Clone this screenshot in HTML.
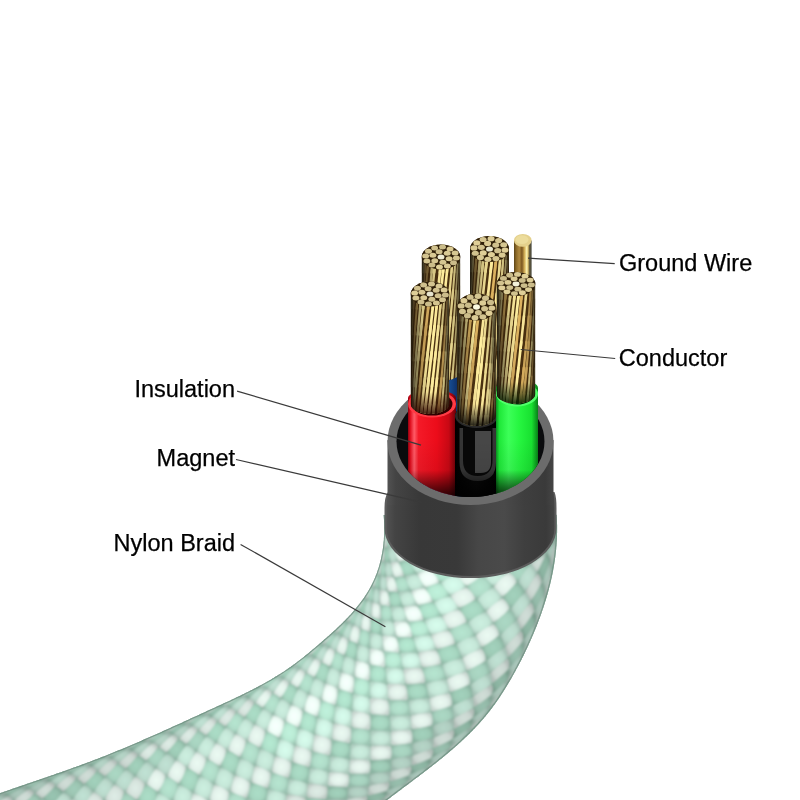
<!DOCTYPE html>
<html><head><meta charset="utf-8"><style>
html,body{margin:0;padding:0;background:#fff;width:800px;height:800px;overflow:hidden}
svg{display:block}
#lbls{position:absolute;left:0;top:0;will-change:transform}
.lbl{font-family:"Liberation Sans",sans-serif;font-size:23.5px;fill:#000;stroke:#000;stroke-width:0.25px}
</style></head><body>
<svg width="800" height="800" viewBox="0 0 800 800">
<defs>
<filter id="soft" x="-5%" y="-5%" width="110%" height="110%"><feGaussianBlur stdDeviation="1.2"/></filter>
<filter id="soft2" x="-5%" y="-5%" width="110%" height="110%"><feGaussianBlur stdDeviation="0.35"/></filter>
<clipPath id="bodyclip"><path d="M383.6,514.9 L383.7,516.2 L383.8,517.5 L383.9,518.8 L384.0,520.1 L384.0,521.4 L384.1,522.6 L384.2,523.9 L384.2,525.2 L384.2,526.5 L384.2,527.8 L384.2,529.1 L384.2,530.4 L384.2,531.7 L384.2,533.0 L384.1,534.3 L384.1,535.6 L384.0,536.9 L383.9,538.2 L383.9,539.4 L383.8,540.7 L383.6,542.0 L383.5,543.3 L383.4,544.6 L383.2,545.9 L383.1,547.1 L382.9,548.4 L382.7,549.7 L382.5,551.0 L382.3,552.2 L382.1,553.5 L381.8,554.8 L381.6,556.0 L381.3,557.3 L381.1,558.5 L380.8,559.8 L380.5,561.0 L380.2,562.3 L379.8,563.5 L379.5,564.7 L379.1,565.9 L378.8,567.2 L378.4,568.4 L378.0,569.6 L377.6,570.8 L377.2,572.0 L376.8,573.2 L376.3,574.4 L375.8,575.6 L375.4,576.8 L374.9,577.9 L374.4,579.1 L373.9,580.3 L373.3,581.4 L372.8,582.6 L372.2,583.7 L371.7,584.8 L371.1,586.0 L370.5,587.1 L369.9,588.2 L369.2,589.3 L368.6,590.4 L368.0,591.5 L367.3,592.6 L366.6,593.7 L365.9,594.7 L365.2,595.8 L364.5,596.9 L363.8,597.9 L363.1,599.0 L362.3,600.0 L361.6,601.0 L360.8,602.1 L360.1,603.1 L359.3,604.1 L358.5,605.1 L357.7,606.1 L356.9,607.1 L356.1,608.1 L355.3,609.1 L354.5,610.1 L353.6,611.0 L352.8,612.0 L351.9,613.0 L351.1,613.9 L350.2,614.9 L349.3,615.8 L348.5,616.7 L347.6,617.7 L346.7,618.6 L345.8,619.5 L344.9,620.4 L344.0,621.3 L343.1,622.3 L342.2,623.2 L341.3,624.1 L340.4,624.9 L339.4,625.8 L338.5,626.7 L337.6,627.6 L336.6,628.5 L335.7,629.4 L334.8,630.2 L333.8,631.1 L332.9,632.0 L331.9,632.8 L331.0,633.7 L330.0,634.5 L329.1,635.4 L328.1,636.3 L327.1,637.1 L326.2,637.9 L325.2,638.8 L324.2,639.6 L323.3,640.5 L322.3,641.3 L321.3,642.2 L320.4,643.0 L319.4,643.8 L318.4,644.7 L317.5,645.5 L316.5,646.3 L315.5,647.2 L314.6,648.0 L313.6,648.8 L312.6,649.6 L311.6,650.4 L310.6,651.3 L309.7,652.1 L308.7,652.9 L307.7,653.7 L306.7,654.5 L305.7,655.3 L304.7,656.1 L303.8,656.9 L302.8,657.7 L301.8,658.5 L300.8,659.3 L299.8,660.0 L298.8,660.8 L297.7,661.6 L296.7,662.4 L295.7,663.1 L294.7,663.9 L293.7,664.6 L292.7,665.4 L291.6,666.1 L290.6,666.9 L289.6,667.6 L288.5,668.3 L287.5,669.0 L286.4,669.8 L285.4,670.5 L284.3,671.2 L283.3,671.9 L282.2,672.6 L281.1,673.2 L280.1,673.9 L279.0,674.6 L277.9,675.3 L276.8,676.0 L275.7,676.6 L274.6,677.3 L273.6,677.9 L272.5,678.6 L271.4,679.2 L270.3,679.9 L269.2,680.5 L268.0,681.2 L266.9,681.8 L265.8,682.4 L264.7,683.0 L263.6,683.7 L262.5,684.3 L261.3,684.9 L260.2,685.5 L259.1,686.1 L258.0,686.7 L256.8,687.3 L255.7,687.9 L254.6,688.5 L253.4,689.1 L252.3,689.7 L251.1,690.3 L250.0,690.8 L248.8,691.4 L247.7,692.0 L246.5,692.6 L245.4,693.1 L244.2,693.7 L243.1,694.3 L241.9,694.8 L240.8,695.4 L239.6,696.0 L238.5,696.5 L237.3,697.1 L236.1,697.6 L235.0,698.2 L233.8,698.7 L232.6,699.3 L231.5,699.8 L230.3,700.4 L229.1,700.9 L228.0,701.5 L226.8,702.0 L225.6,702.5 L224.5,703.1 L223.3,703.6 L222.1,704.2 L220.9,704.7 L219.8,705.2 L218.6,705.8 L217.4,706.3 L216.3,706.8 L215.1,707.4 L213.9,707.9 L212.7,708.5 L211.6,709.0 L210.4,709.5 L209.2,710.1 L208.1,710.6 L206.9,711.1 L205.7,711.7 L204.6,712.2 L203.4,712.7 L202.2,713.3 L201.0,713.8 L199.9,714.3 L198.7,714.9 L197.5,715.4 L196.4,715.9 L195.2,716.5 L194.0,717.0 L192.9,717.6 L191.7,718.1 L190.5,718.6 L189.4,719.2 L188.2,719.7 L187.0,720.2 L185.9,720.8 L184.7,721.3 L183.5,721.8 L182.4,722.4 L181.2,722.9 L180.1,723.4 L178.9,724.0 L177.7,724.5 L176.6,725.0 L175.4,725.5 L174.2,726.1 L173.1,726.6 L171.9,727.1 L170.7,727.7 L169.6,728.2 L168.4,728.7 L167.2,729.2 L166.1,729.8 L164.9,730.3 L163.7,730.8 L162.6,731.3 L161.4,731.9 L160.2,732.4 L159.1,732.9 L157.9,733.4 L156.7,734.0 L155.6,734.5 L154.4,735.0 L153.2,735.5 L152.1,736.0 L150.9,736.5 L149.7,737.1 L148.6,737.6 L147.4,738.1 L146.2,738.6 L145.0,739.1 L143.9,739.6 L142.7,740.1 L141.5,740.7 L140.4,741.2 L139.2,741.7 L138.0,742.2 L136.8,742.7 L135.7,743.2 L134.5,743.7 L133.3,744.2 L132.1,744.7 L131.0,745.2 L129.8,745.7 L128.6,746.2 L127.4,746.7 L126.3,747.2 L125.1,747.7 L123.9,748.2 L122.7,748.7 L121.6,749.2 L120.4,749.7 L119.2,750.1 L118.0,750.6 L116.8,751.1 L115.6,751.6 L114.5,752.1 L113.3,752.6 L112.1,753.0 L110.9,753.5 L109.7,754.0 L108.5,754.5 L107.3,755.0 L106.2,755.4 L105.0,755.9 L103.8,756.4 L102.6,756.8 L101.4,757.3 L100.2,757.8 L99.0,758.2 L97.8,758.7 L96.6,759.2 L95.4,759.6 L94.2,760.1 L93.0,760.5 L91.8,761.0 L90.6,761.4 L89.4,761.9 L88.2,762.3 L87.0,762.8 L85.8,763.2 L84.6,763.7 L83.4,764.1 L82.2,764.6 L81.0,765.0 L79.8,765.5 L78.6,765.9 L77.4,766.3 L76.2,766.8 L75.0,767.2 L73.8,767.6 L72.6,768.1 L71.3,768.5 L70.1,768.9 L68.9,769.4 L67.7,769.8 L66.5,770.2 L65.3,770.7 L64.1,771.1 L62.9,771.5 L61.7,771.9 L60.4,772.4 L59.2,772.8 L58.0,773.2 L56.8,773.6 L55.6,774.1 L54.4,774.5 L53.2,774.9 L52.0,775.3 L50.7,775.7 L49.5,776.2 L48.3,776.6 L47.1,777.0 L45.9,777.4 L44.7,777.8 L43.4,778.2 L42.2,778.7 L41.0,779.1 L39.8,779.5 L38.6,779.9 L37.4,780.3 L36.2,780.7 L34.9,781.2 L33.7,781.6 L32.5,782.0 L31.3,782.4 L30.1,782.8 L28.9,783.2 L27.7,783.6 L26.4,784.1 L25.2,784.5 L24.0,784.9 L22.8,785.3 L21.6,785.7 L20.4,786.1 L19.2,786.6 L17.9,787.0 L16.7,787.4 L15.5,787.8 L14.3,788.2 L13.1,788.6 L11.9,789.1 L10.7,789.5 L9.5,789.9 L8.3,790.3 L7.1,790.7 L5.8,791.2 L4.6,791.6 L3.4,792.0 L2.2,792.4 L1.0,792.8 L-0.2,793.3 L-1.4,793.7 L-2.6,794.1 L-3.8,794.5 L-5.0,795.0 L-5.0,810.0 L384.0,810.0 L383.2,803.1 L383.9,802.5 L384.6,802.0 L385.3,801.4 L386.0,800.9 L386.7,800.4 L387.4,799.8 L388.1,799.3 L388.8,798.8 L389.5,798.2 L390.2,797.7 L390.9,797.2 L391.6,796.6 L392.3,796.1 L393.0,795.6 L393.7,795.0 L394.4,794.5 L395.1,794.0 L395.8,793.4 L396.5,792.9 L397.2,792.4 L397.9,791.8 L398.6,791.3 L399.4,790.8 L400.1,790.2 L400.8,789.7 L401.5,789.2 L402.2,788.6 L402.9,788.1 L403.6,787.6 L404.3,787.1 L405.0,786.5 L405.7,786.0 L406.4,785.5 L407.1,784.9 L407.8,784.4 L408.6,783.9 L409.3,783.3 L410.0,782.8 L410.7,782.3 L411.4,781.7 L412.1,781.2 L412.8,780.7 L413.5,780.1 L414.2,779.6 L414.9,779.1 L415.6,778.5 L416.3,778.0 L417.0,777.5 L417.8,776.9 L418.5,776.4 L419.2,775.9 L419.9,775.3 L420.6,774.8 L421.3,774.3 L422.0,773.7 L422.7,773.2 L423.4,772.7 L424.1,772.1 L424.8,771.6 L425.5,771.0 L426.2,770.5 L426.9,770.0 L427.6,769.4 L428.3,768.9 L429.0,768.3 L429.7,767.8 L430.4,767.3 L431.1,766.7 L431.8,766.2 L432.5,765.6 L433.2,765.1 L433.9,764.5 L434.6,764.0 L435.3,763.4 L436.0,762.9 L436.7,762.3 L437.4,761.8 L438.1,761.2 L438.7,760.7 L439.4,760.1 L440.1,759.6 L440.8,759.0 L441.5,758.5 L442.2,757.9 L442.9,757.3 L443.5,756.8 L444.2,756.2 L444.9,755.7 L445.6,755.1 L446.3,754.5 L446.9,754.0 L447.6,753.4 L448.3,752.8 L449.0,752.3 L449.6,751.7 L450.3,751.1 L451.0,750.6 L451.6,750.0 L452.3,749.4 L453.0,748.8 L453.6,748.3 L454.3,747.7 L455.0,747.1 L455.6,746.5 L456.3,745.9 L456.9,745.4 L457.6,744.8 L458.2,744.2 L458.9,743.6 L459.5,743.0 L460.2,742.4 L460.8,741.8 L461.5,741.2 L462.1,740.6 L462.8,740.0 L463.4,739.4 L464.0,738.8 L464.7,738.2 L465.3,737.6 L466.0,737.0 L466.6,736.4 L467.2,735.8 L467.8,735.2 L468.5,734.6 L469.1,734.0 L469.7,733.4 L470.3,732.7 L470.9,732.1 L471.6,731.5 L472.2,730.9 L472.8,730.2 L473.4,729.6 L474.0,729.0 L474.6,728.4 L475.2,727.7 L475.8,727.1 L476.4,726.5 L477.0,725.8 L477.6,725.2 L478.2,724.5 L478.8,723.9 L479.4,723.2 L480.0,722.6 L480.5,721.9 L481.1,721.3 L481.7,720.6 L482.3,720.0 L482.8,719.3 L483.4,718.7 L484.0,718.0 L484.5,717.3 L485.1,716.7 L485.7,716.0 L486.2,715.3 L486.8,714.6 L487.3,714.0 L487.9,713.3 L488.4,712.6 L489.0,711.9 L489.5,711.2 L490.1,710.5 L490.6,709.8 L491.1,709.1 L491.7,708.5 L492.2,707.8 L492.7,707.0 L493.2,706.3 L493.7,705.6 L494.3,704.9 L494.8,704.2 L495.3,703.5 L495.8,702.8 L496.3,702.1 L496.8,701.4 L497.3,700.6 L497.8,699.9 L498.3,699.2 L498.8,698.5 L499.3,697.7 L499.8,697.0 L500.3,696.3 L500.8,695.5 L501.2,694.8 L501.7,694.0 L502.2,693.3 L502.7,692.6 L503.2,691.8 L503.6,691.1 L504.1,690.3 L504.6,689.6 L505.0,688.8 L505.5,688.1 L506.0,687.3 L506.4,686.6 L506.9,685.8 L507.3,685.0 L507.8,684.3 L508.2,683.5 L508.7,682.8 L509.1,682.0 L509.6,681.2 L510.0,680.5 L510.5,679.7 L510.9,678.9 L511.4,678.2 L511.8,677.4 L512.3,676.6 L512.7,675.8 L513.1,675.1 L513.6,674.3 L514.0,673.5 L514.4,672.7 L514.8,672.0 L515.3,671.2 L515.7,670.4 L516.1,669.6 L516.5,668.8 L517.0,668.1 L517.4,667.3 L517.8,666.5 L518.2,665.7 L518.6,664.9 L519.1,664.1 L519.5,663.3 L519.9,662.5 L520.3,661.8 L520.7,661.0 L521.1,660.2 L521.5,659.4 L521.9,658.6 L522.3,657.8 L522.7,657.0 L523.1,656.2 L523.5,655.4 L523.9,654.6 L524.3,653.8 L524.7,653.0 L525.0,652.2 L525.4,651.4 L525.8,650.6 L526.2,649.8 L526.6,649.0 L527.0,648.2 L527.3,647.4 L527.7,646.6 L528.1,645.8 L528.5,645.0 L528.8,644.1 L529.2,643.3 L529.6,642.5 L529.9,641.7 L530.3,640.9 L530.6,640.1 L531.0,639.3 L531.4,638.5 L531.7,637.7 L532.1,636.8 L532.4,636.0 L532.8,635.2 L533.1,634.4 L533.5,633.6 L533.8,632.8 L534.1,631.9 L534.5,631.1 L534.8,630.3 L535.2,629.5 L535.5,628.6 L535.8,627.8 L536.2,627.0 L536.5,626.2 L536.8,625.4 L537.1,624.5 L537.5,623.7 L537.8,622.9 L538.1,622.1 L538.4,621.2 L538.7,620.4 L539.0,619.6 L539.3,618.7 L539.7,617.9 L540.0,617.1 L540.3,616.2 L540.6,615.4 L540.9,614.6 L541.2,613.8 L541.5,612.9 L541.7,612.1 L542.0,611.3 L542.3,610.4 L542.6,609.6 L542.9,608.7 L543.2,607.9 L543.5,607.1 L543.7,606.2 L544.0,605.4 L544.3,604.6 L544.5,603.7 L544.8,602.9 L545.1,602.0 L545.3,601.2 L545.6,600.4 L545.9,599.5 L546.1,598.7 L546.4,597.8 L546.6,597.0 L546.9,596.2 L547.1,595.3 L547.4,594.5 L547.6,593.6 L547.8,592.8 L548.1,591.9 L548.3,591.1 L548.5,590.2 L548.8,589.4 L549.0,588.5 L549.2,587.7 L549.4,586.8 L549.6,586.0 L549.9,585.1 L550.1,584.3 L550.3,583.4 L550.5,582.6 L550.7,581.7 L550.9,580.9 L551.1,580.0 L551.3,579.1 L551.5,578.3 L551.7,577.4 L551.8,576.6 L552.0,575.7 L552.2,574.9 L552.4,574.0 L552.6,573.1 L552.7,572.3 L552.9,571.4 L553.1,570.6 L553.2,569.7 L553.4,568.8 L553.5,568.0 L553.7,567.1 L553.8,566.2 L554.0,565.4 L554.1,564.5 L554.3,563.6 L554.4,562.8 L554.5,561.9 L554.7,561.0 L554.8,560.2 L554.9,559.3 L555.0,558.4 L555.2,557.5 L555.3,556.7 L555.4,555.8 L555.5,554.9 L555.6,554.0 L555.7,553.2 L555.8,552.3 L555.9,551.4 L556.0,550.5 L556.1,549.7 L556.2,548.8 L556.2,547.9 L556.3,547.0 L556.4,546.1 L556.5,545.3 L556.5,544.4 L556.6,543.5 L556.6,542.6 L556.7,541.7 L556.8,540.8 L556.8,540.0 L556.9,539.1 L556.9,538.2 L556.9,537.3 L557.0,536.4 L557.0,535.5 L557.0,534.6 L557.0,533.7 L557.1,532.8 L557.1,531.9 L557.1,531.1 L557.1,530.2 L557.1,529.3 L557.1,528.4 L557.1,527.5 L557.1,526.6 L557.1,525.7 L557.1,524.8 L557.0,523.9 L557.0,523.0 L557.0,522.1 L557.0,521.2 L556.9,520.3 L556.9,519.4 L556.8,518.5 L556.8,517.6 L556.7,516.7 L556.7,515.8 L556.6,514.8 Z"/></clipPath>
<linearGradient id="sleeveG" x1="0" x2="1" y1="0" y2="0">
<stop offset="0" stop-color="#525252"/><stop offset="0.05" stop-color="#444"/><stop offset="0.2" stop-color="#383838"/><stop offset="0.42" stop-color="#393939"/><stop offset="0.55" stop-color="#474747"/><stop offset="0.7" stop-color="#4a4a4a"/><stop offset="0.82" stop-color="#3f3f3f"/><stop offset="0.95" stop-color="#3a3a3a"/><stop offset="1" stop-color="#454545"/>
</linearGradient>
<linearGradient id="cshade" x1="0" x2="1" y1="0" y2="0">
<stop offset="0" stop-color="#000" stop-opacity="0.7"/><stop offset="0.1" stop-color="#000" stop-opacity="0.3"/><stop offset="0.3" stop-color="#000" stop-opacity="0.05"/><stop offset="0.6" stop-color="#000" stop-opacity="0"/><stop offset="0.85" stop-color="#000" stop-opacity="0.08"/><stop offset="1" stop-color="#000" stop-opacity="0.55"/>
</linearGradient>
<linearGradient id="holefade" x1="0" x2="0" y1="0" y2="1">
<stop offset="0" stop-color="#000" stop-opacity="0"/><stop offset="0.5" stop-color="#000" stop-opacity="0.06"/><stop offset="0.78" stop-color="#000" stop-opacity="0.55"/><stop offset="1" stop-color="#000" stop-opacity="0.9"/>
</linearGradient>
<clipPath id="holeclip"><ellipse cx="470.5" cy="441.5" rx="74" ry="55.5"/><rect x="300" y="150" width="300" height="291.5"/></clipPath>
</defs>
<rect width="800" height="800" fill="#fff"/>

<path d="M383.6,514.9 L383.7,516.2 L383.8,517.5 L383.9,518.8 L384.0,520.1 L384.0,521.4 L384.1,522.6 L384.2,523.9 L384.2,525.2 L384.2,526.5 L384.2,527.8 L384.2,529.1 L384.2,530.4 L384.2,531.7 L384.2,533.0 L384.1,534.3 L384.1,535.6 L384.0,536.9 L383.9,538.2 L383.9,539.4 L383.8,540.7 L383.6,542.0 L383.5,543.3 L383.4,544.6 L383.2,545.9 L383.1,547.1 L382.9,548.4 L382.7,549.7 L382.5,551.0 L382.3,552.2 L382.1,553.5 L381.8,554.8 L381.6,556.0 L381.3,557.3 L381.1,558.5 L380.8,559.8 L380.5,561.0 L380.2,562.3 L379.8,563.5 L379.5,564.7 L379.1,565.9 L378.8,567.2 L378.4,568.4 L378.0,569.6 L377.6,570.8 L377.2,572.0 L376.8,573.2 L376.3,574.4 L375.8,575.6 L375.4,576.8 L374.9,577.9 L374.4,579.1 L373.9,580.3 L373.3,581.4 L372.8,582.6 L372.2,583.7 L371.7,584.8 L371.1,586.0 L370.5,587.1 L369.9,588.2 L369.2,589.3 L368.6,590.4 L368.0,591.5 L367.3,592.6 L366.6,593.7 L365.9,594.7 L365.2,595.8 L364.5,596.9 L363.8,597.9 L363.1,599.0 L362.3,600.0 L361.6,601.0 L360.8,602.1 L360.1,603.1 L359.3,604.1 L358.5,605.1 L357.7,606.1 L356.9,607.1 L356.1,608.1 L355.3,609.1 L354.5,610.1 L353.6,611.0 L352.8,612.0 L351.9,613.0 L351.1,613.9 L350.2,614.9 L349.3,615.8 L348.5,616.7 L347.6,617.7 L346.7,618.6 L345.8,619.5 L344.9,620.4 L344.0,621.3 L343.1,622.3 L342.2,623.2 L341.3,624.1 L340.4,624.9 L339.4,625.8 L338.5,626.7 L337.6,627.6 L336.6,628.5 L335.7,629.4 L334.8,630.2 L333.8,631.1 L332.9,632.0 L331.9,632.8 L331.0,633.7 L330.0,634.5 L329.1,635.4 L328.1,636.3 L327.1,637.1 L326.2,637.9 L325.2,638.8 L324.2,639.6 L323.3,640.5 L322.3,641.3 L321.3,642.2 L320.4,643.0 L319.4,643.8 L318.4,644.7 L317.5,645.5 L316.5,646.3 L315.5,647.2 L314.6,648.0 L313.6,648.8 L312.6,649.6 L311.6,650.4 L310.6,651.3 L309.7,652.1 L308.7,652.9 L307.7,653.7 L306.7,654.5 L305.7,655.3 L304.7,656.1 L303.8,656.9 L302.8,657.7 L301.8,658.5 L300.8,659.3 L299.8,660.0 L298.8,660.8 L297.7,661.6 L296.7,662.4 L295.7,663.1 L294.7,663.9 L293.7,664.6 L292.7,665.4 L291.6,666.1 L290.6,666.9 L289.6,667.6 L288.5,668.3 L287.5,669.0 L286.4,669.8 L285.4,670.5 L284.3,671.2 L283.3,671.9 L282.2,672.6 L281.1,673.2 L280.1,673.9 L279.0,674.6 L277.9,675.3 L276.8,676.0 L275.7,676.6 L274.6,677.3 L273.6,677.9 L272.5,678.6 L271.4,679.2 L270.3,679.9 L269.2,680.5 L268.0,681.2 L266.9,681.8 L265.8,682.4 L264.7,683.0 L263.6,683.7 L262.5,684.3 L261.3,684.9 L260.2,685.5 L259.1,686.1 L258.0,686.7 L256.8,687.3 L255.7,687.9 L254.6,688.5 L253.4,689.1 L252.3,689.7 L251.1,690.3 L250.0,690.8 L248.8,691.4 L247.7,692.0 L246.5,692.6 L245.4,693.1 L244.2,693.7 L243.1,694.3 L241.9,694.8 L240.8,695.4 L239.6,696.0 L238.5,696.5 L237.3,697.1 L236.1,697.6 L235.0,698.2 L233.8,698.7 L232.6,699.3 L231.5,699.8 L230.3,700.4 L229.1,700.9 L228.0,701.5 L226.8,702.0 L225.6,702.5 L224.5,703.1 L223.3,703.6 L222.1,704.2 L220.9,704.7 L219.8,705.2 L218.6,705.8 L217.4,706.3 L216.3,706.8 L215.1,707.4 L213.9,707.9 L212.7,708.5 L211.6,709.0 L210.4,709.5 L209.2,710.1 L208.1,710.6 L206.9,711.1 L205.7,711.7 L204.6,712.2 L203.4,712.7 L202.2,713.3 L201.0,713.8 L199.9,714.3 L198.7,714.9 L197.5,715.4 L196.4,715.9 L195.2,716.5 L194.0,717.0 L192.9,717.6 L191.7,718.1 L190.5,718.6 L189.4,719.2 L188.2,719.7 L187.0,720.2 L185.9,720.8 L184.7,721.3 L183.5,721.8 L182.4,722.4 L181.2,722.9 L180.1,723.4 L178.9,724.0 L177.7,724.5 L176.6,725.0 L175.4,725.5 L174.2,726.1 L173.1,726.6 L171.9,727.1 L170.7,727.7 L169.6,728.2 L168.4,728.7 L167.2,729.2 L166.1,729.8 L164.9,730.3 L163.7,730.8 L162.6,731.3 L161.4,731.9 L160.2,732.4 L159.1,732.9 L157.9,733.4 L156.7,734.0 L155.6,734.5 L154.4,735.0 L153.2,735.5 L152.1,736.0 L150.9,736.5 L149.7,737.1 L148.6,737.6 L147.4,738.1 L146.2,738.6 L145.0,739.1 L143.9,739.6 L142.7,740.1 L141.5,740.7 L140.4,741.2 L139.2,741.7 L138.0,742.2 L136.8,742.7 L135.7,743.2 L134.5,743.7 L133.3,744.2 L132.1,744.7 L131.0,745.2 L129.8,745.7 L128.6,746.2 L127.4,746.7 L126.3,747.2 L125.1,747.7 L123.9,748.2 L122.7,748.7 L121.6,749.2 L120.4,749.7 L119.2,750.1 L118.0,750.6 L116.8,751.1 L115.6,751.6 L114.5,752.1 L113.3,752.6 L112.1,753.0 L110.9,753.5 L109.7,754.0 L108.5,754.5 L107.3,755.0 L106.2,755.4 L105.0,755.9 L103.8,756.4 L102.6,756.8 L101.4,757.3 L100.2,757.8 L99.0,758.2 L97.8,758.7 L96.6,759.2 L95.4,759.6 L94.2,760.1 L93.0,760.5 L91.8,761.0 L90.6,761.4 L89.4,761.9 L88.2,762.3 L87.0,762.8 L85.8,763.2 L84.6,763.7 L83.4,764.1 L82.2,764.6 L81.0,765.0 L79.8,765.5 L78.6,765.9 L77.4,766.3 L76.2,766.8 L75.0,767.2 L73.8,767.6 L72.6,768.1 L71.3,768.5 L70.1,768.9 L68.9,769.4 L67.7,769.8 L66.5,770.2 L65.3,770.7 L64.1,771.1 L62.9,771.5 L61.7,771.9 L60.4,772.4 L59.2,772.8 L58.0,773.2 L56.8,773.6 L55.6,774.1 L54.4,774.5 L53.2,774.9 L52.0,775.3 L50.7,775.7 L49.5,776.2 L48.3,776.6 L47.1,777.0 L45.9,777.4 L44.7,777.8 L43.4,778.2 L42.2,778.7 L41.0,779.1 L39.8,779.5 L38.6,779.9 L37.4,780.3 L36.2,780.7 L34.9,781.2 L33.7,781.6 L32.5,782.0 L31.3,782.4 L30.1,782.8 L28.9,783.2 L27.7,783.6 L26.4,784.1 L25.2,784.5 L24.0,784.9 L22.8,785.3 L21.6,785.7 L20.4,786.1 L19.2,786.6 L17.9,787.0 L16.7,787.4 L15.5,787.8 L14.3,788.2 L13.1,788.6 L11.9,789.1 L10.7,789.5 L9.5,789.9 L8.3,790.3 L7.1,790.7 L5.8,791.2 L4.6,791.6 L3.4,792.0 L2.2,792.4 L1.0,792.8 L-0.2,793.3 L-1.4,793.7 L-2.6,794.1 L-3.8,794.5 L-5.0,795.0 L-5.0,810.0 L384.0,810.0 L383.2,803.1 L383.9,802.5 L384.6,802.0 L385.3,801.4 L386.0,800.9 L386.7,800.4 L387.4,799.8 L388.1,799.3 L388.8,798.8 L389.5,798.2 L390.2,797.7 L390.9,797.2 L391.6,796.6 L392.3,796.1 L393.0,795.6 L393.7,795.0 L394.4,794.5 L395.1,794.0 L395.8,793.4 L396.5,792.9 L397.2,792.4 L397.9,791.8 L398.6,791.3 L399.4,790.8 L400.1,790.2 L400.8,789.7 L401.5,789.2 L402.2,788.6 L402.9,788.1 L403.6,787.6 L404.3,787.1 L405.0,786.5 L405.7,786.0 L406.4,785.5 L407.1,784.9 L407.8,784.4 L408.6,783.9 L409.3,783.3 L410.0,782.8 L410.7,782.3 L411.4,781.7 L412.1,781.2 L412.8,780.7 L413.5,780.1 L414.2,779.6 L414.9,779.1 L415.6,778.5 L416.3,778.0 L417.0,777.5 L417.8,776.9 L418.5,776.4 L419.2,775.9 L419.9,775.3 L420.6,774.8 L421.3,774.3 L422.0,773.7 L422.7,773.2 L423.4,772.7 L424.1,772.1 L424.8,771.6 L425.5,771.0 L426.2,770.5 L426.9,770.0 L427.6,769.4 L428.3,768.9 L429.0,768.3 L429.7,767.8 L430.4,767.3 L431.1,766.7 L431.8,766.2 L432.5,765.6 L433.2,765.1 L433.9,764.5 L434.6,764.0 L435.3,763.4 L436.0,762.9 L436.7,762.3 L437.4,761.8 L438.1,761.2 L438.7,760.7 L439.4,760.1 L440.1,759.6 L440.8,759.0 L441.5,758.5 L442.2,757.9 L442.9,757.3 L443.5,756.8 L444.2,756.2 L444.9,755.7 L445.6,755.1 L446.3,754.5 L446.9,754.0 L447.6,753.4 L448.3,752.8 L449.0,752.3 L449.6,751.7 L450.3,751.1 L451.0,750.6 L451.6,750.0 L452.3,749.4 L453.0,748.8 L453.6,748.3 L454.3,747.7 L455.0,747.1 L455.6,746.5 L456.3,745.9 L456.9,745.4 L457.6,744.8 L458.2,744.2 L458.9,743.6 L459.5,743.0 L460.2,742.4 L460.8,741.8 L461.5,741.2 L462.1,740.6 L462.8,740.0 L463.4,739.4 L464.0,738.8 L464.7,738.2 L465.3,737.6 L466.0,737.0 L466.6,736.4 L467.2,735.8 L467.8,735.2 L468.5,734.6 L469.1,734.0 L469.7,733.4 L470.3,732.7 L470.9,732.1 L471.6,731.5 L472.2,730.9 L472.8,730.2 L473.4,729.6 L474.0,729.0 L474.6,728.4 L475.2,727.7 L475.8,727.1 L476.4,726.5 L477.0,725.8 L477.6,725.2 L478.2,724.5 L478.8,723.9 L479.4,723.2 L480.0,722.6 L480.5,721.9 L481.1,721.3 L481.7,720.6 L482.3,720.0 L482.8,719.3 L483.4,718.7 L484.0,718.0 L484.5,717.3 L485.1,716.7 L485.7,716.0 L486.2,715.3 L486.8,714.6 L487.3,714.0 L487.9,713.3 L488.4,712.6 L489.0,711.9 L489.5,711.2 L490.1,710.5 L490.6,709.8 L491.1,709.1 L491.7,708.5 L492.2,707.8 L492.7,707.0 L493.2,706.3 L493.7,705.6 L494.3,704.9 L494.8,704.2 L495.3,703.5 L495.8,702.8 L496.3,702.1 L496.8,701.4 L497.3,700.6 L497.8,699.9 L498.3,699.2 L498.8,698.5 L499.3,697.7 L499.8,697.0 L500.3,696.3 L500.8,695.5 L501.2,694.8 L501.7,694.0 L502.2,693.3 L502.7,692.6 L503.2,691.8 L503.6,691.1 L504.1,690.3 L504.6,689.6 L505.0,688.8 L505.5,688.1 L506.0,687.3 L506.4,686.6 L506.9,685.8 L507.3,685.0 L507.8,684.3 L508.2,683.5 L508.7,682.8 L509.1,682.0 L509.6,681.2 L510.0,680.5 L510.5,679.7 L510.9,678.9 L511.4,678.2 L511.8,677.4 L512.3,676.6 L512.7,675.8 L513.1,675.1 L513.6,674.3 L514.0,673.5 L514.4,672.7 L514.8,672.0 L515.3,671.2 L515.7,670.4 L516.1,669.6 L516.5,668.8 L517.0,668.1 L517.4,667.3 L517.8,666.5 L518.2,665.7 L518.6,664.9 L519.1,664.1 L519.5,663.3 L519.9,662.5 L520.3,661.8 L520.7,661.0 L521.1,660.2 L521.5,659.4 L521.9,658.6 L522.3,657.8 L522.7,657.0 L523.1,656.2 L523.5,655.4 L523.9,654.6 L524.3,653.8 L524.7,653.0 L525.0,652.2 L525.4,651.4 L525.8,650.6 L526.2,649.8 L526.6,649.0 L527.0,648.2 L527.3,647.4 L527.7,646.6 L528.1,645.8 L528.5,645.0 L528.8,644.1 L529.2,643.3 L529.6,642.5 L529.9,641.7 L530.3,640.9 L530.6,640.1 L531.0,639.3 L531.4,638.5 L531.7,637.7 L532.1,636.8 L532.4,636.0 L532.8,635.2 L533.1,634.4 L533.5,633.6 L533.8,632.8 L534.1,631.9 L534.5,631.1 L534.8,630.3 L535.2,629.5 L535.5,628.6 L535.8,627.8 L536.2,627.0 L536.5,626.2 L536.8,625.4 L537.1,624.5 L537.5,623.7 L537.8,622.9 L538.1,622.1 L538.4,621.2 L538.7,620.4 L539.0,619.6 L539.3,618.7 L539.7,617.9 L540.0,617.1 L540.3,616.2 L540.6,615.4 L540.9,614.6 L541.2,613.8 L541.5,612.9 L541.7,612.1 L542.0,611.3 L542.3,610.4 L542.6,609.6 L542.9,608.7 L543.2,607.9 L543.5,607.1 L543.7,606.2 L544.0,605.4 L544.3,604.6 L544.5,603.7 L544.8,602.9 L545.1,602.0 L545.3,601.2 L545.6,600.4 L545.9,599.5 L546.1,598.7 L546.4,597.8 L546.6,597.0 L546.9,596.2 L547.1,595.3 L547.4,594.5 L547.6,593.6 L547.8,592.8 L548.1,591.9 L548.3,591.1 L548.5,590.2 L548.8,589.4 L549.0,588.5 L549.2,587.7 L549.4,586.8 L549.6,586.0 L549.9,585.1 L550.1,584.3 L550.3,583.4 L550.5,582.6 L550.7,581.7 L550.9,580.9 L551.1,580.0 L551.3,579.1 L551.5,578.3 L551.7,577.4 L551.8,576.6 L552.0,575.7 L552.2,574.9 L552.4,574.0 L552.6,573.1 L552.7,572.3 L552.9,571.4 L553.1,570.6 L553.2,569.7 L553.4,568.8 L553.5,568.0 L553.7,567.1 L553.8,566.2 L554.0,565.4 L554.1,564.5 L554.3,563.6 L554.4,562.8 L554.5,561.9 L554.7,561.0 L554.8,560.2 L554.9,559.3 L555.0,558.4 L555.2,557.5 L555.3,556.7 L555.4,555.8 L555.5,554.9 L555.6,554.0 L555.7,553.2 L555.8,552.3 L555.9,551.4 L556.0,550.5 L556.1,549.7 L556.2,548.8 L556.2,547.9 L556.3,547.0 L556.4,546.1 L556.5,545.3 L556.5,544.4 L556.6,543.5 L556.6,542.6 L556.7,541.7 L556.8,540.8 L556.8,540.0 L556.9,539.1 L556.9,538.2 L556.9,537.3 L557.0,536.4 L557.0,535.5 L557.0,534.6 L557.0,533.7 L557.1,532.8 L557.1,531.9 L557.1,531.1 L557.1,530.2 L557.1,529.3 L557.1,528.4 L557.1,527.5 L557.1,526.6 L557.1,525.7 L557.1,524.8 L557.0,523.9 L557.0,523.0 L557.0,522.1 L557.0,521.2 L556.9,520.3 L556.9,519.4 L556.8,518.5 L556.8,517.6 L556.7,516.7 L556.7,515.8 L556.6,514.8 Z" fill="#86ae9c"/>
<g clip-path="url(#bodyclip)"><g filter="url(#soft)">
<defs><radialGradient id="d01" cx="0.5" cy="0.5" r="0.5"><stop offset="0" stop-color="#9da7a2"/><stop offset="0.65" stop-color="#96a09c"/><stop offset="1" stop-color="#868e8a"/></radialGradient><radialGradient id="d02" cx="0.5" cy="0.5" r="0.5"><stop offset="0" stop-color="#aab5b0"/><stop offset="0.65" stop-color="#a3aea9"/><stop offset="1" stop-color="#919a96"/></radialGradient><radialGradient id="d03" cx="0.5" cy="0.5" r="0.5"><stop offset="0" stop-color="#b7c3bd"/><stop offset="0.65" stop-color="#b0bbb6"/><stop offset="1" stop-color="#9ca6a2"/></radialGradient><radialGradient id="d04" cx="0.5" cy="0.5" r="0.5"><stop offset="0" stop-color="#c4d1cb"/><stop offset="0.65" stop-color="#bcc9c3"/><stop offset="1" stop-color="#a7b2ad"/></radialGradient><radialGradient id="d05" cx="0.5" cy="0.5" r="0.5"><stop offset="0" stop-color="#d1dfd8"/><stop offset="0.65" stop-color="#c9d6d0"/><stop offset="1" stop-color="#b3beb9"/></radialGradient><radialGradient id="d06" cx="0.5" cy="0.5" r="0.5"><stop offset="0" stop-color="#deede6"/><stop offset="0.65" stop-color="#d6e3dd"/><stop offset="1" stop-color="#becac4"/></radialGradient><radialGradient id="d07" cx="0.5" cy="0.5" r="0.5"><stop offset="0" stop-color="#ebfbf3"/><stop offset="0.65" stop-color="#e2f1ea"/><stop offset="1" stop-color="#c9d6d0"/></radialGradient><radialGradient id="d08" cx="0.5" cy="0.5" r="0.5"><stop offset="0" stop-color="#f9ffff"/><stop offset="0.65" stop-color="#effef7"/><stop offset="1" stop-color="#d4e2dc"/></radialGradient><radialGradient id="d11" cx="0.5" cy="0.5" r="0.5"><stop offset="0" stop-color="#88a096"/><stop offset="0.65" stop-color="#839a90"/><stop offset="1" stop-color="#748980"/></radialGradient><radialGradient id="d12" cx="0.5" cy="0.5" r="0.5"><stop offset="0" stop-color="#94ada2"/><stop offset="0.65" stop-color="#8ea79c"/><stop offset="1" stop-color="#7e948b"/></radialGradient><radialGradient id="d13" cx="0.5" cy="0.5" r="0.5"><stop offset="0" stop-color="#9fbbaf"/><stop offset="0.65" stop-color="#99b3a8"/><stop offset="1" stop-color="#88a095"/></radialGradient><radialGradient id="d14" cx="0.5" cy="0.5" r="0.5"><stop offset="0" stop-color="#abc8bc"/><stop offset="0.65" stop-color="#a4c0b4"/><stop offset="1" stop-color="#92aba0"/></radialGradient><radialGradient id="d15" cx="0.5" cy="0.5" r="0.5"><stop offset="0" stop-color="#b6d6c8"/><stop offset="0.65" stop-color="#afcdc0"/><stop offset="1" stop-color="#9cb6ab"/></radialGradient><radialGradient id="d16" cx="0.5" cy="0.5" r="0.5"><stop offset="0" stop-color="#c1e3d5"/><stop offset="0.65" stop-color="#badacc"/><stop offset="1" stop-color="#a5c2b6"/></radialGradient><radialGradient id="d17" cx="0.5" cy="0.5" r="0.5"><stop offset="0" stop-color="#cdf0e1"/><stop offset="0.65" stop-color="#c5e7d8"/><stop offset="1" stop-color="#afcdc0"/></radialGradient><radialGradient id="d18" cx="0.5" cy="0.5" r="0.5"><stop offset="0" stop-color="#d8feee"/><stop offset="0.65" stop-color="#d0f4e5"/><stop offset="1" stop-color="#b9d9cb"/></radialGradient><radialGradient id="d20" cx="0.5" cy="0.5" r="0.5"><stop offset="0" stop-color="#6f8c7f"/><stop offset="0.65" stop-color="#6b877a"/><stop offset="1" stop-color="#5f786d"/></radialGradient><radialGradient id="d21" cx="0.5" cy="0.5" r="0.5"><stop offset="0" stop-color="#79998b"/><stop offset="0.65" stop-color="#759386"/><stop offset="1" stop-color="#688377"/></radialGradient><radialGradient id="d22" cx="0.5" cy="0.5" r="0.5"><stop offset="0" stop-color="#84a697"/><stop offset="0.65" stop-color="#7fa091"/><stop offset="1" stop-color="#708e81"/></radialGradient><radialGradient id="d23" cx="0.5" cy="0.5" r="0.5"><stop offset="0" stop-color="#8eb3a2"/><stop offset="0.65" stop-color="#88ac9c"/><stop offset="1" stop-color="#79998b"/></radialGradient><radialGradient id="d24" cx="0.5" cy="0.5" r="0.5"><stop offset="0" stop-color="#98c0ae"/><stop offset="0.65" stop-color="#92b8a7"/><stop offset="1" stop-color="#82a495"/></radialGradient><radialGradient id="d25" cx="0.5" cy="0.5" r="0.5"><stop offset="0" stop-color="#a2cdba"/><stop offset="0.65" stop-color="#9cc5b2"/><stop offset="1" stop-color="#8baf9f"/></radialGradient><radialGradient id="d26" cx="0.5" cy="0.5" r="0.5"><stop offset="0" stop-color="#acd9c5"/><stop offset="0.65" stop-color="#a6d1be"/><stop offset="1" stop-color="#93baa9"/></radialGradient><radialGradient id="d27" cx="0.5" cy="0.5" r="0.5"><stop offset="0" stop-color="#b7e6d1"/><stop offset="0.65" stop-color="#b0ddc9"/><stop offset="1" stop-color="#9cc5b3"/></radialGradient><radialGradient id="d28" cx="0.5" cy="0.5" r="0.5"><stop offset="0" stop-color="#c1f3dd"/><stop offset="0.65" stop-color="#b9ead4"/><stop offset="1" stop-color="#a5d0bd"/></radialGradient><radialGradient id="d31" cx="0.5" cy="0.5" r="0.5"><stop offset="0" stop-color="#9da7a2"/><stop offset="0.65" stop-color="#96a09c"/><stop offset="1" stop-color="#868e8a"/></radialGradient><radialGradient id="d32" cx="0.5" cy="0.5" r="0.5"><stop offset="0" stop-color="#aab5b0"/><stop offset="0.65" stop-color="#a3aea9"/><stop offset="1" stop-color="#919a96"/></radialGradient><radialGradient id="d33" cx="0.5" cy="0.5" r="0.5"><stop offset="0" stop-color="#b7c3bd"/><stop offset="0.65" stop-color="#b0bbb6"/><stop offset="1" stop-color="#9ca6a2"/></radialGradient><radialGradient id="d34" cx="0.5" cy="0.5" r="0.5"><stop offset="0" stop-color="#c4d1cb"/><stop offset="0.65" stop-color="#bcc9c3"/><stop offset="1" stop-color="#a7b2ad"/></radialGradient><radialGradient id="d35" cx="0.5" cy="0.5" r="0.5"><stop offset="0" stop-color="#d1dfd8"/><stop offset="0.65" stop-color="#c9d6d0"/><stop offset="1" stop-color="#b3beb9"/></radialGradient><radialGradient id="d36" cx="0.5" cy="0.5" r="0.5"><stop offset="0" stop-color="#deede6"/><stop offset="0.65" stop-color="#d6e3dd"/><stop offset="1" stop-color="#becac4"/></radialGradient><radialGradient id="d37" cx="0.5" cy="0.5" r="0.5"><stop offset="0" stop-color="#ebfbf3"/><stop offset="0.65" stop-color="#e2f1ea"/><stop offset="1" stop-color="#c9d6d0"/></radialGradient><radialGradient id="d38" cx="0.5" cy="0.5" r="0.5"><stop offset="0" stop-color="#f9ffff"/><stop offset="0.65" stop-color="#effef7"/><stop offset="1" stop-color="#d4e2dc"/></radialGradient><radialGradient id="d41" cx="0.5" cy="0.5" r="0.5"><stop offset="0" stop-color="#88a096"/><stop offset="0.65" stop-color="#839a90"/><stop offset="1" stop-color="#748980"/></radialGradient><radialGradient id="d42" cx="0.5" cy="0.5" r="0.5"><stop offset="0" stop-color="#94ada2"/><stop offset="0.65" stop-color="#8ea79c"/><stop offset="1" stop-color="#7e948b"/></radialGradient><radialGradient id="d43" cx="0.5" cy="0.5" r="0.5"><stop offset="0" stop-color="#9fbbaf"/><stop offset="0.65" stop-color="#99b3a8"/><stop offset="1" stop-color="#88a095"/></radialGradient><radialGradient id="d44" cx="0.5" cy="0.5" r="0.5"><stop offset="0" stop-color="#abc8bc"/><stop offset="0.65" stop-color="#a4c0b4"/><stop offset="1" stop-color="#92aba0"/></radialGradient><radialGradient id="d45" cx="0.5" cy="0.5" r="0.5"><stop offset="0" stop-color="#b6d6c8"/><stop offset="0.65" stop-color="#afcdc0"/><stop offset="1" stop-color="#9cb6ab"/></radialGradient><radialGradient id="d46" cx="0.5" cy="0.5" r="0.5"><stop offset="0" stop-color="#c1e3d5"/><stop offset="0.65" stop-color="#badacc"/><stop offset="1" stop-color="#a5c2b6"/></radialGradient><radialGradient id="d47" cx="0.5" cy="0.5" r="0.5"><stop offset="0" stop-color="#cdf0e1"/><stop offset="0.65" stop-color="#c5e7d8"/><stop offset="1" stop-color="#afcdc0"/></radialGradient><radialGradient id="d48" cx="0.5" cy="0.5" r="0.5"><stop offset="0" stop-color="#d8feee"/><stop offset="0.65" stop-color="#d0f4e5"/><stop offset="1" stop-color="#b9d9cb"/></radialGradient><radialGradient id="d50" cx="0.5" cy="0.5" r="0.5"><stop offset="0" stop-color="#69877a"/><stop offset="0.65" stop-color="#658275"/><stop offset="1" stop-color="#5a7468"/></radialGradient><radialGradient id="d51" cx="0.5" cy="0.5" r="0.5"><stop offset="0" stop-color="#739485"/><stop offset="0.65" stop-color="#6e8e80"/><stop offset="1" stop-color="#627e72"/></radialGradient><radialGradient id="d52" cx="0.5" cy="0.5" r="0.5"><stop offset="0" stop-color="#7ca090"/><stop offset="0.65" stop-color="#779a8a"/><stop offset="1" stop-color="#6a897b"/></radialGradient><radialGradient id="d53" cx="0.5" cy="0.5" r="0.5"><stop offset="0" stop-color="#86ad9b"/><stop offset="0.65" stop-color="#81a695"/><stop offset="1" stop-color="#729385"/></radialGradient><radialGradient id="d54" cx="0.5" cy="0.5" r="0.5"><stop offset="0" stop-color="#90b9a6"/><stop offset="0.65" stop-color="#8ab2a0"/><stop offset="1" stop-color="#7b9e8e"/></radialGradient><radialGradient id="d55" cx="0.5" cy="0.5" r="0.5"><stop offset="0" stop-color="#99c5b2"/><stop offset="0.65" stop-color="#93beab"/><stop offset="1" stop-color="#83a998"/></radialGradient><radialGradient id="d56" cx="0.5" cy="0.5" r="0.5"><stop offset="0" stop-color="#a3d2bd"/><stop offset="0.65" stop-color="#9dcab5"/><stop offset="1" stop-color="#8bb3a1"/></radialGradient><radialGradient id="d57" cx="0.5" cy="0.5" r="0.5"><stop offset="0" stop-color="#acdec8"/><stop offset="0.65" stop-color="#a6d6c0"/><stop offset="1" stop-color="#93beab"/></radialGradient><radialGradient id="d58" cx="0.5" cy="0.5" r="0.5"><stop offset="0" stop-color="#b6ebd3"/><stop offset="0.65" stop-color="#afe1cb"/><stop offset="1" stop-color="#9cc8b4"/></radialGradient></defs>
<path d="M384.6 525.3 384.7 528.1 384.9 530.1 385.4 532.3 384.9 530.1 384.7 528.1 384.6 525.3 384.6 525.1 384.6 525.1 384.6 525.1 384.6 525.1 384.6 525.1Z" fill="url(#d45)"/>
<path d="M388.4 540.0 390.0 542.7 391.4 544.6 393.1 546.7 391.4 544.6 390.0 542.7 388.4 540.0 387.0 537.3 386.2 535.2 385.6 533.1 386.2 535.2 387.0 537.3Z" fill="url(#d56)"/>
<path d="M385.5 532.7 386.3 535.5 387.2 537.5 388.2 539.6 387.2 537.5 386.3 535.5 385.5 532.7 384.9 529.9 384.7 527.8 384.6 525.6 384.7 527.8 384.9 529.9Z" fill="url(#d05)"/>
<path d="M384.4 532.5 384.5 533.1 384.8 533.1 385.4 532.3 384.9 530.1 384.7 528.1 384.6 525.3 384.6 525.1 384.6 525.1 384.6 525.1 384.6 528.1 384.5 530.2Z" fill="url(#d15)"/>
<path d="M400.2 553.6 403.3 555.9 405.6 557.5 408.3 559.2 405.6 557.5 403.3 555.9 400.2 553.6 397.4 551.2 395.5 549.3 393.6 547.4 395.5 549.3 397.4 551.2Z" fill="url(#d07)"/>
<path d="M393.3 547.0 395.7 549.6 397.6 551.4 399.8 553.3 397.6 551.4 395.7 549.6 393.3 547.0 391.2 544.4 389.9 542.5 388.6 540.4 389.9 542.5 391.2 544.4Z" fill="url(#d16)"/>
<path d="M387.5 547.4 389.4 547.9 391.0 547.7 393.1 546.7 391.4 544.6 390.0 542.7 388.4 540.0 387.0 537.3 386.2 535.2 385.6 533.1 386.0 538.2 386.6 542.4Z" fill="url(#d26)"/>
<path d="M384.0 547.2 384.9 547.9 385.9 548.0 387.2 547.3 386.6 542.2 386.1 538.0 385.4 532.9 384.8 532.4 384.5 532.5 384.3 533.1 384.1 538.1 383.9 542.3Z" fill="url(#d35)"/>
<path d="M383.0 547.0 383.0 547.5 383.2 547.6 383.8 547.1 384.0 542.1 384.1 538.0 384.4 533.2 384.2 535.4 384.1 537.4 383.8 540.2 383.5 542.9 383.3 544.9Z" fill="url(#d45)"/>
<path d="M418.9 564.6 423.1 566.4 426.2 567.5 429.7 568.7 426.2 567.5 423.1 566.4 418.9 564.6 414.9 562.8 412.1 561.4 409.3 559.8 412.1 561.4 414.9 562.8Z" fill="url(#d17)"/>
<path d="M408.8 559.5 412.4 561.5 415.2 563.0 418.3 564.4 415.2 563.0 412.4 561.5 408.8 559.5 405.3 557.3 403.0 555.7 400.6 553.9 403.0 555.7 405.3 557.3Z" fill="url(#d27)"/>
<path d="M398.7 561.4 402.2 561.4 405.0 560.8 408.3 559.2 405.6 557.5 403.3 555.9 400.2 553.6 397.4 551.2 395.5 549.3 393.6 547.4 395.0 552.4 396.5 556.5Z" fill="url(#d37)"/>
<path d="M390.5 562.2 393.2 562.7 395.4 562.4 398.2 561.4 396.7 556.4 395.2 552.3 393.2 547.3 390.8 547.0 389.2 547.2 387.6 548.0 388.3 553.1 389.1 557.2Z" fill="url(#d46)"/>
<path d="M384.5 561.9 386.3 562.6 387.9 562.7 390.0 562.1 389.2 557.1 388.4 552.9 387.3 547.9 385.8 547.3 384.8 547.3 384.0 547.8 383.9 552.8 384.1 556.9Z" fill="url(#d56)"/>
<path d="M381.1 561.0 381.9 561.9 382.9 562.1 384.2 561.7 384.2 556.8 384.0 552.7 383.8 547.7 383.3 546.9 383.0 546.8 382.9 547.3 382.1 552.1 381.6 556.1Z" fill="url(#d05)"/>
<path d="M380.2 560.6 380.2 560.9 380.4 561.1 381.0 560.8 381.6 556.0 382.2 552.0 382.9 547.7 382.5 549.7 382.2 551.6 381.7 554.2 381.1 556.8 380.7 558.6Z" fill="url(#d15)"/>
<path d="M442.6 572.1 447.5 573.1 451.1 573.7 455.0 574.2 451.1 573.7 447.5 573.1 442.6 572.1 437.8 571.0 434.4 570.1 430.8 569.1 434.4 570.1 437.8 571.0Z" fill="url(#d28)"/>
<path d="M430.3 568.9 434.8 570.2 438.3 571.1 442.0 572.0 438.3 571.1 434.8 570.2 430.3 568.9 425.8 567.4 422.7 566.2 419.4 564.9 422.7 566.2 425.8 567.4Z" fill="url(#d38)"/>
<path d="M416.9 573.2 421.7 572.4 425.4 571.1 429.7 568.7 426.2 567.5 423.1 566.4 418.9 564.6 414.9 562.8 412.1 561.4 409.3 559.8 411.4 564.7 413.6 568.6Z" fill="url(#d47)"/>
<path d="M404.6 576.0 408.9 575.9 412.2 575.1 416.2 573.4 414.0 568.5 411.7 564.5 408.6 559.9 404.7 560.2 401.9 560.8 398.9 562.1 400.5 567.1 402.1 571.1Z" fill="url(#d57)"/>
<path d="M394.2 576.9 397.7 577.4 400.5 577.1 404.0 576.0 402.4 571.0 400.7 566.9 398.4 562.1 395.2 561.8 392.9 562.1 390.6 562.8 391.4 567.8 392.5 571.9Z" fill="url(#d07)"/>
<path d="M385.9 576.5 388.5 577.3 390.8 577.5 393.6 576.8 392.7 571.8 391.6 567.7 390.1 562.7 387.8 562.1 386.2 562.0 384.5 562.5 384.7 567.4 385.1 571.5Z" fill="url(#d16)"/>
<path d="M380.1 575.2 381.8 576.3 383.4 576.6 385.5 576.3 385.2 571.4 384.8 567.3 384.2 562.3 382.8 561.4 381.9 561.2 381.0 561.5 380.5 566.3 380.2 570.3Z" fill="url(#d26)"/>
<path d="M377.0 573.7 377.6 574.8 378.5 575.1 379.9 575.0 380.3 570.2 380.6 566.2 380.9 561.3 380.5 560.4 380.3 560.2 380.1 560.9 379.0 565.2 378.0 569.0Z" fill="url(#d35)"/>
<path d="M376.1 573.5 376.2 573.5 376.3 573.7 376.9 573.5 378.1 568.9 379.0 565.1 380.1 561.2 379.5 563.2 379.0 565.0 378.3 567.4 377.5 569.8 376.8 571.6Z" fill="url(#d45)"/>
<path d="M469.1 575.3 474.2 575.4 477.9 575.4 481.9 575.2 477.9 575.4 474.2 575.4 469.1 575.3 464.0 575.1 460.3 574.8 456.3 574.4 460.3 574.8 464.0 575.1Z" fill="url(#d37)"/>
<path d="M455.7 574.3 460.7 574.8 464.4 575.1 468.4 575.3 464.4 575.1 460.7 574.8 455.7 574.3 450.7 573.6 447.0 573.0 443.3 572.3 447.0 573.0 450.7 573.6Z" fill="url(#d48)"/>
<path d="M440.2 581.7 445.9 579.9 450.2 577.7 455.0 574.2 451.1 573.7 447.5 573.1 442.6 572.1 437.8 571.0 434.4 570.1 430.8 569.1 433.6 573.8 436.3 577.5Z" fill="url(#d58)"/>
<path d="M425.1 587.3 430.5 586.2 434.7 584.7 439.4 582.0 436.7 577.3 434.0 573.6 430.1 569.3 425.0 570.6 421.3 571.9 417.2 573.9 419.4 578.8 421.7 582.7Z" fill="url(#d08)"/>
<path d="M411.0 590.5 415.9 590.2 419.8 589.3 424.3 587.4 422.1 582.5 419.8 578.6 416.5 574.1 411.9 574.6 408.5 575.3 404.9 576.6 406.5 581.6 408.3 585.7Z" fill="url(#d17)"/>
<path d="M398.5 591.7 402.7 592.1 406.2 591.7 410.3 590.5 408.6 585.5 406.8 581.5 404.2 576.7 400.3 576.5 397.4 576.8 394.3 577.6 395.3 582.6 396.5 586.7Z" fill="url(#d27)"/>
<path d="M388.0 591.2 391.4 592.1 394.3 592.2 397.8 591.6 396.8 586.6 395.6 582.5 393.7 577.5 390.6 576.8 388.3 576.7 385.9 577.1 386.3 582.0 386.8 586.2Z" fill="url(#d37)"/>
<path d="M379.9 589.7 382.4 590.8 384.6 591.3 387.5 591.1 387.1 586.1 386.5 582.0 385.5 576.9 383.3 576.0 381.7 575.6 380.1 575.8 379.7 580.6 379.6 584.7Z" fill="url(#d46)"/>
<path d="M374.4 587.6 375.9 588.9 377.4 589.4 379.5 589.4 379.8 584.6 379.8 580.5 379.8 575.6 378.5 574.5 377.7 574.1 376.8 574.3 375.8 578.9 375.0 582.8Z" fill="url(#d56)"/>
<path d="M371.5 585.8 372.0 586.9 372.8 587.4 374.2 587.4 375.1 582.7 375.9 578.8 376.8 574.0 376.5 573.1 376.4 572.8 376.0 573.8 374.5 577.6 373.1 581.3Z" fill="url(#d05)"/>
<path d="M370.6 585.9 370.8 585.6 370.9 585.8 371.5 585.6 373.2 581.1 374.6 577.5 375.9 574.1 375.2 576.0 374.5 577.7 373.4 580.0 372.3 582.4 371.5 584.1Z" fill="url(#d15)"/>
<path d="M495.7 573.9 500.5 573.1 504.0 572.4 507.6 571.6 504.0 572.4 500.5 573.1 495.7 573.9 490.8 574.5 487.1 574.9 483.2 575.2 487.1 574.9 490.8 574.5Z" fill="url(#d47)"/>
<path d="M482.5 575.2 487.6 574.8 491.2 574.5 495.1 574.0 491.2 574.5 487.6 574.8 482.5 575.2 477.5 575.4 473.7 575.4 469.8 575.3 473.7 575.4 477.5 575.4Z" fill="url(#d57)"/>
<path d="M466.5 586.0 472.5 583.0 477.0 579.8 481.9 575.2 477.9 575.4 474.2 575.4 469.1 575.3 464.0 575.1 460.3 574.8 456.3 574.4 459.3 578.9 462.3 582.3Z" fill="url(#d07)"/>
<path d="M449.9 594.9 455.9 592.8 460.5 590.3 465.7 586.5 462.8 582.0 459.8 578.6 455.5 574.8 449.8 577.2 445.5 579.4 440.7 582.4 443.3 587.1 446.0 590.8Z" fill="url(#d18)"/>
<path d="M433.4 601.2 439.3 600.0 443.8 598.2 449.0 595.3 446.5 590.5 443.8 586.9 439.8 582.7 434.3 584.2 430.1 585.7 425.5 587.9 427.7 592.8 430.0 596.7Z" fill="url(#d28)"/>
<path d="M417.7 605.0 423.1 604.6 427.5 603.6 432.6 601.5 430.4 596.5 428.1 592.7 424.7 588.1 419.5 588.8 415.6 589.7 411.3 591.2 412.9 596.2 414.8 600.2Z" fill="url(#d38)"/>
<path d="M403.2 606.5 408.1 606.8 412.1 606.4 416.8 605.1 415.2 600.1 413.3 596.0 410.5 591.2 405.9 591.2 402.4 591.5 398.6 592.3 399.7 597.4 401.0 601.5Z" fill="url(#d47)"/>
<path d="M390.6 606.1 394.8 607.0 398.3 607.1 402.5 606.5 401.4 601.4 400.1 597.3 398.0 592.3 394.1 591.6 391.2 591.5 388.0 591.9 388.5 596.8 389.2 601.0Z" fill="url(#d57)"/>
<path d="M380.3 604.4 383.6 605.7 386.4 606.2 390.0 606.0 389.5 600.9 388.8 596.8 387.5 591.7 384.5 590.6 382.3 590.2 379.8 590.3 379.6 595.2 379.7 599.3Z" fill="url(#d07)"/>
<path d="M372.5 601.9 374.8 603.4 376.9 604.1 379.8 604.2 380.0 599.2 379.8 595.1 379.4 590.0 377.4 588.8 375.9 588.2 374.3 588.2 373.3 592.9 372.8 596.9Z" fill="url(#d16)"/>
<path d="M367.3 599.4 368.6 600.8 370.1 601.5 372.1 601.7 373.0 596.9 373.5 592.9 374.0 588.0 372.9 586.7 372.2 586.3 371.3 586.4 369.7 590.9 368.5 594.7Z" fill="url(#d26)"/>
<path d="M364.6 597.6 365.0 598.6 365.8 599.1 367.1 599.2 368.6 594.6 369.8 590.8 371.3 586.1 371.1 585.2 371.1 585.0 370.4 586.2 368.6 589.6 366.8 593.2Z" fill="url(#d35)"/>
<path d="M363.4 598.2 363.9 597.5 364.0 597.6 364.6 597.4 366.9 593.0 368.7 589.5 370.3 586.5 369.3 588.4 368.4 590.1 367.0 592.4 365.7 594.7 364.6 596.4Z" fill="url(#d45)"/>
<path d="M519.9 568.0 524.0 566.4 526.9 565.2 529.8 563.8 526.9 565.2 524.0 566.4 519.9 568.0 515.6 569.4 512.4 570.4 508.9 571.3 512.4 570.4 515.6 569.4Z" fill="url(#d56)"/>
<path d="M508.3 571.5 512.8 570.3 516.0 569.3 519.3 568.2 516.0 569.3 512.8 570.3 508.3 571.5 503.6 572.5 500.1 573.2 496.3 573.8 500.1 573.2 503.6 572.5Z" fill="url(#d07)"/>
<path d="M493.1 585.7 498.8 581.4 503.1 577.3 507.6 571.6 504.0 572.4 500.5 573.1 495.7 573.9 490.8 574.5 487.1 574.9 483.2 575.2 486.1 579.5 489.0 582.6Z" fill="url(#d17)"/>
<path d="M476.5 598.2 482.6 594.8 487.3 591.3 492.3 586.4 489.6 582.1 486.7 579.0 482.4 575.8 476.6 579.4 472.1 582.6 467.0 586.6 469.8 591.2 472.5 594.6Z" fill="url(#d27)"/>
<path d="M459.1 608.1 465.4 605.6 470.3 602.9 475.7 598.8 473.1 594.2 470.3 590.8 466.2 587.1 460.2 589.9 455.5 592.3 450.3 595.6 452.8 600.3 455.3 604.0Z" fill="url(#d37)"/>
<path d="M441.5 615.2 447.8 613.7 452.7 611.7 458.2 608.5 455.9 603.7 453.4 600.1 449.5 595.9 443.5 597.8 438.9 599.5 433.8 601.9 435.8 606.8 438.1 610.7Z" fill="url(#d48)"/>
<path d="M424.3 619.6 430.3 619.0 435.1 617.8 440.6 615.5 438.6 610.5 436.4 606.6 432.9 602.1 427.2 603.0 422.8 604.1 417.9 605.7 419.5 610.7 421.4 614.8Z" fill="url(#d58)"/>
<path d="M408.2 621.5 413.7 621.7 418.1 621.2 423.4 619.7 421.9 614.7 420.0 610.6 417.1 605.8 411.8 605.9 407.8 606.3 403.4 607.2 404.5 612.3 405.9 616.5Z" fill="url(#d08)"/>
<path d="M393.7 621.3 398.5 622.2 402.5 622.3 407.3 621.5 406.3 616.4 404.9 612.2 402.6 607.2 398.0 606.6 394.6 606.4 390.7 606.8 391.2 611.9 392.1 616.1Z" fill="url(#d17)"/>
<path d="M381.2 619.5 385.2 620.9 388.7 621.4 392.9 621.2 392.4 616.1 391.5 611.8 390.1 606.6 386.3 605.5 383.4 605.1 380.3 605.0 380.2 610.0 380.4 614.2Z" fill="url(#d27)"/>
<path d="M371.2 616.7 374.3 618.3 377.0 619.1 380.6 619.3 380.7 614.2 380.4 610.0 379.8 604.8 376.9 603.4 374.8 602.7 372.4 602.5 371.6 607.4 371.2 611.5Z" fill="url(#d37)"/>
<path d="M363.7 613.7 365.8 615.3 367.9 616.1 370.7 616.5 371.4 611.5 371.8 607.4 372.0 602.3 370.1 600.8 368.7 600.2 367.1 600.0 365.6 604.7 364.6 608.6Z" fill="url(#d46)"/>
<path d="M358.8 610.9 360.0 612.3 361.3 613.0 363.4 613.4 364.8 608.6 365.8 604.6 366.9 599.7 366.0 598.5 365.3 598.0 364.4 598.1 362.2 602.5 360.6 606.2Z" fill="url(#d56)"/>
<path d="M356.2 609.2 356.6 610.2 357.3 610.6 358.6 610.7 360.7 606.2 362.3 602.4 364.4 597.9 364.3 597.0 364.3 596.9 363.2 598.5 361.2 601.5 358.9 604.9Z" fill="url(#d05)"/>
<path d="M354.5 610.4 355.4 609.3 355.5 609.4 356.2 609.0 359.0 604.8 361.3 601.4 363.0 598.8 361.8 600.6 360.6 602.3 359.0 604.6 357.3 606.9 356.0 608.6Z" fill="url(#d15)"/>
<path d="M539.3 558.2 542.2 556.0 544.2 554.3 546.2 552.4 544.2 554.3 542.2 556.0 539.3 558.2 536.1 560.3 533.6 561.8 530.8 563.3 533.6 561.8 536.1 560.3Z" fill="url(#d05)"/>
<path d="M530.3 563.5 533.9 561.6 536.4 560.1 538.8 558.5 536.4 560.1 533.9 561.6 530.3 563.5 526.5 565.3 523.6 566.6 520.4 567.8 523.6 566.6 526.5 565.3Z" fill="url(#d16)"/>
<path d="M517.5 580.9 522.4 575.4 526.0 570.4 529.8 563.8 526.9 565.2 524.0 566.4 519.9 568.0 515.6 569.4 512.4 570.4 508.9 571.3 511.5 575.4 514.0 578.2Z" fill="url(#d26)"/>
<path d="M502.4 596.8 508.1 592.2 512.3 587.7 516.8 581.7 514.5 577.6 512.0 574.8 508.2 572.1 502.8 576.9 498.6 581.0 493.6 586.3 496.2 590.6 498.8 593.7Z" fill="url(#d37)"/>
<path d="M485.6 610.4 491.8 606.6 496.5 602.8 501.7 597.6 499.4 593.2 496.8 590.1 492.9 587.0 487.0 590.9 482.3 594.4 477.0 598.8 479.5 603.4 482.0 606.8Z" fill="url(#d47)"/>
<path d="M467.6 621.2 474.1 618.4 479.2 615.4 484.8 611.0 482.6 606.4 480.1 603.0 476.2 599.4 470.0 602.4 465.1 605.2 459.6 608.7 461.8 613.5 464.1 617.2Z" fill="url(#d57)"/>
<path d="M449.1 629.1 455.7 627.4 460.9 625.2 466.8 621.7 464.8 616.9 462.4 613.2 458.7 609.2 452.3 611.2 447.4 613.2 441.9 615.9 443.7 620.8 445.9 624.7Z" fill="url(#d07)"/>
<path d="M430.7 634.2 437.1 633.4 442.3 632.0 448.2 629.5 446.5 624.5 444.3 620.6 441.0 616.1 434.8 617.3 430.0 618.5 424.6 620.3 426.1 625.4 427.9 629.4Z" fill="url(#d18)"/>
<path d="M413.1 636.7 419.1 636.8 424.0 636.1 429.8 634.4 428.4 629.3 426.6 625.2 423.7 620.4 417.9 620.7 413.4 621.2 408.4 622.2 409.4 627.4 410.8 631.6Z" fill="url(#d28)"/>
<path d="M396.9 636.8 402.3 637.6 406.8 637.6 412.2 636.7 411.3 631.5 409.9 627.3 407.5 622.2 402.3 621.7 398.3 621.6 393.7 622.0 394.3 627.2 395.1 631.5Z" fill="url(#d38)"/>
<path d="M382.5 635.0 387.2 636.4 391.2 636.9 396.1 636.6 395.6 631.4 394.7 627.1 393.0 621.9 388.5 620.7 385.1 620.2 381.2 620.2 381.2 625.3 381.5 629.6Z" fill="url(#d47)"/>
<path d="M370.4 632.0 374.2 633.8 377.6 634.6 381.8 634.8 381.9 629.6 381.5 625.3 380.6 620.0 377.0 618.5 374.2 617.7 371.1 617.4 370.4 622.4 370.2 626.7Z" fill="url(#d57)"/>
<path d="M360.8 628.5 363.6 630.3 366.3 631.3 369.8 631.8 370.5 626.7 370.7 622.4 370.6 617.1 367.9 615.4 365.9 614.6 363.5 614.2 362.2 619.1 361.4 623.2Z" fill="url(#d07)"/>
<path d="M353.6 625.0 355.5 626.7 357.5 627.7 360.3 628.2 361.6 623.2 362.4 619.1 363.2 614.0 361.5 612.4 360.1 611.7 358.5 611.5 356.5 616.1 355.0 620.1Z" fill="url(#d16)"/>
<path d="M348.8 622.3 349.9 623.6 351.2 624.4 353.3 624.8 355.2 620.0 356.7 616.1 358.4 611.2 357.5 610.0 356.9 609.6 355.9 609.7 353.2 614.0 351.1 617.7Z" fill="url(#d26)"/>
<path d="M346.2 620.8 346.5 621.6 347.3 622.0 348.7 622.1 351.3 617.6 353.3 613.9 355.9 609.5 355.9 608.8 355.8 608.8 354.3 610.7 352.1 613.4 349.3 616.7Z" fill="url(#d35)"/>
<path d="M343.9 622.5 345.1 621.2 345.4 621.1 346.2 620.6 349.5 616.6 352.2 613.3 354.0 611.0 352.6 612.8 351.2 614.5 349.2 616.7 347.1 619.0 345.6 620.7Z" fill="url(#d45)"/>
<path d="M551.9 545.4 553.5 542.8 554.4 540.8 555.2 538.7 554.4 540.8 553.5 542.8 551.9 545.4 550.1 548.0 548.6 549.9 546.8 551.8 548.6 549.9 550.1 548.0Z" fill="url(#d14)"/>
<path d="M546.5 552.1 548.8 549.6 550.3 547.8 551.7 545.8 550.3 547.8 548.8 549.6 546.5 552.1 544.0 554.5 542.0 556.2 539.7 557.9 542.0 556.2 544.0 554.5Z" fill="url(#d24)"/>
<path d="M537.2 571.9 540.9 565.5 543.5 559.8 546.2 552.4 544.2 554.3 542.2 556.0 539.3 558.2 536.1 560.3 533.6 561.8 530.8 563.3 532.8 567.1 534.6 569.7Z" fill="url(#d35)"/>
<path d="M525.0 590.9 529.7 585.1 533.1 579.8 536.7 572.8 535.1 568.9 533.3 566.4 530.3 564.2 525.8 570.0 522.2 575.0 518.0 581.3 520.1 585.5 522.1 588.2Z" fill="url(#d46)"/>
<path d="M510.3 607.9 515.8 602.8 520.0 598.1 524.4 591.7 522.7 587.6 520.6 584.8 517.4 582.2 512.1 587.3 507.9 591.8 502.9 597.4 505.0 601.7 507.2 604.8Z" fill="url(#d56)"/>
<path d="M493.5 622.4 499.7 618.3 504.4 614.3 509.6 608.6 507.8 604.3 505.7 601.2 502.2 598.1 496.3 602.4 491.6 606.2 486.1 611.0 488.1 615.6 490.3 618.9Z" fill="url(#d07)"/>
<path d="M475.2 634.2 481.8 631.1 487.0 627.9 492.7 623.1 491.0 618.5 488.8 615.1 485.3 611.6 478.9 615.0 473.9 618.0 468.1 621.8 469.9 626.7 472.0 630.3Z" fill="url(#d17)"/>
<path d="M456.1 643.1 462.9 641.0 468.2 638.6 474.3 634.8 472.7 629.9 470.6 626.3 467.2 622.3 460.6 624.7 455.5 626.9 449.5 629.8 451.1 634.8 453.0 638.7Z" fill="url(#d27)"/>
<path d="M436.7 648.9 443.4 647.9 448.8 646.3 455.1 643.4 453.7 638.5 451.8 634.6 448.6 630.2 442.0 631.6 436.9 632.9 431.0 635.0 432.3 640.1 434.0 644.2Z" fill="url(#d37)"/>
<path d="M417.9 651.9 424.3 651.9 429.5 651.0 435.7 649.1 434.6 644.0 432.9 639.9 430.1 635.1 423.8 635.6 418.9 636.2 413.3 637.4 414.2 642.6 415.5 646.8Z" fill="url(#d48)"/>
<path d="M400.1 652.4 406.1 653.2 411.0 653.0 416.9 652.0 416.1 646.8 414.8 642.5 412.4 637.4 406.6 637.0 402.1 637.0 397.0 637.5 397.4 642.7 398.3 647.1Z" fill="url(#d58)"/>
<path d="M384.1 650.9 389.3 652.3 393.8 652.7 399.2 652.4 398.8 647.1 397.9 642.7 396.2 637.4 391.0 636.3 387.1 635.8 382.5 635.7 382.5 641.0 382.9 645.4Z" fill="url(#d08)"/>
<path d="M370.0 647.8 374.5 649.6 378.4 650.5 383.3 650.7 383.3 645.4 382.9 641.0 381.8 635.5 377.5 633.9 374.2 633.1 370.3 632.7 369.7 637.9 369.6 642.3Z" fill="url(#d17)"/>
<path d="M358.3 644.0 361.9 646.0 365.2 647.0 369.3 647.6 370.0 642.3 370.0 637.9 369.7 632.4 366.3 630.6 363.7 629.7 360.6 629.1 359.3 634.2 358.7 638.5Z" fill="url(#d27)"/>
<path d="M349.0 639.9 351.7 641.9 354.3 643.0 357.8 643.7 358.9 638.5 359.6 634.2 360.1 628.8 357.6 627.0 355.7 626.1 353.3 625.6 351.4 630.5 350.2 634.6Z" fill="url(#d37)"/>
<path d="M342.0 636.2 343.9 638.0 345.8 639.0 348.6 639.6 350.4 634.6 351.7 630.4 353.0 625.3 351.4 623.8 350.1 623.0 348.5 622.8 345.9 627.4 344.0 631.3Z" fill="url(#d46)"/>
<path d="M337.3 633.5 338.4 634.8 339.7 635.6 341.8 635.9 344.2 631.2 346.1 627.3 348.3 622.6 347.6 621.4 346.9 621.1 345.8 621.3 342.6 625.5 340.1 629.0Z" fill="url(#d56)"/>
<path d="M334.6 632.3 334.9 633.0 335.7 633.3 337.2 633.3 340.3 629.0 342.8 625.4 345.8 621.1 345.8 620.6 345.6 620.7 343.6 622.8 341.3 625.2 338.2 628.3Z" fill="url(#d05)"/>
<path d="M331.6 634.4 333.3 632.9 333.6 632.7 334.6 632.2 338.3 628.2 341.4 625.1 343.3 623.1 341.6 624.8 340.0 626.5 337.7 628.7 335.3 631.0 333.5 632.6Z" fill="url(#d15)"/>
<path d="M556.7 531.0 556.7 530.9 556.7 530.9 556.7 530.9 556.7 530.9 556.7 530.9 556.7 531.0 556.4 533.8 556.1 535.8 555.5 538.0 556.1 535.8 556.4 533.8Z" fill="url(#d23)"/>
<path d="M555.4 538.3 556.1 535.6 556.5 533.5 556.7 531.4 556.5 533.5 556.1 535.6 555.4 538.3 554.3 541.1 553.3 543.0 552.2 545.1 553.3 543.0 554.3 541.1Z" fill="url(#d33)"/>
<path d="M550.4 559.7 552.5 552.7 553.9 546.5 555.2 538.7 554.4 540.8 553.5 542.8 551.9 545.4 550.1 548.0 548.6 549.9 546.8 551.8 548.0 555.5 549.0 557.8Z" fill="url(#d44)"/>
<path d="M542.1 581.0 545.4 574.3 547.8 568.4 550.1 560.7 549.4 557.0 548.3 554.7 546.5 552.7 543.5 559.4 540.8 565.1 537.6 572.3 539.0 576.2 540.3 578.8Z" fill="url(#d54)"/>
<path d="M530.8 600.8 535.1 594.7 538.3 589.2 541.7 581.9 540.8 578.0 539.4 575.4 537.1 573.2 533.0 579.4 529.6 584.7 525.5 591.3 527.0 595.5 528.5 598.3Z" fill="url(#d05)"/>
<path d="M516.6 618.8 521.9 613.4 525.9 608.4 530.2 601.7 529.1 597.6 527.5 594.8 524.9 592.2 519.8 597.7 515.7 602.4 510.8 608.4 512.3 612.8 514.0 615.8Z" fill="url(#d16)"/>
<path d="M500.0 634.4 506.1 629.9 510.7 625.6 515.9 619.6 514.7 615.2 513.0 612.2 510.1 609.2 504.3 613.9 499.6 617.9 494.0 623.0 495.5 627.6 497.3 630.9Z" fill="url(#d26)"/>
<path d="M481.6 647.1 488.3 643.7 493.4 640.1 499.2 635.1 498.0 630.5 496.2 627.2 493.2 623.7 486.8 627.4 481.7 630.7 475.6 634.9 477.1 639.7 478.8 643.3Z" fill="url(#d37)"/>
<path d="M462.1 656.9 469.0 654.5 474.5 651.8 480.8 647.7 479.6 642.9 477.8 639.3 474.7 635.4 468.0 638.1 462.7 640.6 456.4 643.8 457.7 648.8 459.3 652.6Z" fill="url(#d47)"/>
<path d="M442.0 663.5 449.0 662.3 454.6 660.4 461.1 657.3 460.1 652.3 458.4 648.5 455.5 644.2 448.6 645.8 443.3 647.4 437.0 649.7 438.0 654.8 439.5 658.9Z" fill="url(#d57)"/>
<path d="M422.2 667.2 429.0 666.9 434.5 665.9 441.1 663.8 440.2 658.7 438.7 654.6 436.0 649.9 429.3 650.5 424.1 651.3 418.1 652.7 418.8 657.9 420.0 662.2Z" fill="url(#d07)"/>
<path d="M403.2 668.2 409.6 668.8 414.9 668.6 421.2 667.3 420.6 662.1 419.4 657.9 417.1 652.8 410.8 652.5 405.9 652.6 400.2 653.2 400.6 658.5 401.5 662.9Z" fill="url(#d18)"/>
<path d="M385.7 667.0 391.5 668.3 396.4 668.7 402.3 668.2 402.0 662.9 401.2 658.5 399.3 653.1 393.6 652.1 389.2 651.6 384.1 651.6 384.0 657.0 384.4 661.4Z" fill="url(#d28)"/>
<path d="M369.9 664.1 375.0 665.9 379.4 666.7 384.8 666.9 384.9 661.5 384.5 657.0 383.3 651.4 378.3 649.9 374.4 649.0 370.0 648.6 369.4 653.9 369.3 658.4Z" fill="url(#d38)"/>
<path d="M356.3 660.0 360.6 662.1 364.4 663.3 369.2 663.8 369.8 658.4 369.8 653.9 369.3 648.3 365.1 646.4 361.9 645.3 358.2 644.7 357.0 649.9 356.4 654.4Z" fill="url(#d47)"/>
<path d="M345.0 655.5 348.4 657.7 351.5 658.9 355.7 659.7 356.8 654.4 357.3 649.9 357.6 644.3 354.3 642.3 351.8 641.2 348.8 640.5 347.0 645.6 345.9 649.9Z" fill="url(#d57)"/>
<path d="M336.0 651.0 338.5 653.1 341.0 654.3 344.4 655.1 346.2 650.0 347.3 645.6 348.3 640.2 346.0 638.3 344.1 637.3 341.7 636.8 339.3 641.6 337.6 645.8Z" fill="url(#d07)"/>
<path d="M329.2 647.3 330.9 649.0 332.8 650.0 335.5 650.7 337.9 645.8 339.6 641.6 341.4 636.5 339.9 634.9 338.7 634.2 336.9 634.1 333.9 638.6 331.6 642.4Z" fill="url(#d16)"/>
<path d="M324.4 644.7 325.4 645.9 326.7 646.6 328.9 647.0 331.8 642.3 334.1 638.5 336.8 633.9 336.1 632.8 335.3 632.5 334.2 632.8 330.5 636.8 327.7 640.3Z" fill="url(#d26)"/>
<path d="M321.5 643.6 321.9 644.2 322.7 644.5 324.3 644.4 327.8 640.2 330.7 636.7 334.1 632.6 334.1 632.2 333.8 632.4 331.3 634.7 328.8 636.9 325.5 639.8Z" fill="url(#d35)"/>
<path d="M317.9 646.0 320.0 644.3 320.4 644.1 321.5 643.5 325.6 639.7 329.0 636.7 331.0 635.0 329.1 636.7 327.2 638.3 324.6 640.5 322.0 642.7 320.0 644.3Z" fill="url(#d45)"/>
<path d="M555.7 545.5 556.1 540.9 556.4 536.6 556.7 530.9 556.7 530.9 556.7 530.9 556.7 531.0 556.4 533.8 556.1 535.8 555.5 538.0 555.7 541.6 555.8 543.8Z" fill="url(#d53)"/>
<path d="M552.1 568.0 553.7 560.8 554.7 554.5 555.6 546.5 555.9 542.9 555.8 540.7 555.3 539.0 553.9 546.1 552.5 552.3 550.6 560.0 551.1 563.8 551.5 566.1Z" fill="url(#d03)"/>
<path d="M545.0 589.9 547.8 583.0 549.8 576.9 551.9 569.0 551.8 565.3 551.4 562.9 550.3 561.0 547.7 568.0 545.4 573.9 542.4 581.3 543.1 585.3 543.9 587.8Z" fill="url(#d14)"/>
<path d="M534.6 610.6 538.5 604.2 541.5 598.4 544.6 590.9 544.3 587.0 543.6 584.5 542.0 582.3 538.3 588.8 535.1 594.3 531.1 601.3 532.0 605.4 533.0 608.2Z" fill="url(#d24)"/>
<path d="M521.1 629.5 526.1 623.8 529.9 618.5 534.1 611.5 533.6 607.4 532.6 604.7 530.6 602.2 525.8 608.0 521.8 613.0 517.0 619.3 518.0 623.7 519.2 626.6Z" fill="url(#d35)"/>
<path d="M504.9 646.0 510.8 641.2 515.3 636.6 520.4 630.3 519.8 626.0 518.6 623.0 516.3 620.1 510.7 625.2 506.0 629.5 500.4 634.9 501.4 639.5 502.8 642.7Z" fill="url(#d46)"/>
<path d="M486.7 659.7 493.2 655.9 498.3 652.1 504.2 646.7 503.5 642.2 502.2 639.0 499.6 635.6 493.3 639.7 488.2 643.3 482.0 647.8 483.0 652.5 484.4 656.0Z" fill="url(#d56)"/>
<path d="M467.0 670.4 474.0 667.7 479.5 664.8 485.8 660.3 485.1 655.6 483.8 652.1 481.1 648.3 474.4 651.4 468.9 654.1 462.4 657.6 463.3 662.5 464.7 666.3Z" fill="url(#d07)"/>
<path d="M446.6 677.9 453.7 676.3 459.4 674.3 466.1 670.9 465.4 666.0 464.1 662.2 461.5 658.0 454.5 660.0 448.9 661.8 442.3 664.3 443.1 669.4 444.3 673.4Z" fill="url(#d17)"/>
<path d="M426.0 682.4 433.1 681.9 438.8 680.6 445.6 678.2 445.0 673.2 443.8 669.2 441.3 664.6 434.4 665.4 428.9 666.4 422.4 668.0 422.9 673.2 424.0 677.4Z" fill="url(#d27)"/>
<path d="M406.1 684.0 412.8 684.4 418.4 684.0 425.0 682.6 424.7 677.4 423.6 673.2 421.4 668.1 414.8 668.0 409.5 668.3 403.4 669.0 403.6 674.4 404.4 678.8Z" fill="url(#d37)"/>
<path d="M387.3 683.3 393.5 684.5 398.8 684.7 405.1 684.1 405.0 678.7 404.2 674.3 402.4 669.0 396.2 668.1 391.4 667.7 385.7 667.8 385.6 673.2 386.0 677.7Z" fill="url(#d48)"/>
<path d="M370.1 680.6 375.7 682.4 380.5 683.1 386.4 683.2 386.6 677.8 386.1 673.2 384.9 667.6 379.3 666.1 375.0 665.3 369.9 664.8 369.3 670.2 369.3 674.8Z" fill="url(#d58)"/>
<path d="M354.7 676.5 359.6 678.7 363.9 679.8 369.2 680.4 369.8 674.9 369.8 670.3 369.1 664.6 364.3 662.6 360.6 661.5 356.2 660.7 355.1 666.1 354.6 670.7Z" fill="url(#d08)"/>
<path d="M341.5 671.7 345.6 674.0 349.3 675.4 354.0 676.2 355.1 670.8 355.5 666.2 355.5 660.4 351.6 658.3 348.5 657.0 344.8 656.2 343.1 661.4 342.1 665.9Z" fill="url(#d17)"/>
<path d="M330.5 666.6 333.8 669.0 336.8 670.4 340.9 671.3 342.5 666.0 343.4 661.5 344.2 655.8 341.1 653.7 338.7 652.4 335.7 651.7 333.4 656.7 331.9 661.1Z" fill="url(#d27)"/>
<path d="M321.7 661.9 324.2 664.1 326.6 665.3 330.0 666.3 332.2 661.1 333.7 656.8 335.2 651.4 333.0 649.4 331.1 648.4 328.8 647.9 325.9 652.6 323.8 656.7Z" fill="url(#d37)"/>
<path d="M315.0 658.1 316.7 659.8 318.6 660.9 321.3 661.6 324.1 656.7 326.1 652.6 328.5 647.6 327.1 646.0 325.8 645.3 324.0 645.2 320.5 649.6 317.9 653.3Z" fill="url(#d46)"/>
<path d="M310.2 655.6 311.2 656.8 312.6 657.4 314.7 657.8 318.1 653.3 320.7 649.5 323.8 645.0 323.1 644.0 322.3 643.7 321.0 644.1 317.0 648.0 313.8 651.3Z" fill="url(#d56)"/>
<path d="M307.2 654.7 307.5 655.2 308.4 655.4 310.1 655.4 314.0 651.2 317.2 647.9 321.0 644.0 320.9 643.6 320.3 644.1 317.6 646.3 314.8 648.5 311.4 651.1Z" fill="url(#d05)"/>
<path d="M302.9 657.3 305.2 655.7 305.9 655.2 307.1 654.6 311.6 651.0 315.1 648.3 317.2 646.6 315.1 648.3 313.0 649.8 310.2 652.0 307.3 654.1 305.2 655.7Z" fill="url(#d14)"/>
<path d="M551.5 576.5 552.3 571.9 553.0 567.6 553.9 561.7 554.7 555.8 555.1 551.5 555.6 546.9 554.8 554.1 553.7 560.4 552.1 568.3 551.9 572.1 551.8 574.4Z" fill="url(#d23)"/>
<path d="M545.6 598.7 548.0 591.6 549.6 585.3 551.3 577.3 552.0 573.5 552.2 571.2 551.9 569.3 549.9 576.5 547.9 582.6 545.1 590.3 545.2 594.2 545.3 596.7Z" fill="url(#d33)"/>
<path d="M536.2 620.1 539.8 613.4 542.5 607.5 545.3 599.7 545.7 595.8 545.6 593.4 544.8 591.3 541.5 598.0 538.6 603.8 534.8 611.0 535.0 615.1 535.5 617.8Z" fill="url(#d44)"/>
<path d="M523.6 639.8 528.3 633.8 531.8 628.3 535.8 621.1 536.0 617.0 535.5 614.4 534.3 612.0 529.9 618.1 526.1 623.4 521.4 630.0 521.7 634.3 522.4 637.1Z" fill="url(#d54)"/>
<path d="M508.1 657.2 513.7 652.0 518.1 647.2 523.0 640.6 523.0 636.4 522.4 633.6 520.7 630.8 515.3 636.2 510.8 640.8 505.2 646.5 505.7 651.0 506.5 654.1Z" fill="url(#d05)"/>
<path d="M490.2 671.8 496.6 667.7 501.6 663.6 507.4 657.9 507.3 653.6 506.4 650.5 504.5 647.3 498.3 651.7 493.2 655.5 487.0 660.3 487.5 665.0 488.5 668.4Z" fill="url(#d16)"/>
<path d="M470.7 683.4 477.6 680.4 483.0 677.2 489.4 672.5 489.2 667.9 488.3 664.6 486.2 661.0 479.4 664.3 473.9 667.3 467.3 671.1 467.8 675.9 468.8 679.5Z" fill="url(#d26)"/>
<path d="M450.1 691.9 457.3 690.0 463.0 687.6 469.8 684.0 469.6 679.2 468.6 675.6 466.4 671.6 459.3 673.8 453.6 675.9 446.8 678.7 447.2 683.7 448.2 687.5Z" fill="url(#d37)"/>
<path d="M429.2 697.2 436.4 696.4 442.2 694.9 449.2 692.3 449.0 687.3 448.0 683.5 445.8 679.0 438.7 680.2 433.0 681.4 426.2 683.2 426.5 688.3 427.4 692.4Z" fill="url(#d47)"/>
<path d="M408.6 699.6 415.5 699.8 421.3 699.1 428.2 697.4 428.1 692.3 427.2 688.2 425.2 683.3 418.3 683.5 412.7 683.9 406.2 684.8 406.3 690.1 406.9 694.5Z" fill="url(#d57)"/>
<path d="M388.8 699.5 395.4 700.5 400.9 700.5 407.6 699.7 407.6 694.4 407.0 690.1 405.3 684.9 398.7 684.1 393.5 683.9 387.3 684.1 387.1 689.5 387.5 694.0Z" fill="url(#d07)"/>
<path d="M370.3 697.2 376.4 698.9 381.5 699.5 387.8 699.4 388.1 694.0 387.7 689.5 386.4 684.0 380.4 682.5 375.6 681.8 370.0 681.4 369.4 686.8 369.5 691.5Z" fill="url(#d18)"/>
<path d="M353.5 693.3 358.9 695.5 363.5 696.5 369.4 697.0 370.0 691.5 370.0 686.9 369.2 681.2 363.8 679.2 359.6 678.1 354.6 677.3 353.6 682.8 353.2 687.4Z" fill="url(#d28)"/>
<path d="M338.6 688.4 343.3 690.8 347.4 692.2 352.6 693.0 353.7 687.5 354.0 682.8 353.9 677.0 349.3 674.7 345.7 673.4 341.3 672.4 339.8 677.8 338.9 682.5Z" fill="url(#d38)"/>
<path d="M325.7 682.9 329.6 685.4 333.2 686.9 337.8 688.0 339.4 682.6 340.2 677.9 340.7 672.1 336.9 669.7 333.9 668.3 330.2 667.3 328.1 672.6 326.8 677.1Z" fill="url(#d47)"/>
<path d="M315.0 677.5 318.1 679.9 321.1 681.4 325.1 682.5 327.1 677.2 328.5 672.6 329.7 667.0 326.8 664.7 324.4 663.4 321.4 662.6 318.7 667.6 316.8 671.9Z" fill="url(#d57)"/>
<path d="M306.4 672.6 308.7 674.7 311.1 676.1 314.5 677.1 317.1 672.0 319.0 667.6 321.0 662.3 318.8 660.2 317.0 659.2 314.6 658.7 311.3 663.4 308.9 667.4Z" fill="url(#d07)"/>
<path d="M299.7 668.7 301.4 670.4 303.2 671.5 306.0 672.2 309.2 667.4 311.6 663.4 314.3 658.4 312.9 656.9 311.6 656.2 309.7 656.1 305.9 660.3 303.0 664.0Z" fill="url(#d16)"/>
<path d="M294.9 666.2 295.9 667.4 297.2 668.0 299.5 668.4 303.2 664.0 306.1 660.3 309.6 655.9 308.9 654.9 308.0 654.7 306.6 655.1 302.3 658.9 298.8 662.1Z" fill="url(#d26)"/>
<path d="M291.7 665.4 292.1 665.9 293.0 666.1 294.8 666.0 299.0 662.0 302.4 658.8 306.6 655.0 306.5 654.8 305.5 655.5 302.5 657.6 299.6 659.7 296.2 662.0Z" fill="url(#d35)"/>
<path d="M286.9 668.2 289.3 666.7 290.3 666.0 291.6 665.4 296.4 661.9 299.8 659.5 302.1 657.9 299.8 659.5 297.6 661.0 294.6 663.1 291.5 665.2 289.3 666.7Z" fill="url(#d44)"/>
<path d="M543.9 607.7 545.3 603.1 546.4 598.8 548.0 592.9 549.3 587.0 550.3 582.6 551.2 578.0 549.7 584.9 548.1 591.2 545.7 599.0 545.0 602.9 544.6 605.3Z" fill="url(#d52)"/>
<path d="M535.8 629.1 538.9 622.2 541.2 616.1 543.7 608.4 544.9 604.4 545.3 602.0 545.4 600.0 542.5 607.0 539.9 613.0 536.4 620.5 535.9 624.5 535.8 627.0Z" fill="url(#d03)"/>
<path d="M524.1 649.5 528.4 643.2 531.7 637.5 535.4 630.1 536.2 626.2 536.4 623.6 535.9 621.4 531.9 627.9 528.4 633.4 523.8 640.2 523.5 644.4 523.6 647.1Z" fill="url(#d14)"/>
<path d="M509.4 667.7 514.7 662.2 518.8 657.1 523.6 650.4 524.2 646.3 524.1 643.6 523.2 641.1 518.1 646.8 513.8 651.6 508.3 657.7 508.2 662.0 508.5 664.9Z" fill="url(#d24)"/>
<path d="M492.2 683.2 498.3 678.7 503.1 674.4 508.7 668.5 509.2 664.3 508.9 661.4 507.6 658.4 501.7 663.2 496.7 667.3 490.5 672.4 490.5 676.9 491.0 680.0Z" fill="url(#d35)"/>
<path d="M473.0 695.8 479.8 692.4 485.1 688.9 491.4 683.9 491.8 679.6 491.3 676.4 489.7 673.1 483.1 676.8 477.6 680.0 470.9 684.1 471.0 688.7 471.6 692.2Z" fill="url(#d46)"/>
<path d="M452.6 705.2 459.7 702.9 465.4 700.3 472.2 696.3 472.4 691.8 471.8 688.4 470.0 684.6 463.0 687.2 457.3 689.5 450.3 692.6 450.4 697.4 451.1 701.1Z" fill="url(#d56)"/>
<path d="M431.6 711.4 438.8 710.3 444.7 708.5 451.7 705.6 451.9 700.9 451.2 697.2 449.4 693.0 442.2 694.5 436.3 695.9 429.4 698.0 429.4 703.0 430.0 706.9Z" fill="url(#d07)"/>
<path d="M410.5 714.7 417.7 714.6 423.5 713.7 430.6 711.7 430.8 706.8 430.1 702.9 428.4 698.2 421.2 698.6 415.5 699.3 408.7 700.4 408.5 705.6 409.1 709.8Z" fill="url(#d17)"/>
<path d="M390.0 715.4 396.9 716.1 402.6 715.9 409.5 714.9 409.8 709.8 409.3 705.6 407.7 700.5 400.8 700.0 395.3 699.9 388.8 700.3 388.5 705.6 388.8 710.0Z" fill="url(#d27)"/>
<path d="M370.5 713.7 377.0 715.2 382.4 715.6 389.0 715.3 389.5 710.1 389.1 705.7 387.9 700.2 381.4 698.9 376.3 698.3 370.3 698.0 369.6 703.5 369.7 708.0Z" fill="url(#d37)"/>
<path d="M352.5 710.2 358.3 712.2 363.4 713.2 369.6 713.5 370.3 708.1 370.2 703.5 369.4 697.8 363.5 695.9 358.9 694.8 353.4 694.1 352.3 699.6 352.1 704.3Z" fill="url(#d48)"/>
<path d="M336.1 705.3 341.3 707.8 345.8 709.1 351.6 709.9 352.6 704.4 352.9 699.7 352.6 693.8 347.4 691.5 343.3 690.2 338.4 689.1 336.9 694.6 336.2 699.3Z" fill="url(#d58)"/>
<path d="M321.6 699.7 326.1 702.3 330.1 703.9 335.3 705.0 336.7 699.5 337.4 694.7 337.7 688.8 333.3 686.3 329.7 684.8 325.5 683.6 323.5 689.0 322.4 693.7Z" fill="url(#d08)"/>
<path d="M309.1 693.7 312.8 696.4 316.3 698.0 320.9 699.3 322.8 693.8 323.9 689.1 324.9 683.3 321.3 680.7 318.3 679.2 314.7 678.2 312.2 683.4 310.5 687.9Z" fill="url(#d17)"/>
<path d="M298.6 688.0 301.6 690.5 304.5 692.1 308.5 693.3 310.9 688.0 312.5 683.5 314.2 677.8 311.4 675.4 309.0 674.1 306.0 673.2 302.9 678.2 300.8 682.4Z" fill="url(#d27)"/>
<path d="M290.1 682.9 292.4 685.1 294.7 686.5 298.1 687.6 301.0 682.5 303.2 678.2 305.6 672.9 303.5 670.9 301.7 669.8 299.3 669.3 295.7 673.8 293.0 677.8Z" fill="url(#d37)"/>
<path d="M283.5 679.0 285.1 680.7 286.9 681.8 289.8 682.6 293.2 677.8 295.9 673.8 299.0 669.0 297.7 667.5 296.3 666.8 294.4 666.7 290.2 670.8 287.0 674.4Z" fill="url(#d46)"/>
<path d="M278.6 676.5 279.6 677.7 281.0 678.3 283.3 678.7 287.3 674.4 290.4 670.8 294.2 666.5 293.5 665.6 292.6 665.4 291.1 665.9 286.5 669.5 282.8 672.6Z" fill="url(#d56)"/>
<path d="M275.2 675.9 275.7 676.3 276.6 676.5 278.5 676.4 283.0 672.5 286.6 669.4 291.1 665.8 290.9 665.6 289.6 666.5 286.4 668.5 283.3 670.5 280.0 672.6Z" fill="url(#d05)"/>
<path d="M269.9 678.8 272.4 677.3 273.7 676.5 275.2 675.8 280.2 672.5 283.6 670.4 286.0 668.8 283.6 670.4 281.2 671.8 278.0 673.8 274.8 675.8 272.4 677.3Z" fill="url(#d14)"/>
<path d="M532.9 638.2 534.7 633.8 536.4 629.6 538.5 623.8 540.6 618.0 542.0 613.8 543.5 609.2 541.4 615.6 539.0 621.8 535.8 629.4 534.7 633.2 533.9 635.6Z" fill="url(#d22)"/>
<path d="M522.6 658.3 526.4 651.8 529.4 646.0 532.5 638.9 534.3 634.7 535.1 632.4 535.4 630.4 531.8 637.1 528.5 642.8 524.2 649.9 523.3 653.8 522.8 656.3Z" fill="url(#d33)"/>
<path d="M508.9 677.2 513.8 671.5 517.6 666.2 522.1 659.2 523.4 655.5 523.8 653.0 523.6 650.7 519.0 656.7 514.8 661.8 509.6 668.1 508.8 672.2 508.7 674.8Z" fill="url(#d44)"/>
<path d="M492.5 693.6 498.3 688.8 502.9 684.2 508.2 678.0 509.3 674.2 509.5 671.5 508.9 668.9 503.3 674.0 498.4 678.3 492.4 683.7 491.8 687.9 491.9 690.8Z" fill="url(#d54)"/>
<path d="M474.0 707.1 480.5 703.3 485.6 699.6 491.7 694.3 492.6 690.3 492.6 687.4 491.6 684.4 485.2 688.5 479.8 692.0 473.2 696.3 472.8 700.7 473.0 703.9Z" fill="url(#d05)"/>
<path d="M454.0 717.5 460.9 714.8 466.5 712.0 473.2 707.7 473.9 703.5 473.6 700.4 472.4 696.9 465.5 699.9 459.8 702.5 452.8 705.8 452.5 710.4 452.8 713.8Z" fill="url(#d16)"/>
<path d="M433.1 724.8 440.3 723.2 446.1 721.2 453.1 718.0 453.7 713.6 453.3 710.2 451.9 706.2 444.7 708.1 438.8 709.8 431.7 712.2 431.4 717.0 431.8 720.7Z" fill="url(#d26)"/>
<path d="M411.9 729.1 419.1 728.6 425.0 727.4 432.1 725.1 432.6 720.5 432.2 716.8 430.8 712.4 423.5 713.2 417.7 714.1 410.7 715.5 410.3 720.5 410.6 724.5Z" fill="url(#d37)"/>
<path d="M391.0 730.7 398.0 731.1 403.8 730.7 410.9 729.3 411.4 724.5 411.1 720.5 409.7 715.6 402.6 715.4 396.9 715.6 390.1 716.2 389.6 721.4 389.8 725.6Z" fill="url(#d47)"/>
<path d="M370.7 729.8 377.5 731.0 383.1 731.3 390.0 730.7 390.6 725.7 390.3 721.4 389.1 716.1 382.4 715.1 377.0 714.6 370.6 714.5 369.8 719.9 369.9 724.3Z" fill="url(#d57)"/>
<path d="M351.6 726.9 357.9 728.7 363.2 729.6 369.8 729.7 370.6 724.4 370.5 720.0 369.6 714.4 363.4 712.6 358.3 711.6 352.4 711.0 351.4 716.5 351.1 721.1Z" fill="url(#d07)"/>
<path d="M334.0 722.3 339.7 724.7 344.6 726.0 350.7 726.7 351.8 721.2 352.0 716.6 351.5 710.7 345.9 708.5 341.3 707.1 335.9 706.1 334.5 711.7 333.9 716.4Z" fill="url(#d18)"/>
<path d="M318.0 716.7 323.1 719.4 327.5 721.0 333.1 722.1 334.5 716.5 335.1 711.8 335.1 705.8 330.2 703.2 326.2 701.7 321.4 700.4 319.5 705.9 318.5 710.7Z" fill="url(#d28)"/>
<path d="M303.9 710.5 308.2 713.3 312.1 715.0 317.2 716.4 319.0 710.8 320.0 706.1 320.6 700.1 316.4 697.4 313.0 695.7 308.8 694.4 306.4 699.8 305.0 704.5Z" fill="url(#d38)"/>
<path d="M291.6 704.1 295.3 706.9 298.7 708.7 303.2 710.1 305.4 704.6 306.8 700.0 308.2 694.1 304.7 691.4 301.8 689.8 298.2 688.7 295.4 693.8 293.4 698.3Z" fill="url(#d47)"/>
<path d="M281.4 698.1 284.3 700.7 287.1 702.4 291.1 703.7 293.8 698.4 295.7 693.9 297.7 688.3 295.0 685.9 292.7 684.5 289.7 683.6 286.3 688.4 283.9 692.7Z" fill="url(#d57)"/>
<path d="M273.0 693.0 275.2 695.2 277.6 696.6 280.9 697.8 284.2 692.7 286.6 688.5 289.3 683.2 287.3 681.2 285.5 680.1 283.0 679.6 279.1 684.0 276.2 687.9Z" fill="url(#d07)"/>
<path d="M266.5 689.0 268.0 690.7 269.8 691.8 272.7 692.6 276.4 688.0 279.3 684.1 282.7 679.3 281.4 677.8 280.1 677.1 278.1 677.0 273.6 681.0 270.2 684.5Z" fill="url(#d16)"/>
<path d="M261.5 686.6 262.5 687.7 263.9 688.3 266.2 688.7 270.5 684.5 273.9 681.0 277.9 676.9 277.2 676.0 276.2 675.9 274.6 676.3 269.8 679.8 265.9 682.7Z" fill="url(#d26)"/>
<path d="M258.0 686.0 258.5 686.4 259.5 686.5 261.4 686.4 266.1 682.7 269.9 679.7 274.6 676.2 274.3 676.1 272.7 677.1 269.5 679.1 266.1 681.0 262.9 682.9Z" fill="url(#d35)"/>
<path d="M252.2 689.0 254.8 687.5 256.4 686.6 258.0 685.9 263.1 682.8 266.4 680.8 269.0 679.3 266.4 680.8 264.0 682.3 260.7 684.2 257.3 686.1 254.8 687.5Z" fill="url(#d44)"/>
<path d="M518.5 667.2 520.8 663.0 522.9 659.1 525.7 653.7 528.4 648.1 530.3 644.1 532.2 639.7 529.6 645.5 526.6 651.4 522.6 658.6 521.0 662.3 520.0 664.5Z" fill="url(#d52)"/>
<path d="M506.5 685.7 510.9 679.6 514.4 674.2 518.1 667.9 520.5 663.6 521.5 661.4 522.0 659.5 517.8 665.8 514.0 671.1 508.9 677.6 507.6 681.3 506.9 683.7Z" fill="url(#d03)"/>
<path d="M491.1 702.8 496.5 697.6 500.8 692.9 505.9 686.5 507.5 683.0 508.3 680.6 508.3 678.4 503.0 683.8 498.4 688.4 492.6 694.1 491.5 697.9 491.1 700.5Z" fill="url(#d14)"/>
<path d="M473.5 717.2 479.6 713.1 484.6 709.1 490.4 703.5 491.8 699.9 492.2 697.3 491.8 694.8 485.8 699.2 480.6 702.9 474.1 707.6 473.2 711.7 473.1 714.5Z" fill="url(#d24)"/>
<path d="M454.2 728.7 460.8 725.6 466.2 722.4 472.7 717.8 473.9 714.0 474.0 711.2 473.3 708.2 466.6 711.6 461.0 714.5 454.1 718.1 453.4 722.4 453.4 725.5Z" fill="url(#d35)"/>
<path d="M433.7 737.1 440.7 735.1 446.4 732.8 453.3 729.2 454.3 725.2 454.2 722.1 453.2 718.6 446.2 720.8 440.3 722.8 433.2 725.5 432.6 730.0 432.7 733.4Z" fill="url(#d45)"/>
<path d="M412.6 742.6 419.8 741.6 425.7 740.1 432.8 737.5 433.6 733.2 433.4 729.8 432.3 725.8 425.1 727.0 419.2 728.2 412.0 729.9 411.4 734.6 411.6 738.3Z" fill="url(#d56)"/>
<path d="M391.5 745.2 398.6 745.2 404.5 744.5 411.7 742.8 412.4 738.3 412.2 734.6 411.0 730.1 403.9 730.2 398.0 730.6 391.0 731.5 390.4 736.5 390.5 740.5Z" fill="url(#d07)"/>
<path d="M370.8 745.3 377.7 746.1 383.5 746.1 390.5 745.3 391.3 740.5 391.2 736.5 390.1 731.5 383.1 730.8 377.5 730.5 370.8 730.6 370.0 735.8 370.0 740.1Z" fill="url(#d17)"/>
<path d="M350.9 743.1 357.5 744.7 363.0 745.3 369.8 745.2 370.7 740.2 370.7 735.9 369.8 730.5 363.2 729.0 357.9 728.2 351.6 727.7 350.6 733.1 350.4 737.6Z" fill="url(#d27)"/>
<path d="M332.2 739.2 338.3 741.4 343.5 742.5 350.0 743.0 351.0 737.7 351.2 733.2 350.7 727.5 344.6 725.4 339.7 724.1 333.9 723.2 332.5 728.6 332.0 733.3Z" fill="url(#d37)"/>
<path d="M315.0 733.8 320.5 736.4 325.3 737.9 331.3 738.9 332.6 733.5 333.1 728.8 333.0 722.9 327.5 720.3 323.1 718.8 317.8 717.5 316.1 723.0 315.2 727.8Z" fill="url(#d48)"/>
<path d="M299.4 727.5 304.3 730.4 308.6 732.2 314.1 733.5 315.8 728.0 316.6 723.2 317.0 717.2 312.2 714.4 308.3 712.7 303.6 711.3 301.4 716.7 300.2 721.5Z" fill="url(#d58)"/>
<path d="M285.5 720.9 289.8 723.8 293.6 725.7 298.6 727.2 300.7 721.7 301.9 716.9 302.9 710.9 298.8 708.0 295.5 706.3 291.3 704.9 288.7 710.2 287.0 714.9Z" fill="url(#d08)"/>
<path d="M273.6 714.2 277.1 717.1 280.4 718.9 284.9 720.4 287.4 715.0 289.1 710.4 290.7 704.5 287.4 701.7 284.6 700.1 281.0 698.8 277.8 703.9 275.7 708.4Z" fill="url(#d17)"/>
<path d="M263.5 708.0 266.3 710.6 269.1 712.3 273.0 713.8 276.0 708.5 278.2 704.1 280.5 698.5 277.9 696.0 275.6 694.6 272.5 693.6 268.9 698.4 266.2 702.6Z" fill="url(#d27)"/>
<path d="M255.2 702.7 257.4 704.9 259.7 706.4 263.0 707.6 266.5 702.6 269.2 698.4 272.2 693.3 270.2 691.2 268.4 690.1 265.9 689.5 261.8 693.9 258.6 697.7Z" fill="url(#d37)"/>
<path d="M248.7 698.7 250.2 700.4 252.1 701.5 254.9 702.4 258.9 697.8 262.0 693.9 265.7 689.3 264.3 687.8 263.0 687.2 260.9 687.0 256.3 690.9 252.7 694.3Z" fill="url(#d46)"/>
<path d="M243.7 696.3 244.7 697.3 246.1 698.0 248.5 698.4 252.9 694.3 256.5 690.9 260.8 686.9 260.0 686.1 259.0 685.9 257.4 686.4 252.3 689.7 248.3 692.6Z" fill="url(#d55)"/>
<path d="M240.1 695.7 240.6 696.1 241.6 696.2 243.6 696.1 248.5 692.5 252.5 689.6 257.3 686.3 257.0 686.3 255.1 687.3 251.7 689.2 248.3 691.1 245.2 692.8Z" fill="url(#d05)"/>
<path d="M233.8 698.8 236.6 697.4 238.4 696.4 240.0 695.7 245.4 692.7 248.6 690.9 251.3 689.5 248.6 690.9 246.1 692.3 242.6 694.2 239.1 696.0 236.6 697.4Z" fill="url(#d14)"/>
<path d="M501.4 694.0 504.1 690.2 506.6 686.6 509.9 681.6 513.1 676.5 515.4 672.7 517.7 668.6 514.7 673.8 511.2 679.2 506.4 685.9 504.6 689.3 503.4 691.3Z" fill="url(#d22)"/>
<path d="M488.1 710.6 493.0 705.1 497.0 700.1 501.0 694.6 503.9 690.5 505.1 688.5 505.8 686.7 501.0 692.5 496.7 697.3 491.1 703.2 489.5 706.6 488.7 708.8Z" fill="url(#d33)"/>
<path d="M471.6 725.9 477.3 721.4 481.9 717.1 487.4 711.3 489.3 708.2 490.2 706.0 490.4 703.9 484.8 708.7 479.8 712.7 473.6 717.7 472.2 721.3 471.7 723.7Z" fill="url(#d44)"/>
<path d="M453.1 738.5 459.4 734.9 464.6 731.4 470.8 726.6 472.4 723.2 473.0 720.8 472.8 718.3 466.4 722.1 461.0 725.2 454.3 729.2 453.1 733.1 452.8 735.8Z" fill="url(#d54)"/>
<path d="M433.3 748.1 440.1 745.6 445.6 742.9 452.3 739.0 453.6 735.4 454.0 732.7 453.4 729.7 446.6 732.4 440.8 734.7 433.8 737.7 432.8 741.9 432.7 744.9Z" fill="url(#d05)"/>
<path d="M412.6 754.8 419.6 753.3 425.4 751.5 432.4 748.5 433.5 744.6 433.7 741.6 432.9 738.1 425.8 739.7 419.9 741.2 412.7 743.2 411.9 747.7 411.8 751.0Z" fill="url(#d15)"/>
<path d="M391.6 758.6 398.7 758.2 404.5 757.1 411.7 755.1 412.7 750.9 412.7 747.5 411.8 743.5 404.6 744.1 398.7 744.8 391.6 745.9 390.8 750.6 390.8 754.3Z" fill="url(#d26)"/>
<path d="M370.7 759.8 377.7 760.3 383.5 760.0 390.6 758.8 391.6 754.3 391.6 750.6 390.6 746.0 383.5 745.7 377.8 745.7 370.9 746.1 370.0 751.0 369.9 755.0Z" fill="url(#d37)"/>
<path d="M350.3 758.7 357.0 759.9 362.7 760.3 369.7 759.9 370.7 755.1 370.7 751.1 369.9 746.0 363.1 744.8 357.5 744.2 350.9 743.9 349.9 749.1 349.7 753.4Z" fill="url(#d47)"/>
<path d="M330.7 755.5 337.2 757.5 342.6 758.3 349.3 758.6 350.4 753.6 350.6 749.3 350.0 743.8 343.6 741.9 338.4 740.8 332.1 740.0 330.9 745.4 330.4 749.9Z" fill="url(#d57)"/>
<path d="M312.4 750.7 318.3 753.2 323.4 754.5 329.8 755.3 331.1 750.1 331.5 745.5 331.2 739.7 325.3 737.3 320.6 735.8 314.8 734.6 313.2 740.1 312.5 744.8Z" fill="url(#d07)"/>
<path d="M295.5 744.7 300.9 747.5 305.6 749.2 311.5 750.4 313.1 745.0 313.8 740.3 314.0 734.3 308.7 731.6 304.4 729.8 299.1 728.4 297.1 733.9 296.1 738.6Z" fill="url(#d18)"/>
<path d="M280.2 737.9 285.0 741.0 289.2 742.8 294.7 744.3 296.6 738.8 297.6 734.1 298.4 728.0 293.7 725.0 289.9 723.2 285.2 721.6 282.8 727.1 281.3 731.8Z" fill="url(#d28)"/>
<path d="M266.7 730.8 270.8 733.9 274.5 735.9 279.5 737.5 281.8 732.0 283.3 727.3 284.6 721.2 280.6 718.3 277.3 716.4 273.2 714.9 270.3 720.2 268.4 724.9Z" fill="url(#d38)"/>
<path d="M255.0 723.9 258.4 726.8 261.6 728.8 266.0 730.4 268.8 725.0 270.7 720.4 272.6 714.5 269.4 711.7 266.6 710.0 263.0 708.7 259.7 713.7 257.3 718.2Z" fill="url(#d47)"/>
<path d="M245.0 717.5 247.8 720.2 250.5 721.9 254.4 723.5 257.6 718.3 260.0 713.8 262.6 708.3 260.0 705.8 257.8 704.3 254.7 703.3 250.9 708.0 248.0 712.2Z" fill="url(#d57)"/>
<path d="M236.9 712.1 239.0 714.4 241.3 715.9 244.6 717.1 248.3 712.2 251.1 708.1 254.4 703.0 252.5 700.9 250.7 699.8 248.1 699.2 243.8 703.5 240.5 707.2Z" fill="url(#d06)"/>
<path d="M230.4 708.1 231.9 709.8 233.7 710.9 236.5 711.8 240.7 707.3 244.0 703.5 247.9 699.0 246.6 697.5 245.2 696.9 243.1 696.7 238.3 700.5 234.5 703.8Z" fill="url(#d16)"/>
<path d="M225.4 705.7 226.3 706.7 227.7 707.4 230.1 707.8 234.8 703.8 238.5 700.5 242.9 696.6 242.2 695.8 241.2 695.7 239.4 696.1 234.2 699.3 230.1 702.1Z" fill="url(#d25)"/>
<path d="M221.6 705.2 222.1 705.5 223.2 705.6 225.2 705.5 230.3 702.0 234.4 699.3 239.4 696.1 239.1 696.0 236.9 697.2 233.4 699.0 229.8 700.8 226.8 702.4Z" fill="url(#d35)"/>
<path d="M215.0 708.3 217.8 706.9 219.9 705.8 221.6 705.1 227.0 702.3 230.1 700.7 232.9 699.3 230.1 700.7 227.5 702.0 224.0 703.8 220.4 705.6 217.8 706.9Z" fill="url(#d44)"/>
<path d="M482.3 718.3 485.2 714.9 488.0 711.6 491.6 707.1 495.2 702.4 497.8 699.0 500.5 695.3 497.2 699.8 493.3 704.7 488.0 710.8 485.9 713.8 484.6 715.6Z" fill="url(#d52)"/>
<path d="M468.1 733.0 473.4 728.1 477.7 723.6 481.8 718.9 485.2 714.9 486.6 713.1 487.4 711.6 482.1 716.8 477.5 721.0 471.5 726.3 469.8 729.4 468.8 731.4Z" fill="url(#d03)"/>
<path d="M450.8 746.7 456.7 742.7 461.6 738.9 467.4 733.7 469.5 730.8 470.5 728.9 470.8 726.9 464.8 731.1 459.7 734.6 453.1 738.9 451.6 742.3 451.0 744.6Z" fill="url(#d14)"/>
<path d="M431.8 757.5 438.3 754.5 443.6 751.5 450.0 747.2 451.7 744.1 452.4 741.9 452.3 739.4 445.8 742.6 440.2 745.3 433.4 748.6 432.1 752.3 431.6 754.9Z" fill="url(#d24)"/>
<path d="M411.8 765.5 418.6 763.5 424.2 761.3 431.0 758.0 432.5 754.6 432.9 752.0 432.5 749.0 425.6 751.1 419.8 753.0 412.7 755.4 411.6 759.4 411.3 762.3Z" fill="url(#d35)"/>
<path d="M391.1 770.7 398.1 769.7 403.8 768.3 410.9 765.9 412.1 762.2 412.4 759.2 411.7 755.7 404.7 756.7 398.8 757.8 391.7 759.3 390.6 763.6 390.5 767.0Z" fill="url(#d45)"/>
<path d="M370.2 773.2 377.2 773.2 383.0 772.5 390.1 770.9 391.3 766.9 391.4 763.6 390.7 759.5 383.6 759.6 377.8 759.9 370.7 760.6 369.7 765.2 369.5 768.9Z" fill="url(#d56)"/>
<path d="M349.5 773.3 356.4 774.1 362.2 774.1 369.2 773.3 370.3 768.9 370.5 765.2 369.7 760.6 362.8 759.8 357.1 759.5 350.3 759.5 349.2 764.4 348.9 768.4Z" fill="url(#d07)"/>
<path d="M329.4 771.1 336.1 772.7 341.7 773.3 348.5 773.3 349.7 768.5 349.9 764.5 349.3 759.4 342.6 757.8 337.2 756.9 330.7 756.3 329.4 761.5 329.0 765.8Z" fill="url(#d17)"/>
<path d="M310.2 767.1 316.5 769.3 321.8 770.4 328.5 771.0 329.7 766.0 330.1 761.7 329.8 756.1 323.5 754.0 318.4 752.6 312.3 751.5 310.8 756.9 310.2 761.5Z" fill="url(#d27)"/>
<path d="M292.3 761.6 298.1 764.3 303.0 765.8 309.3 766.9 310.8 761.6 311.4 757.1 311.4 751.3 305.7 748.6 301.0 746.9 295.3 745.5 293.5 751.0 292.6 755.7Z" fill="url(#d37)"/>
<path d="M275.7 755.0 280.9 758.1 285.5 759.9 291.4 761.3 293.1 755.9 294.0 751.2 294.5 745.2 289.3 742.2 285.1 740.3 280.0 738.7 277.7 744.2 276.5 749.0Z" fill="url(#d48)"/>
<path d="M260.7 747.8 265.3 751.0 269.5 753.0 274.9 754.7 277.0 749.2 278.2 744.4 279.2 738.3 274.7 735.2 271.0 733.3 266.4 731.6 263.7 737.0 262.0 741.8Z" fill="url(#d58)"/>
<path d="M247.4 740.4 251.4 743.6 255.1 745.7 260.0 747.4 262.5 742.0 264.1 737.2 265.7 731.2 261.9 728.1 258.6 726.2 254.5 724.6 251.4 729.9 249.3 734.5Z" fill="url(#d07)"/>
<path d="M235.9 733.2 239.2 736.3 242.4 738.3 246.8 740.0 249.7 734.6 251.8 730.0 254.0 724.2 250.8 721.3 248.1 719.6 244.6 718.2 241.0 723.2 238.4 727.6Z" fill="url(#d17)"/>
<path d="M226.1 726.7 228.8 729.5 231.5 731.2 235.3 732.8 238.8 727.7 241.3 723.3 244.1 717.8 241.6 715.3 239.4 713.8 236.3 712.7 232.3 717.4 229.3 721.4Z" fill="url(#d27)"/>
<path d="M218.0 721.2 220.1 723.5 222.3 725.0 225.7 726.3 229.5 721.5 232.5 717.4 236.0 712.4 234.1 710.3 232.3 709.2 229.8 708.6 225.2 712.8 221.8 716.5Z" fill="url(#d36)"/>
<path d="M211.5 717.2 213.0 718.9 214.8 720.0 217.7 720.9 222.0 716.5 225.5 712.8 229.5 708.4 228.2 706.9 226.9 706.2 224.7 706.1 219.7 709.8 215.9 713.0Z" fill="url(#d46)"/>
<path d="M206.5 714.8 207.5 715.8 208.9 716.5 211.3 716.9 216.1 713.0 219.9 709.8 224.5 706.0 223.8 705.2 222.7 705.1 220.9 705.6 215.6 708.6 211.3 711.3Z" fill="url(#d55)"/>
<path d="M202.7 714.3 203.2 714.6 204.3 714.7 206.3 714.6 211.6 711.3 215.8 708.6 220.9 705.5 220.5 705.5 218.1 706.7 214.5 708.5 210.9 710.3 208.0 711.6Z" fill="url(#d04)"/>
<path d="M195.7 717.4 198.5 716.1 200.9 715.0 202.6 714.3 208.2 711.5 211.2 710.1 214.0 708.7 211.2 710.1 208.5 711.4 204.9 713.1 201.2 714.8 198.5 716.1Z" fill="url(#d14)"/>
<path d="M461.8 740.0 464.9 737.0 467.8 734.1 471.7 730.0 475.6 725.9 478.4 722.8 481.3 719.4 478.0 723.2 473.7 727.8 468.1 733.3 465.8 735.9 464.5 737.4Z" fill="url(#d22)"/>
<path d="M447.2 753.1 452.6 748.7 457.1 744.6 461.3 740.6 465.1 736.8 466.5 735.3 467.3 733.9 461.8 738.6 457.0 742.4 450.8 747.0 448.9 749.9 447.8 751.7Z" fill="url(#d33)"/>
<path d="M429.3 765.2 435.4 761.7 440.3 758.3 446.4 753.7 448.6 751.2 449.6 749.4 450.0 747.6 443.8 751.2 438.5 754.2 431.9 757.9 430.2 761.1 429.5 763.3Z" fill="url(#d44)"/>
<path d="M410.0 774.6 416.6 772.1 421.9 769.5 428.5 765.7 430.3 762.9 431.0 760.8 431.0 758.4 424.4 761.0 418.8 763.2 411.8 766.0 410.4 769.5 409.9 772.1Z" fill="url(#d54)"/>
<path d="M389.9 781.3 396.7 779.7 402.3 777.9 409.2 775.0 410.7 771.8 411.3 769.3 410.9 766.4 404.0 768.0 398.2 769.4 391.1 771.3 389.9 775.2 389.6 778.1Z" fill="url(#d05)"/>
<path d="M369.3 785.2 376.2 784.6 382.0 783.6 389.0 781.5 390.4 778.0 390.7 775.1 390.2 771.5 383.2 772.2 377.3 772.8 370.2 773.9 369.1 778.1 368.8 781.5Z" fill="url(#d15)"/>
<path d="M348.6 786.6 355.5 787.0 361.3 786.6 368.4 785.4 369.6 781.4 369.9 778.1 369.3 774.0 362.3 773.7 356.5 773.7 349.5 774.0 348.4 778.6 348.1 782.3Z" fill="url(#d26)"/>
<path d="M328.2 785.7 335.0 786.9 340.6 787.1 347.6 786.7 348.9 782.4 349.1 778.7 348.6 774.0 341.7 772.9 336.1 772.2 329.4 771.9 328.1 776.8 327.8 780.8Z" fill="url(#d37)"/>
<path d="M308.4 782.7 314.9 784.6 320.4 785.4 327.2 785.7 328.5 781.0 328.8 776.9 328.4 771.8 321.9 769.9 316.6 768.8 310.2 767.9 308.7 773.1 308.2 777.4Z" fill="url(#d47)"/>
<path d="M289.5 778.0 295.6 780.5 300.9 781.8 307.4 782.6 308.9 777.6 309.4 773.3 309.2 767.7 303.1 765.3 298.1 763.7 292.1 762.4 290.4 767.8 289.6 772.3Z" fill="url(#d57)"/>
<path d="M271.8 772.0 277.5 774.8 282.4 776.5 288.6 777.8 290.3 772.6 291.0 768.0 291.2 762.1 285.6 759.3 281.0 757.5 275.5 755.9 273.4 761.3 272.4 766.0Z" fill="url(#d07)"/>
<path d="M255.5 764.9 260.7 768.1 265.2 770.0 271.0 771.6 272.9 766.2 274.0 761.5 274.7 755.5 269.6 752.4 265.5 750.4 260.4 748.6 258.0 754.1 256.6 758.9Z" fill="url(#d17)"/>
<path d="M240.8 757.4 245.4 760.6 249.4 762.7 254.8 764.5 257.1 759.1 258.5 754.3 259.7 748.2 255.3 745.0 251.6 743.0 247.0 741.2 244.2 746.6 242.4 751.3Z" fill="url(#d27)"/>
<path d="M227.7 749.7 231.7 752.9 235.3 755.1 240.1 756.9 242.8 751.5 244.6 746.8 246.4 740.8 242.7 737.6 239.5 735.6 235.4 734.0 232.1 739.2 229.9 743.8Z" fill="url(#d37)"/>
<path d="M216.4 742.3 219.7 745.4 222.8 747.4 227.1 749.2 230.3 743.9 232.5 739.4 234.9 733.6 231.8 730.6 229.1 728.8 225.6 727.4 221.8 732.3 219.1 736.7Z" fill="url(#d47)"/>
<path d="M206.7 735.7 209.4 738.4 212.0 740.2 215.9 741.9 219.4 736.8 222.1 732.5 225.1 727.0 222.7 724.4 220.5 722.9 217.4 721.9 213.2 726.4 210.1 730.4Z" fill="url(#d57)"/>
<path d="M198.7 730.1 200.8 732.4 203.0 733.9 206.3 735.3 210.4 730.5 213.5 726.5 217.1 721.5 215.3 719.4 213.5 718.3 210.9 717.7 206.2 721.8 202.6 725.4Z" fill="url(#d06)"/>
<path d="M192.3 726.0 193.7 727.7 195.5 728.8 198.4 729.8 202.9 725.4 206.5 721.8 210.7 717.4 209.4 716.0 208.0 715.3 205.8 715.2 200.7 718.8 196.7 721.9Z" fill="url(#d16)"/>
<path d="M187.2 723.6 188.2 724.6 189.6 725.3 192.0 725.7 197.0 721.9 200.9 718.8 205.7 715.1 204.9 714.3 203.8 714.2 202.0 714.7 196.5 717.7 192.2 720.2Z" fill="url(#d25)"/>
<path d="M183.4 723.2 183.9 723.4 185.0 723.5 187.1 723.5 192.4 720.2 196.7 717.6 201.9 714.7 201.5 714.7 198.9 715.9 195.2 717.7 191.5 719.4 188.8 720.6Z" fill="url(#d34)"/>
<path d="M176.0 726.3 178.9 725.0 181.5 723.9 183.3 723.2 189.0 720.5 191.8 719.2 194.7 717.9 191.8 719.2 189.1 720.4 185.4 722.1 181.6 723.8 178.9 725.0Z" fill="url(#d44)"/>
<path d="M440.5 759.5 443.6 756.8 446.6 754.2 450.7 750.5 454.7 746.8 457.7 744.1 460.8 741.1 457.4 744.3 452.9 748.4 447.1 753.3 444.8 755.7 443.4 757.0Z" fill="url(#d52)"/>
<path d="M425.6 771.1 431.2 767.1 435.8 763.4 439.9 760.0 444.0 756.4 445.5 755.1 446.3 753.9 440.6 758.1 435.6 761.4 429.2 765.5 427.3 768.2 426.2 769.8Z" fill="url(#d03)"/>
<path d="M407.4 781.9 413.5 778.8 418.6 775.8 424.8 771.7 427.0 769.4 428.0 767.7 428.4 766.0 422.2 769.2 416.8 771.8 410.1 775.0 408.4 778.0 407.6 780.0Z" fill="url(#d14)"/>
<path d="M388.0 790.1 394.5 787.9 399.9 785.7 406.5 782.4 408.4 779.7 409.2 777.7 409.2 775.4 402.5 777.6 396.9 779.4 389.9 781.8 388.5 785.1 387.9 787.6Z" fill="url(#d24)"/>
<path d="M367.9 795.6 374.7 794.4 380.3 792.9 387.1 790.4 388.7 787.4 389.3 785.0 389.0 782.1 382.1 783.2 376.4 784.3 369.3 785.8 368.0 789.6 367.6 792.5Z" fill="url(#d35)"/>
<path d="M347.4 798.5 354.3 798.3 360.0 797.5 367.0 795.8 368.4 792.4 368.8 789.5 368.4 786.0 361.4 786.2 355.6 786.6 348.6 787.3 347.3 791.5 347.0 794.8Z" fill="url(#d45)"/>
<path d="M326.9 799.0 333.7 799.7 339.4 799.5 346.4 798.7 347.8 794.8 348.1 791.5 347.6 787.4 340.7 786.7 335.1 786.4 328.2 786.5 326.9 791.0 326.5 794.7Z" fill="url(#d56)"/>
<path d="M306.7 797.3 313.4 798.7 319.0 799.2 325.9 799.1 327.2 794.8 327.6 791.1 327.2 786.4 320.5 785.0 315.0 784.1 308.3 783.5 306.9 788.4 306.4 792.4Z" fill="url(#d06)"/>
<path d="M287.2 793.7 293.6 795.7 299.0 796.8 305.7 797.2 307.1 792.6 307.6 788.6 307.4 783.4 301.0 781.3 295.7 779.9 289.4 778.9 287.8 784.0 287.1 788.3Z" fill="url(#d17)"/>
<path d="M268.6 788.4 274.6 791.0 279.8 792.5 286.2 793.5 287.8 788.5 288.4 784.2 288.5 778.6 282.5 776.0 277.6 774.3 271.7 772.8 269.8 778.1 268.9 782.7Z" fill="url(#d27)"/>
<path d="M251.2 781.8 256.7 784.9 261.6 786.7 267.7 788.1 269.5 782.9 270.4 778.3 270.8 772.5 265.3 769.5 260.8 767.5 255.3 765.8 253.1 771.2 251.9 775.9Z" fill="url(#d37)"/>
<path d="M235.2 774.4 240.2 777.7 244.6 779.8 250.3 781.5 252.4 776.1 253.6 771.4 254.5 765.4 249.6 762.1 245.5 760.0 240.5 758.2 237.9 763.6 236.3 768.3Z" fill="url(#d47)"/>
<path d="M220.6 766.5 225.1 769.9 229.1 772.1 234.4 774.0 236.8 768.6 238.4 763.8 239.8 757.7 235.5 754.4 231.9 752.3 227.4 750.5 224.3 755.8 222.4 760.5Z" fill="url(#d57)"/>
<path d="M207.8 758.6 211.6 761.9 215.2 764.1 220.0 766.1 222.8 760.7 224.8 756.0 226.7 750.0 223.1 746.8 219.9 744.8 215.9 743.0 212.5 748.2 210.1 752.7Z" fill="url(#d07)"/>
<path d="M196.6 751.1 199.8 754.2 202.9 756.3 207.2 758.2 210.4 752.9 212.8 748.4 215.4 742.6 212.4 739.6 209.7 737.8 206.2 736.3 202.3 741.2 199.4 745.5Z" fill="url(#d17)"/>
<path d="M187.0 744.3 189.6 747.1 192.3 749.0 196.0 750.6 199.8 745.6 202.6 741.3 205.8 735.9 203.4 733.3 201.2 731.8 198.1 730.7 193.8 735.2 190.5 739.1Z" fill="url(#d26)"/>
<path d="M179.1 738.7 181.1 741.0 183.3 742.5 186.6 743.9 190.8 739.2 194.0 735.3 197.8 730.4 196.0 728.3 194.2 727.2 191.6 726.5 186.8 730.5 183.1 734.0Z" fill="url(#d36)"/>
<path d="M172.7 734.5 174.1 736.3 175.9 737.4 178.8 738.4 183.4 734.1 187.1 730.6 191.4 726.3 190.1 724.8 188.7 724.2 186.5 724.0 181.3 727.5 177.2 730.5Z" fill="url(#d45)"/>
<path d="M167.6 732.2 168.6 733.2 170.0 733.8 172.4 734.3 177.5 730.6 181.5 727.5 186.4 723.9 185.6 723.2 184.5 723.1 182.6 723.5 177.1 726.4 172.7 728.9Z" fill="url(#d55)"/>
<path d="M163.7 731.8 164.2 732.0 165.3 732.1 167.4 732.0 172.9 728.9 177.3 726.3 182.6 723.5 182.0 723.7 179.2 724.9 175.5 726.5 171.7 728.2 169.0 729.4Z" fill="url(#d04)"/>
<path d="M156.0 734.9 159.0 733.7 161.7 732.5 163.6 731.8 169.3 729.2 172.1 728.0 175.0 726.8 172.1 728.0 169.3 729.2 165.5 730.9 161.7 732.5 159.0 733.7Z" fill="url(#d13)"/>
<path d="M418.6 777.0 421.8 774.5 424.9 772.2 429.0 768.9 433.2 765.6 436.2 763.1 439.4 760.4 436.1 763.1 431.5 766.8 425.5 771.3 423.2 773.4 421.8 774.5Z" fill="url(#d22)"/>
<path d="M403.6 787.3 409.4 783.7 413.8 780.5 418.0 777.4 422.2 774.2 423.9 772.9 424.7 771.9 418.9 775.6 413.8 778.6 407.3 782.2 405.3 784.6 404.3 786.2Z" fill="url(#d33)"/>
<path d="M385.2 797.0 391.4 794.3 396.6 791.6 402.8 787.8 405.0 785.8 406.1 784.3 406.5 782.7 400.2 785.4 394.8 787.7 388.0 790.5 386.3 793.3 385.5 795.2Z" fill="url(#d44)"/>
<path d="M365.8 804.2 372.3 802.4 377.8 800.4 384.4 797.4 386.3 795.0 387.1 793.1 387.1 790.8 380.5 792.6 374.8 794.1 367.9 796.1 366.4 799.3 365.8 801.7Z" fill="url(#d54)"/>
<path d="M345.7 808.8 352.5 807.9 358.1 806.6 364.9 804.5 366.6 801.6 367.2 799.2 367.0 796.3 360.1 797.2 354.4 798.0 347.4 799.1 346.0 802.8 345.5 805.6Z" fill="url(#d05)"/>
<path d="M325.4 810.9 332.2 810.9 337.9 810.3 344.8 809.0 346.3 805.6 346.8 802.8 346.4 799.3 339.5 799.2 333.8 799.3 326.9 799.7 325.5 803.8 325.1 807.1Z" fill="url(#d15)"/>
<path d="M305.0 810.6 311.8 811.5 317.5 811.5 324.4 810.9 325.8 807.1 326.3 803.9 325.9 799.7 319.1 798.8 313.5 798.3 306.7 798.1 305.2 802.6 304.8 806.2Z" fill="url(#d26)"/>
<path d="M285.1 808.2 291.7 809.8 297.2 810.5 304.1 810.6 305.5 806.4 306.0 802.7 305.7 798.0 299.1 796.3 293.7 795.3 287.1 794.5 285.6 799.3 285.0 803.3Z" fill="url(#d36)"/>
<path d="M265.8 804.0 272.1 806.3 277.5 807.4 284.2 808.1 285.7 803.5 286.3 799.5 286.2 794.3 279.9 792.0 274.7 790.5 268.4 789.2 266.7 794.3 265.9 798.6Z" fill="url(#d47)"/>
<path d="M247.5 798.2 253.4 801.0 258.5 802.6 264.9 803.8 266.6 798.9 267.4 794.5 267.6 788.9 261.7 786.1 256.9 784.3 251.0 782.7 249.0 788.0 247.9 792.5Z" fill="url(#d57)"/>
<path d="M230.3 791.3 235.8 794.4 240.6 796.4 246.6 797.9 248.5 792.8 249.6 788.2 250.1 782.3 244.8 779.2 240.3 777.1 234.9 775.2 232.5 780.6 231.2 785.3Z" fill="url(#d07)"/>
<path d="M214.5 783.5 219.5 786.9 223.9 789.1 229.5 790.9 231.7 785.6 233.1 780.9 234.1 774.8 229.3 771.5 225.3 769.3 220.3 767.3 217.6 772.7 215.9 777.5Z" fill="url(#d17)"/>
<path d="M200.2 775.4 204.6 778.8 208.6 781.1 213.8 783.1 216.4 777.7 218.0 773.0 219.6 766.9 215.4 763.5 211.8 761.3 207.4 759.4 204.2 764.7 202.1 769.4Z" fill="url(#d27)"/>
<path d="M187.5 767.3 191.3 770.7 194.8 772.9 199.6 774.9 202.5 769.6 204.6 764.9 206.7 758.9 203.2 755.7 200.1 753.6 196.1 751.8 192.5 756.9 190.0 761.4Z" fill="url(#d37)"/>
<path d="M176.5 759.6 179.6 762.8 182.7 764.9 186.9 766.8 190.3 761.6 192.8 757.1 195.6 751.4 192.6 748.3 190.0 746.5 186.5 745.0 182.4 749.8 179.5 754.0Z" fill="url(#d47)"/>
<path d="M167.0 752.7 169.6 755.5 172.2 757.4 175.9 759.1 179.8 754.2 182.7 749.9 186.0 744.6 183.7 742.0 181.5 740.4 178.5 739.3 174.0 743.7 170.6 747.6Z" fill="url(#d56)"/>
<path d="M159.2 747.0 161.1 749.4 163.3 750.9 166.6 752.3 170.9 747.7 174.3 743.8 178.1 739.0 176.4 736.9 174.6 735.7 172.0 735.1 167.1 739.0 163.3 742.5Z" fill="url(#d06)"/>
<path d="M152.8 742.9 154.2 744.6 156.0 745.7 158.8 746.7 163.6 742.5 167.3 739.0 171.8 734.8 170.5 733.4 169.1 732.7 166.9 732.6 161.6 736.0 157.4 739.0Z" fill="url(#d15)"/>
<path d="M147.7 740.5 148.6 741.5 150.1 742.2 152.5 742.6 157.7 739.0 161.8 736.0 166.7 732.5 166.0 731.7 164.9 731.7 163.0 732.1 157.3 734.9 152.8 737.3Z" fill="url(#d25)"/>
<path d="M143.7 740.1 144.3 740.4 145.4 740.5 147.5 740.4 153.0 737.3 157.5 734.8 162.9 732.1 162.1 732.3 159.3 733.5 155.5 735.1 151.7 736.7 148.9 737.9Z" fill="url(#d34)"/>
<path d="M135.7 743.3 138.7 742.1 141.6 740.9 143.7 740.1 149.2 737.8 152.0 736.6 155.0 735.4 152.0 736.6 149.2 737.8 145.4 739.4 141.6 740.9 138.7 742.1Z" fill="url(#d43)"/>
<path d="M396.4 792.7 399.6 790.5 402.7 788.4 406.9 785.4 411.1 782.4 414.2 780.2 417.5 777.8 414.2 780.2 409.6 783.4 403.5 787.5 401.2 789.4 399.6 790.5Z" fill="url(#d52)"/>
<path d="M381.5 802.1 387.3 798.7 391.6 795.9 395.8 793.1 400.0 790.2 401.9 788.9 402.7 788.0 396.8 791.4 391.7 794.1 385.2 797.3 383.2 799.6 382.1 801.0Z" fill="url(#d03)"/>
<path d="M363.0 810.9 369.2 808.4 374.3 805.9 380.7 802.5 382.9 800.6 383.9 799.2 384.3 797.7 378.0 800.1 372.6 802.1 365.8 804.6 364.0 807.3 363.2 809.1Z" fill="url(#d14)"/>
<path d="M343.5 817.1 350.1 815.6 355.5 813.8 362.1 811.2 364.0 808.9 364.8 807.0 364.9 804.9 358.3 806.3 352.7 807.6 345.7 809.3 344.2 812.4 343.5 814.7Z" fill="url(#d24)"/>
<path d="M323.5 820.9 330.2 820.3 335.8 819.3 342.6 817.4 344.3 814.6 345.0 812.3 344.8 809.5 338.0 810.0 332.3 810.6 325.4 811.4 323.9 815.1 323.4 817.8Z" fill="url(#d35)"/>
<path d="M303.3 822.3 310.1 822.6 315.7 822.2 322.6 821.1 324.2 817.8 324.7 815.0 324.4 811.5 317.6 811.2 311.9 811.1 305.0 811.3 303.6 815.3 303.1 818.6Z" fill="url(#d45)"/>
<path d="M283.2 821.5 289.9 822.5 295.5 822.8 302.4 822.4 303.9 818.6 304.4 815.4 304.1 811.3 297.4 810.1 291.8 809.4 285.1 809.0 283.5 813.4 283.0 817.1Z" fill="url(#d56)"/>
<path d="M263.4 818.5 269.9 820.3 275.4 821.1 282.2 821.4 283.7 817.2 284.3 813.6 284.1 808.9 277.6 807.0 272.3 805.8 265.7 804.8 264.1 809.6 263.4 813.6Z" fill="url(#d06)"/>
<path d="M244.4 813.8 250.6 816.2 255.9 817.6 262.5 818.4 264.1 813.8 264.8 809.8 264.8 804.6 258.6 802.1 253.5 800.5 247.3 799.1 245.5 804.1 244.6 808.5Z" fill="url(#d16)"/>
<path d="M226.3 807.7 232.1 810.5 237.1 812.3 243.5 813.6 245.3 808.7 246.1 804.4 246.5 798.8 240.7 795.8 235.9 793.9 230.1 792.1 228.0 797.4 226.8 801.9Z" fill="url(#d27)"/>
<path d="M209.3 800.4 214.7 803.6 219.4 805.6 225.4 807.3 227.4 802.2 228.6 797.6 229.3 791.7 224.0 788.5 219.6 786.3 214.2 784.4 211.8 789.7 210.3 794.4Z" fill="url(#d37)"/>
<path d="M193.7 792.3 198.6 795.8 202.9 798.0 208.5 800.0 210.9 794.7 212.3 790.0 213.5 783.9 208.8 780.5 204.8 778.2 199.9 776.2 197.0 781.6 195.2 786.3Z" fill="url(#d47)"/>
<path d="M179.6 784.0 183.9 787.5 187.8 789.8 193.0 791.9 195.7 786.5 197.5 781.8 199.2 775.7 195.1 772.3 191.5 770.0 187.1 768.0 183.8 773.3 181.6 777.9Z" fill="url(#d57)"/>
<path d="M167.1 775.7 170.7 779.1 174.2 781.4 178.9 783.5 182.0 778.2 184.2 773.5 186.5 767.6 183.0 764.3 179.9 762.1 176.0 760.3 172.2 765.4 169.6 769.8Z" fill="url(#d07)"/>
<path d="M156.1 767.9 159.2 771.1 162.2 773.2 166.5 775.2 170.0 770.0 172.6 765.6 175.4 759.9 172.5 756.8 169.9 754.9 166.5 753.4 162.3 758.1 159.2 762.3Z" fill="url(#d16)"/>
<path d="M146.8 760.9 149.3 763.7 151.9 765.6 155.6 767.4 159.6 762.5 162.6 758.3 166.0 753.0 163.7 750.3 161.6 748.8 158.5 747.6 153.9 752.0 150.5 755.8Z" fill="url(#d26)"/>
<path d="M139.0 755.2 140.9 757.5 143.1 759.1 146.3 760.5 150.8 755.9 154.2 752.1 158.2 747.3 156.5 745.2 154.7 744.1 152.1 743.4 147.1 747.2 143.2 750.7Z" fill="url(#d36)"/>
<path d="M132.6 751.0 134.0 752.7 135.8 753.8 138.6 754.9 143.5 750.7 147.3 747.3 151.8 743.1 150.6 741.7 149.2 741.1 147.0 740.9 141.6 744.2 137.3 747.1Z" fill="url(#d45)"/>
<path d="M127.5 748.6 128.5 749.6 129.9 750.3 132.3 750.8 137.6 747.2 141.8 744.2 146.8 740.8 146.0 740.1 144.9 740.0 143.0 740.5 137.3 743.2 132.7 745.5Z" fill="url(#d54)"/>
<path d="M123.5 748.3 124.1 748.5 125.2 748.6 127.3 748.5 132.9 745.5 137.5 743.1 142.9 740.5 141.9 740.8 139.1 741.9 135.2 743.5 131.4 745.1 128.5 746.2Z" fill="url(#d04)"/>
<path d="M115.3 751.5 118.3 750.3 121.1 749.2 123.4 748.3 128.9 746.1 131.7 744.9 134.7 743.7 131.7 744.9 128.9 746.1 125.0 747.6 121.1 749.2 118.3 750.3Z" fill="url(#d13)"/>
<path d="M374.0 807.0 377.3 805.0 380.4 803.1 384.6 800.4 388.9 797.7 392.0 795.6 395.2 793.5 392.0 795.6 387.6 798.5 381.4 802.2 379.1 803.9 377.3 805.0Z" fill="url(#d22)"/>
<path d="M359.2 815.5 365.1 812.4 369.2 810.0 373.4 807.4 377.7 804.8 379.8 803.4 380.6 802.7 374.6 805.7 369.4 808.2 362.9 811.1 360.9 813.2 359.8 814.5Z" fill="url(#d33)"/>
<path d="M340.6 823.6 346.9 821.3 352.1 819.1 358.4 815.9 360.6 814.2 361.7 812.9 362.1 811.5 355.7 813.6 350.3 815.4 343.5 817.5 341.7 820.1 340.9 821.9Z" fill="url(#d43)"/>
<path d="M321.2 829.2 327.8 827.8 333.2 826.3 339.8 823.9 341.7 821.7 342.5 819.9 342.6 817.8 336.0 819.0 330.4 820.0 323.5 821.4 321.9 824.5 321.3 826.8Z" fill="url(#d54)"/>
<path d="M301.3 832.3 308.0 831.9 313.6 831.0 320.4 829.4 322.1 826.7 322.7 824.4 322.6 821.6 315.9 821.9 310.2 822.3 303.3 822.9 301.8 826.5 301.2 829.2Z" fill="url(#d05)"/>
<path d="M281.2 833.1 287.9 833.6 293.5 833.3 300.4 832.5 302.0 829.2 302.6 826.5 302.4 823.0 295.6 822.4 290.0 822.2 283.1 822.1 281.6 826.1 281.1 829.4Z" fill="url(#d15)"/>
<path d="M261.3 831.7 267.9 833.0 273.5 833.3 280.3 833.2 281.8 829.5 282.4 826.2 282.2 822.1 275.6 820.7 270.1 819.9 263.4 819.3 261.8 823.7 261.2 827.4Z" fill="url(#d26)"/>
<path d="M241.7 828.3 248.2 830.3 253.6 831.2 260.3 831.7 261.9 827.5 262.5 823.9 262.4 819.1 256.0 817.1 250.7 815.8 244.3 814.6 242.5 819.4 241.8 823.4Z" fill="url(#d36)"/>
<path d="M222.9 823.2 229.0 825.8 234.2 827.2 240.8 828.2 242.5 823.6 243.2 819.6 243.4 814.4 237.3 811.8 232.3 810.0 226.1 808.5 224.2 813.5 223.2 817.8Z" fill="url(#d46)"/>
<path d="M205.0 816.7 210.7 819.7 215.7 821.5 222.0 823.0 223.8 818.1 224.8 813.8 225.2 808.1 219.6 805.1 214.9 803.1 209.1 801.2 206.9 806.4 205.6 811.0Z" fill="url(#d57)"/>
<path d="M188.2 809.1 193.5 812.4 198.2 814.6 204.1 816.4 206.2 811.2 207.4 806.7 208.3 800.8 203.1 797.4 198.8 795.2 193.4 793.1 190.8 798.5 189.3 803.1Z" fill="url(#d07)"/>
<path d="M172.8 800.8 177.6 804.4 181.8 806.7 187.4 808.7 189.8 803.4 191.4 798.8 192.7 792.7 188.0 789.2 184.1 786.9 179.2 784.8 176.3 790.1 174.4 794.8Z" fill="url(#d17)"/>
<path d="M158.8 792.3 163.0 795.9 166.9 798.2 172.0 800.4 174.8 795.0 176.7 790.4 178.6 784.3 174.5 780.8 171.0 778.5 166.6 776.4 163.2 781.7 160.9 786.3Z" fill="url(#d27)"/>
<path d="M146.4 783.8 150.0 787.3 153.5 789.6 158.1 791.8 161.3 786.5 163.6 781.9 166.0 776.0 162.6 772.6 159.5 770.4 155.6 768.6 151.8 773.6 149.1 778.0Z" fill="url(#d37)"/>
<path d="M135.5 775.9 138.6 779.1 141.6 781.3 145.8 783.4 149.4 778.2 152.1 773.8 155.1 768.1 152.2 765.0 149.6 763.1 146.2 761.6 141.9 766.2 138.8 770.4Z" fill="url(#d46)"/>
<path d="M126.3 768.9 128.7 771.7 131.3 773.7 135.0 775.5 139.1 770.6 142.2 766.4 145.8 761.2 143.5 758.5 141.3 756.9 138.3 755.8 133.6 760.0 130.1 763.9Z" fill="url(#d56)"/>
<path d="M118.5 763.1 120.4 765.4 122.6 767.0 125.9 768.5 130.4 764.0 133.9 760.1 138.0 755.4 136.3 753.3 134.5 752.2 131.9 751.5 126.8 755.3 122.9 758.7Z" fill="url(#d05)"/>
<path d="M112.2 758.9 113.6 760.6 115.4 761.8 118.2 762.8 123.1 758.7 127.0 755.3 131.7 751.3 130.4 749.8 129.0 749.2 126.8 749.0 121.3 752.3 117.0 755.1Z" fill="url(#d15)"/>
<path d="M107.1 756.6 108.1 757.5 109.5 758.2 112.0 758.7 117.3 755.2 121.5 752.3 126.6 748.9 125.8 748.2 124.7 748.2 122.8 748.6 117.0 751.2 112.4 753.5Z" fill="url(#d24)"/>
<path d="M103.1 756.2 103.7 756.4 104.8 756.5 107.0 756.4 112.6 753.5 117.2 751.2 122.7 748.6 121.5 749.0 118.6 750.1 114.7 751.7 110.8 753.2 108.0 754.3Z" fill="url(#d34)"/>
<path d="M94.6 759.4 97.6 758.3 100.5 757.2 103.0 756.3 108.3 754.2 111.2 753.1 114.2 751.9 111.2 753.1 108.3 754.2 104.4 755.7 100.5 757.2 97.6 758.3Z" fill="url(#d43)"/>
<path d="M351.6 820.2 354.9 818.3 358.0 816.6 362.2 814.1 366.5 811.6 369.6 809.7 372.9 807.7 369.6 809.7 365.4 812.2 359.1 815.7 356.9 817.2 354.9 818.3Z" fill="url(#d52)"/>
<path d="M336.9 828.0 342.8 825.0 346.7 822.9 351.0 820.5 355.2 818.1 357.6 816.8 358.3 816.1 352.3 818.9 347.1 821.1 340.6 823.8 338.6 825.8 337.5 827.0Z" fill="url(#d03)"/>
<path d="M318.3 835.4 324.6 833.3 329.8 831.3 336.1 828.4 338.3 826.7 339.4 825.5 339.7 824.2 333.4 826.1 328.0 827.6 321.2 829.5 319.4 832.0 318.6 833.8Z" fill="url(#d13)"/>
<path d="M299.0 840.4 305.4 839.2 310.8 837.9 317.5 835.7 319.4 833.6 320.2 831.9 320.3 829.8 313.7 830.8 308.2 831.6 301.3 832.8 299.7 835.8 299.0 838.0Z" fill="url(#d24)"/>
<path d="M279.1 843.0 285.8 842.7 291.3 842.0 298.1 840.6 299.8 838.0 300.5 835.7 300.4 832.9 293.7 833.0 288.1 833.3 281.2 833.7 279.7 837.2 279.1 839.9Z" fill="url(#d34)"/>
<path d="M259.2 843.3 265.8 843.9 271.4 843.8 278.2 843.1 279.8 840.0 280.4 837.2 280.3 833.7 273.6 833.0 268.0 832.6 261.2 832.4 259.7 836.4 259.1 839.6Z" fill="url(#d45)"/>
<path d="M239.3 841.5 245.9 842.8 251.4 843.4 258.2 843.3 259.8 839.7 260.4 836.5 260.3 832.3 253.7 830.8 248.3 829.9 241.6 829.1 240.0 833.5 239.3 837.1Z" fill="url(#d55)"/>
<path d="M220.0 837.7 226.3 839.8 231.7 840.8 238.4 841.4 240.0 837.3 240.7 833.6 240.7 828.9 234.4 826.7 229.1 825.3 222.7 824.0 220.9 828.8 220.1 832.8Z" fill="url(#d06)"/>
<path d="M201.3 832.2 207.3 834.9 212.5 836.4 219.0 837.5 220.8 833.0 221.6 829.0 221.8 823.7 215.8 821.0 210.9 819.2 204.8 817.5 202.7 822.5 201.7 826.8Z" fill="url(#d16)"/>
<path d="M183.5 825.4 189.2 828.5 194.1 830.4 200.4 832.0 202.3 827.1 203.3 822.8 203.9 817.2 198.3 814.0 193.7 811.9 187.9 809.9 185.6 815.2 184.3 819.7Z" fill="url(#d26)"/>
<path d="M166.9 817.6 172.2 821.0 176.8 823.2 182.7 825.1 184.9 820.0 186.2 815.4 187.1 809.5 182.0 806.1 177.7 803.8 172.4 801.7 169.8 807.0 168.1 811.6Z" fill="url(#d37)"/>
<path d="M151.7 809.1 156.4 812.7 160.6 815.0 166.1 817.1 168.7 811.9 170.3 807.2 171.7 801.2 167.1 797.6 163.3 795.2 158.4 793.1 155.3 798.4 153.4 803.0Z" fill="url(#d47)"/>
<path d="M137.8 800.3 142.0 804.0 145.8 806.4 150.9 808.6 153.8 803.3 155.8 798.6 157.7 792.6 153.7 789.0 150.3 786.7 145.9 784.6 142.4 789.8 140.1 794.4Z" fill="url(#d57)"/>
<path d="M125.5 791.8 129.1 795.3 132.5 797.7 137.2 799.9 140.5 794.6 142.8 790.0 145.3 784.1 141.9 780.7 138.9 778.5 135.0 776.6 131.1 781.6 128.3 786.0Z" fill="url(#d06)"/>
<path d="M114.8 783.7 117.8 787.0 120.8 789.2 125.0 791.3 128.7 786.2 131.5 781.8 134.5 776.2 131.7 773.1 129.1 771.1 125.7 769.5 121.3 774.2 118.1 778.3Z" fill="url(#d16)"/>
<path d="M105.6 776.7 108.0 779.5 110.6 781.5 114.3 783.3 118.5 778.5 121.6 774.3 125.3 769.1 123.0 766.5 120.9 764.9 117.9 763.7 113.1 767.9 109.5 771.7Z" fill="url(#d26)"/>
<path d="M97.9 770.9 99.8 773.2 101.9 774.8 105.2 776.3 109.8 771.8 113.4 768.0 117.6 763.4 115.9 761.3 114.1 760.1 111.5 759.4 106.3 763.1 102.3 766.5Z" fill="url(#d35)"/>
<path d="M91.6 766.7 93.0 768.3 94.7 769.5 97.6 770.5 102.6 766.5 106.6 763.2 111.3 759.2 110.1 757.7 108.6 757.1 106.4 757.0 100.8 760.1 96.5 762.9Z" fill="url(#d45)"/>
<path d="M86.5 764.3 87.5 765.3 88.9 765.9 91.4 766.4 96.7 763.0 101.1 760.1 106.2 756.8 105.4 756.2 104.3 756.1 102.3 756.6 96.5 759.1 91.9 761.3Z" fill="url(#d54)"/>
<path d="M82.5 764.0 83.1 764.2 84.2 764.3 86.4 764.2 92.1 761.3 96.7 759.1 102.2 756.6 100.9 757.0 98.0 758.1 94.1 759.6 90.1 761.1 87.2 762.2Z" fill="url(#d04)"/>
<path d="M73.7 767.2 76.8 766.1 79.7 765.0 82.4 764.0 87.6 762.1 90.5 761.0 93.5 759.8 90.5 761.0 87.6 762.1 83.7 763.5 79.7 765.0 76.8 766.1Z" fill="url(#d13)"/>
<path d="M329.1 832.4 332.4 830.7 335.5 829.0 339.8 826.7 344.0 824.4 347.1 822.7 350.4 820.8 347.1 822.7 343.1 824.9 336.8 828.1 334.6 829.5 332.4 830.7Z" fill="url(#d22)"/>
<path d="M314.6 839.5 320.6 836.8 324.3 834.9 328.5 832.7 332.8 830.5 335.3 829.1 336.0 828.5 330.0 831.1 324.8 833.2 318.3 835.6 316.3 837.5 315.2 838.7Z" fill="url(#d33)"/>
<path d="M296.0 846.4 302.3 844.6 307.4 842.6 313.8 839.9 316.0 838.4 317.0 837.3 317.4 835.9 311.1 837.7 305.7 839.0 298.9 840.8 297.1 843.2 296.3 844.8Z" fill="url(#d43)"/>
<path d="M276.7 851.0 283.1 850.0 288.5 848.7 295.2 846.7 297.1 844.7 297.9 843.0 298.0 841.0 291.5 841.8 285.9 842.5 279.1 843.5 277.4 846.4 276.7 848.6Z" fill="url(#d54)"/>
<path d="M256.9 853.1 263.5 853.0 269.0 852.4 275.8 851.1 277.5 848.6 278.2 846.4 278.2 843.6 271.5 843.5 266.0 843.6 259.1 843.9 257.5 847.3 256.9 850.1Z" fill="url(#d04)"/>
<path d="M237.1 853.0 243.7 853.7 249.2 853.8 256.0 853.2 257.7 850.1 258.3 847.4 258.2 843.9 251.6 843.0 246.0 842.5 239.3 842.1 237.7 846.1 237.0 849.3Z" fill="url(#d15)"/>
<path d="M217.4 850.8 223.9 852.3 229.4 852.9 236.1 853.0 237.8 849.4 238.4 846.2 238.3 842.1 231.8 840.4 226.4 839.3 219.9 838.4 218.1 842.8 217.4 846.4Z" fill="url(#d25)"/>
<path d="M198.1 846.7 204.4 848.8 209.8 850.0 216.5 850.7 218.1 846.6 218.8 843.0 218.9 838.2 212.7 836.0 207.5 834.4 201.1 833.0 199.2 837.7 198.4 841.7Z" fill="url(#d36)"/>
<path d="M179.6 840.9 185.6 843.6 190.8 845.3 197.2 846.5 199.0 842.0 199.9 838.0 200.2 832.7 194.3 829.9 189.4 828.0 183.3 826.2 181.2 831.2 180.1 835.5Z" fill="url(#d46)"/>
<path d="M162.0 833.8 167.6 837.0 172.5 839.0 178.7 840.6 180.7 835.8 181.8 831.5 182.5 825.9 176.9 822.6 172.3 820.4 166.7 818.4 164.2 823.6 162.9 828.1Z" fill="url(#d56)"/>
<path d="M145.6 825.8 150.8 829.3 155.3 831.5 161.2 833.5 163.5 828.4 164.8 823.9 165.9 818.0 160.8 814.5 156.6 812.1 151.3 809.9 148.6 815.2 146.9 819.8Z" fill="url(#d06)"/>
<path d="M130.4 817.1 135.1 820.7 139.3 823.2 144.8 825.3 147.4 820.1 149.1 815.5 150.6 809.4 146.1 805.8 142.3 803.4 137.4 801.1 134.3 806.4 132.2 811.1Z" fill="url(#d16)"/>
<path d="M116.7 808.2 120.9 811.9 124.7 814.3 129.7 816.6 132.7 811.3 134.7 806.7 136.8 800.7 132.8 797.0 129.4 794.7 125.1 792.5 121.5 797.7 119.0 802.2Z" fill="url(#d26)"/>
<path d="M104.6 799.5 108.1 803.1 111.5 805.5 116.1 807.7 119.5 802.5 121.9 797.9 124.5 792.1 121.1 788.6 118.2 786.4 114.3 784.5 110.3 789.4 107.4 793.8Z" fill="url(#d36)"/>
<path d="M93.9 791.4 96.9 794.7 99.8 796.9 104.0 799.0 107.8 794.0 110.6 789.6 113.8 784.0 111.0 780.9 108.5 778.9 105.0 777.3 100.6 781.9 97.3 786.0Z" fill="url(#d46)"/>
<path d="M84.8 784.3 87.2 787.1 89.7 789.1 93.4 791.0 97.6 786.2 100.9 782.1 104.6 776.9 102.4 774.2 100.3 772.7 97.3 771.4 92.4 775.6 88.8 779.3Z" fill="url(#d56)"/>
<path d="M77.1 778.4 79.0 780.8 81.1 782.4 84.4 783.9 89.0 779.5 92.7 775.7 96.9 771.1 95.3 769.0 93.5 767.9 90.9 767.1 85.7 770.8 81.6 774.1Z" fill="url(#d05)"/>
<path d="M70.9 774.2 72.2 775.9 74.0 777.1 76.8 778.1 81.9 774.2 85.9 770.9 90.7 766.9 89.5 765.5 88.1 764.9 85.8 764.7 80.2 767.8 75.8 770.6Z" fill="url(#d15)"/>
<path d="M65.8 771.9 66.7 772.8 68.1 773.5 70.6 774.0 76.0 770.6 80.4 767.8 85.6 764.6 84.8 763.9 83.7 763.9 81.7 764.3 75.8 766.8 71.2 769.0Z" fill="url(#d24)"/>
<path d="M61.7 771.6 62.3 771.8 63.4 771.9 65.6 771.8 71.4 769.0 76.0 766.8 81.6 764.3 80.1 764.9 77.2 766.0 73.2 767.4 69.2 768.9 66.3 769.9Z" fill="url(#d33)"/>
<path d="M52.7 774.8 55.8 773.7 58.7 772.7 61.6 771.6 66.7 769.8 69.6 768.7 72.7 767.6 69.6 768.7 66.7 769.8 62.7 771.2 58.7 772.7 55.8 773.7Z" fill="url(#d43)"/>
<path d="M306.6 843.8 309.9 842.1 313.0 840.6 317.3 838.5 321.5 836.3 324.6 834.7 328.0 833.0 324.6 834.7 320.8 836.6 314.5 839.7 312.3 840.9 309.9 842.1Z" fill="url(#d52)"/>
<path d="M292.3 850.4 298.3 847.8 301.8 846.1 306.0 844.0 310.3 841.9 313.0 840.6 313.7 840.0 307.7 842.5 302.5 844.4 295.9 846.7 294.0 848.5 292.9 849.6Z" fill="url(#d02)"/>
<path d="M273.7 856.8 279.9 855.1 285.1 853.3 291.5 850.7 293.7 849.3 294.7 848.2 295.1 847.0 288.7 848.5 283.3 849.8 276.6 851.3 274.8 853.7 274.0 855.3Z" fill="url(#d13)"/>
<path d="M254.4 860.9 260.9 860.1 266.2 858.9 272.8 857.1 274.8 855.1 275.6 853.5 275.7 851.5 269.2 852.2 263.7 852.8 256.9 853.6 255.2 856.5 254.5 858.6Z" fill="url(#d24)"/>
<path d="M234.7 862.7 241.3 862.7 246.8 862.2 253.5 861.1 255.3 858.6 256.0 856.4 256.0 853.7 249.4 853.5 243.8 853.4 237.0 853.6 235.4 857.0 234.7 859.7Z" fill="url(#d34)"/>
<path d="M215.0 862.3 221.5 863.1 227.0 863.2 233.8 862.8 235.5 859.7 236.1 857.1 236.1 853.6 229.5 852.6 224.0 851.9 217.3 851.5 215.6 855.4 215.0 858.5Z" fill="url(#d45)"/>
<path d="M195.4 859.7 201.9 861.3 207.3 862.0 214.0 862.2 215.7 858.7 216.4 855.5 216.4 851.3 209.9 849.6 204.6 848.4 198.0 847.4 196.3 851.7 195.5 855.4Z" fill="url(#d55)"/>
<path d="M176.3 855.3 182.5 857.6 187.9 858.8 194.5 859.6 196.2 855.5 197.0 851.9 197.1 847.2 190.9 844.8 185.8 843.2 179.4 841.7 177.5 846.4 176.6 850.4Z" fill="url(#d06)"/>
<path d="M157.9 849.3 163.8 852.1 169.0 853.8 175.4 855.1 177.2 850.6 178.2 846.6 178.6 841.4 172.7 838.5 167.8 836.5 161.8 834.6 159.6 839.6 158.5 843.9Z" fill="url(#d16)"/>
<path d="M140.4 842.0 146.0 845.2 150.9 847.3 157.0 849.0 159.1 844.2 160.2 839.9 161.0 834.3 155.5 831.0 150.9 828.7 145.3 826.6 142.8 831.8 141.4 836.3Z" fill="url(#d26)"/>
<path d="M124.1 833.7 129.3 837.3 133.8 839.6 139.6 841.6 141.9 836.6 143.4 832.0 144.5 826.2 139.5 822.6 135.3 820.2 130.1 817.9 127.3 823.2 125.5 827.8Z" fill="url(#d36)"/>
<path d="M109.1 824.9 113.7 828.6 117.9 831.1 123.3 833.3 126.0 828.1 127.8 823.5 129.4 817.4 124.9 813.7 121.1 811.3 116.3 809.0 113.1 814.2 111.0 818.9Z" fill="url(#d46)"/>
<path d="M95.5 815.9 99.6 819.6 103.4 822.1 108.4 824.4 111.4 819.2 113.5 814.5 115.7 808.5 111.8 804.9 108.4 802.5 104.1 800.3 100.4 805.4 97.9 809.9Z" fill="url(#d56)"/>
<path d="M83.4 807.1 86.9 810.7 90.3 813.1 94.9 815.4 98.3 810.2 100.8 805.6 103.5 799.8 100.2 796.3 97.2 794.1 93.4 792.1 89.3 797.0 86.4 801.4Z" fill="url(#d06)"/>
<path d="M72.9 798.9 75.8 802.2 78.7 804.5 82.9 806.6 86.7 801.6 89.6 797.2 92.9 791.7 90.1 788.5 87.6 786.6 84.2 784.9 79.7 789.5 76.4 793.5Z" fill="url(#d16)"/>
<path d="M63.8 791.7 66.2 794.6 68.7 796.6 72.4 798.5 76.7 793.7 80.0 789.6 83.8 784.5 81.6 781.8 79.5 780.2 76.5 779.0 71.6 783.1 67.8 786.8Z" fill="url(#d25)"/>
<path d="M56.2 785.9 58.1 788.2 60.2 789.8 63.4 791.3 68.1 787.0 71.8 783.2 76.2 778.7 74.5 776.6 72.8 775.4 70.1 774.7 64.8 778.3 60.8 781.6Z" fill="url(#d35)"/>
<path d="M50.0 781.7 51.3 783.3 53.1 784.5 55.9 785.5 61.0 781.6 65.1 778.4 69.9 774.5 68.7 773.1 67.3 772.5 65.0 772.3 59.4 775.3 55.0 778.0Z" fill="url(#d45)"/>
<path d="M44.9 779.3 45.8 780.3 47.2 780.9 49.7 781.4 55.2 778.1 59.6 775.3 64.9 772.2 64.1 771.5 63.0 771.5 61.0 771.9 55.0 774.4 50.3 776.5Z" fill="url(#d54)"/>
<path d="M40.8 779.1 41.4 779.2 42.5 779.3 44.7 779.2 50.5 776.5 55.2 774.3 60.9 771.9 59.1 772.5 56.2 773.6 52.2 775.0 48.2 776.5 45.3 777.5Z" fill="url(#d03)"/>
<path d="M31.6 782.3 34.7 781.2 37.6 780.2 40.7 779.1 45.6 777.4 48.6 776.3 51.7 775.2 48.6 776.3 45.6 777.4 41.7 778.8 37.6 780.2 34.7 781.2Z" fill="url(#d13)"/>
<path d="M284.1 854.4 287.4 852.9 290.5 851.4 294.8 849.4 299.0 847.4 302.2 845.9 305.5 844.3 302.2 845.9 298.5 847.6 292.2 850.5 290.0 851.7 287.4 852.9Z" fill="url(#d22)"/>
<path d="M270.1 860.6 276.0 858.1 279.3 856.6 283.5 854.7 287.8 852.7 290.7 851.3 291.4 850.8 285.4 853.1 280.2 854.9 273.6 857.1 271.7 858.8 270.6 859.8Z" fill="url(#d32)"/>
<path d="M251.4 866.7 257.6 865.1 262.8 863.4 269.2 860.9 271.4 859.6 272.4 858.6 272.8 857.3 266.4 858.8 261.1 859.9 254.4 861.3 252.6 863.6 251.7 865.2Z" fill="url(#d43)"/>
<path d="M232.1 870.4 238.6 869.7 244.0 868.6 250.6 866.9 252.5 865.0 253.3 863.5 253.5 861.5 247.0 862.0 241.5 862.5 234.7 863.2 233.0 866.0 232.3 868.2Z" fill="url(#d53)"/>
<path d="M212.5 871.9 219.1 872.0 224.5 871.6 231.3 870.6 233.0 868.1 233.8 866.0 233.8 863.3 227.2 862.9 221.7 862.8 214.9 862.8 213.3 866.2 212.6 868.9Z" fill="url(#d04)"/>
<path d="M192.9 871.1 199.4 872.1 204.9 872.3 211.6 872.0 213.3 868.9 214.0 866.3 214.0 862.8 207.4 861.7 202.0 861.0 195.3 860.4 193.6 864.3 192.9 867.4Z" fill="url(#d14)"/>
<path d="M173.4 868.3 179.8 870.0 185.2 870.8 191.9 871.1 193.6 867.5 194.3 864.4 194.4 860.3 188.0 858.4 182.7 857.2 176.2 856.0 174.4 860.4 173.5 864.0Z" fill="url(#d25)"/>
<path d="M154.4 863.7 160.6 866.0 165.9 867.3 172.5 868.2 174.2 864.2 175.0 860.6 175.3 855.8 169.1 853.3 164.0 851.7 157.7 850.1 155.7 854.8 154.7 858.7Z" fill="url(#d35)"/>
<path d="M136.1 857.4 142.0 860.3 147.1 862.1 153.5 863.4 155.4 859.0 156.4 855.0 156.8 849.8 151.0 846.8 146.2 844.7 140.2 842.8 138.0 847.8 136.8 852.0Z" fill="url(#d46)"/>
<path d="M118.8 849.9 124.3 853.2 129.1 855.3 135.3 857.1 137.4 852.3 138.6 848.0 139.4 842.4 134.0 839.0 129.4 836.7 123.8 834.6 121.3 839.7 119.8 844.2Z" fill="url(#d56)"/>
<path d="M102.6 841.5 107.7 845.1 112.2 847.4 118.0 849.5 120.4 844.5 121.8 840.0 123.1 834.1 118.1 830.5 114.0 828.0 108.8 825.7 105.8 831.0 104.0 835.6Z" fill="url(#d06)"/>
<path d="M87.7 832.5 92.3 836.3 96.4 838.8 101.8 841.1 104.6 835.9 106.4 831.2 108.0 825.2 103.6 821.5 99.9 819.0 95.1 816.7 91.8 821.9 89.6 826.5Z" fill="url(#d16)"/>
<path d="M74.2 823.4 78.2 827.1 82.0 829.7 87.0 832.0 90.1 826.8 92.3 822.2 94.5 816.2 90.6 812.5 87.3 810.1 82.9 807.8 79.2 812.9 76.7 817.5Z" fill="url(#d26)"/>
<path d="M62.2 814.5 65.7 818.1 69.0 820.6 73.6 822.9 77.1 817.7 79.6 813.2 82.4 807.4 79.1 803.9 76.2 801.6 72.3 799.6 68.2 804.5 65.2 808.8Z" fill="url(#d36)"/>
<path d="M51.7 806.3 54.6 809.6 57.5 811.9 61.6 814.0 65.6 809.0 68.5 804.7 71.8 799.2 69.1 796.0 66.6 794.0 63.2 792.4 58.6 796.9 55.3 800.9Z" fill="url(#d46)"/>
<path d="M42.7 799.0 45.1 801.9 47.6 803.9 51.2 805.8 55.6 801.1 58.9 797.0 62.8 792.0 60.6 789.3 58.5 787.7 55.5 786.4 50.6 790.5 46.8 794.2Z" fill="url(#d55)"/>
<path d="M35.2 793.2 37.0 795.5 39.1 797.1 42.3 798.6 47.1 794.3 50.8 790.6 55.2 786.1 53.6 784.0 51.9 782.9 49.2 782.1 43.9 785.7 39.8 788.9Z" fill="url(#d05)"/>
<path d="M28.9 788.9 30.3 790.6 32.0 791.8 34.9 792.8 40.0 789.0 44.1 785.8 49.0 781.9 47.8 780.5 46.4 779.9 44.1 779.7 38.4 782.7 34.0 785.4Z" fill="url(#d14)"/>
<path d="M23.9 786.6 24.8 787.6 26.2 788.2 28.7 788.7 34.2 785.4 38.7 782.7 44.0 779.6 43.2 779.0 42.1 778.9 40.0 779.4 34.1 781.8 29.3 783.8Z" fill="url(#d24)"/>
<path d="M19.8 786.4 20.4 786.5 21.5 786.6 23.7 786.5 29.5 783.8 34.3 781.7 39.9 779.4 38.0 780.1 35.1 781.1 31.1 782.5 27.1 783.9 24.1 784.9Z" fill="url(#d33)"/>
<path d="M10.4 789.7 13.5 788.6 16.4 787.6 19.7 786.5 24.5 784.8 27.4 783.8 30.5 782.7 27.4 783.8 24.5 784.8 20.5 786.2 16.4 787.6 13.5 788.6Z" fill="url(#d43)"/>
<path d="M261.6 864.5 264.9 863.0 268.0 861.7 272.3 859.8 276.6 857.9 279.7 856.4 283.0 854.9 279.7 856.4 276.2 858.0 269.9 860.7 267.7 861.8 264.9 863.0Z" fill="url(#d52)"/>
<path d="M247.8 870.3 253.7 867.9 256.8 866.6 261.1 864.7 265.3 862.9 268.4 861.5 269.1 861.0 263.1 863.2 257.9 864.9 251.3 866.9 249.4 868.6 248.3 869.6Z" fill="url(#d02)"/>
<path d="M229.1 876.1 235.4 874.5 240.6 872.9 246.9 870.6 249.1 869.3 250.1 868.4 250.5 867.2 244.2 868.5 238.8 869.5 232.1 870.8 230.3 873.0 229.4 874.6Z" fill="url(#d13)"/>
<path d="M209.9 879.5 216.3 878.9 221.7 877.9 228.3 876.3 230.2 874.5 231.0 872.9 231.2 871.0 224.7 871.4 219.2 871.8 212.5 872.4 210.8 875.2 210.0 877.3Z" fill="url(#d23)"/>
<path d="M190.4 880.7 196.9 880.9 202.3 880.6 209.0 879.7 210.8 877.2 211.5 875.2 211.6 872.4 205.0 872.0 199.5 871.8 192.8 871.7 191.1 875.0 190.4 877.7Z" fill="url(#d34)"/>
<path d="M170.8 879.7 177.3 880.7 182.7 881.0 189.4 880.7 191.2 877.8 191.9 875.1 191.9 871.7 185.4 870.5 180.0 869.7 173.3 869.0 171.6 872.8 170.8 876.0Z" fill="url(#d44)"/>
<path d="M151.4 876.6 157.8 878.4 163.2 879.2 169.8 879.6 171.6 876.1 172.3 873.0 172.4 868.8 166.0 866.9 160.8 865.6 154.3 864.4 152.4 868.7 151.6 872.3Z" fill="url(#d55)"/>
<path d="M132.5 871.8 138.7 874.2 143.9 875.5 150.5 876.5 152.3 872.5 153.1 868.9 153.4 864.2 147.3 861.6 142.2 859.9 136.0 858.2 133.9 862.9 132.9 866.8Z" fill="url(#d05)"/>
<path d="M114.3 865.3 120.2 868.3 125.2 870.1 131.6 871.5 133.5 867.1 134.5 863.1 135.1 857.9 129.3 854.8 124.5 852.7 118.6 850.7 116.3 855.7 115.0 859.9Z" fill="url(#d16)"/>
<path d="M97.1 857.7 102.6 861.0 107.4 863.2 113.5 865.0 115.6 860.2 116.9 856.0 117.7 850.3 112.4 846.9 107.9 844.5 102.3 842.3 99.7 847.4 98.2 851.9Z" fill="url(#d26)"/>
<path d="M81.0 849.1 86.0 852.7 90.5 855.1 96.3 857.3 98.7 852.2 100.2 847.7 101.5 841.9 96.6 838.2 92.5 835.7 87.3 833.3 84.4 838.6 82.5 843.1Z" fill="url(#d36)"/>
<path d="M66.2 840.0 70.7 843.8 74.9 846.3 80.2 848.6 83.0 843.5 84.9 838.9 86.6 832.9 82.2 829.1 78.5 826.5 73.8 824.2 70.4 829.4 68.2 834.0Z" fill="url(#d46)"/>
<path d="M52.8 830.7 56.8 834.5 60.5 837.1 65.5 839.5 68.7 834.3 70.9 829.7 73.1 823.7 69.3 820.0 66.0 817.5 61.7 815.3 57.9 820.3 55.3 824.8Z" fill="url(#d56)"/>
<path d="M40.9 821.8 44.3 825.4 47.6 827.9 52.2 830.2 55.7 825.1 58.3 820.6 61.1 814.8 57.9 811.3 55.0 809.0 51.2 807.0 47.0 811.8 43.9 816.1Z" fill="url(#d06)"/>
<path d="M30.5 813.5 33.3 816.8 36.2 819.1 40.3 821.3 44.3 816.3 47.3 812.0 50.7 806.5 48.0 803.3 45.5 801.4 42.1 799.7 37.5 804.1 34.1 808.2Z" fill="url(#d16)"/>
<path d="M21.5 806.2 23.8 809.1 26.3 811.1 30.0 813.0 34.4 808.4 37.8 804.3 41.7 799.3 39.6 796.6 37.5 795.0 34.5 793.7 29.5 797.8 25.7 801.4Z" fill="url(#d25)"/>
<path d="M14.0 800.3 15.8 802.6 17.9 804.3 21.1 805.8 25.9 801.5 29.7 797.9 34.2 793.4 32.5 791.3 30.8 790.2 28.2 789.4 22.8 792.9 18.6 796.1Z" fill="url(#d35)"/>
<path d="M7.8 796.1 9.1 797.8 10.9 798.9 13.7 800.0 18.9 796.2 23.0 793.0 28.0 789.2 26.8 787.8 25.4 787.2 23.1 787.0 17.4 790.0 12.9 792.6Z" fill="url(#d44)"/>
<path d="M2.7 793.8 3.7 794.7 5.1 795.4 7.6 795.9 13.1 792.6 17.6 790.0 22.9 786.9 22.2 786.3 21.0 786.3 19.0 786.7 13.0 789.0 8.2 791.1Z" fill="url(#d54)"/>
<path d="M-1.3 793.6 -0.8 793.7 0.4 793.8 2.6 793.7 8.4 791.0 13.2 789.0 18.9 786.7 16.8 787.4 13.9 788.5 9.8 789.8 5.8 791.2 2.8 792.2Z" fill="url(#d03)"/>
<path d="M-11.0 796.9 -7.8 795.8 -4.9 794.8 -1.4 793.7 3.2 792.1 6.2 791.1 9.3 790.0 6.2 791.1 3.2 792.1 -0.8 793.5 -4.9 794.8 -7.8 795.8Z" fill="url(#d12)"/>
<path d="M239.2 874.1 242.5 872.7 245.6 871.4 249.8 869.6 254.1 867.8 257.2 866.4 260.5 865.0 257.2 866.4 254.0 867.8 247.7 870.4 245.5 871.4 242.5 872.7Z" fill="url(#d21)"/>
<path d="M225.5 879.5 231.2 877.3 234.3 876.0 238.6 874.3 242.8 872.5 246.0 871.2 246.8 870.7 240.8 872.8 235.6 874.4 229.1 876.3 227.1 877.9 226.0 878.9Z" fill="url(#d32)"/>
<path d="M206.9 885.0 213.1 883.6 218.3 882.1 224.7 879.8 226.8 878.6 227.8 877.7 228.2 876.5 221.9 877.7 216.5 878.7 209.8 879.9 208.0 882.1 207.2 883.6Z" fill="url(#d43)"/>
<path d="M187.7 888.3 194.1 887.7 199.4 886.8 206.0 885.3 207.9 883.5 208.8 882.0 209.0 880.0 202.5 880.4 197.0 880.7 190.3 881.2 188.6 883.9 187.8 886.0Z" fill="url(#d53)"/>
<path d="M168.2 889.2 174.7 889.5 180.1 889.2 186.8 888.4 188.6 886.0 189.3 883.9 189.4 881.2 182.9 880.7 177.4 880.4 170.7 880.3 169.0 883.6 168.3 886.2Z" fill="url(#d04)"/>
<path d="M148.7 888.0 155.1 889.0 160.6 889.4 167.3 889.2 169.0 886.3 169.7 883.7 169.8 880.2 163.3 878.9 157.9 878.0 151.3 877.3 149.5 881.1 148.8 884.2Z" fill="url(#d14)"/>
<path d="M129.4 884.7 135.7 886.5 141.1 887.4 147.7 887.9 149.5 884.4 150.2 881.3 150.4 877.1 144.1 875.1 138.8 873.8 132.4 872.5 130.5 876.8 129.6 880.3Z" fill="url(#d25)"/>
<path d="M110.6 879.6 116.7 882.1 121.9 883.5 128.5 884.5 130.3 880.5 131.1 877.0 131.5 872.2 125.4 869.6 120.3 867.8 114.1 866.1 112.0 870.7 111.0 874.7Z" fill="url(#d35)"/>
<path d="M92.5 873.0 98.3 876.0 103.3 877.9 109.7 879.4 111.6 875.0 112.7 871.0 113.3 865.8 107.5 862.7 102.8 860.5 96.9 858.5 94.5 863.4 93.2 867.7Z" fill="url(#d45)"/>
<path d="M75.4 865.2 80.8 868.6 85.6 870.8 91.6 872.7 93.8 867.9 95.1 863.7 96.0 858.1 90.7 854.6 86.2 852.2 80.7 849.9 78.0 855.0 76.5 859.5Z" fill="url(#d56)"/>
<path d="M59.4 856.5 64.4 860.2 68.8 862.6 74.5 864.8 77.0 859.8 78.6 855.3 79.9 849.4 75.1 845.7 71.0 843.2 65.8 840.8 62.8 846.0 60.9 850.6Z" fill="url(#d06)"/>
<path d="M44.6 847.3 49.1 851.1 53.2 853.7 58.6 856.0 61.4 850.9 63.3 846.3 65.1 840.3 60.8 836.5 57.1 833.9 52.4 831.5 49.0 836.7 46.7 841.3Z" fill="url(#d16)"/>
<path d="M31.3 838.0 35.3 841.8 39.0 844.3 43.9 846.8 47.1 841.6 49.4 837.0 51.7 831.0 47.9 827.3 44.7 824.8 40.4 822.5 36.5 827.6 33.9 832.1Z" fill="url(#d26)"/>
<path d="M19.5 828.9 22.9 832.6 26.2 835.1 30.7 837.5 34.3 832.3 36.9 827.8 39.8 822.0 36.6 818.5 33.7 816.2 29.9 814.2 25.6 819.0 22.6 823.3Z" fill="url(#d36)"/>
<path d="M9.1 820.6 12.0 823.9 14.8 826.2 18.9 828.4 22.9 823.5 26.0 819.2 29.4 813.7 26.8 810.5 24.3 808.5 20.9 806.8 16.2 811.3 12.8 815.3Z" fill="url(#d45)"/>
<path d="M0.2 813.3 2.5 816.2 5.0 818.2 8.6 820.1 13.1 815.5 16.5 811.5 20.5 806.4 18.4 803.8 16.3 802.1 13.3 800.9 8.2 804.9 4.4 808.5Z" fill="url(#d55)"/>
<path d="M-7.3 807.4 -5.5 809.7 -3.4 811.3 -0.2 812.9 4.7 808.6 8.5 805.0 13.0 800.6 11.4 798.5 9.7 797.3 7.1 796.6 1.6 800.1 -2.6 803.2Z" fill="url(#d05)"/>
<path d="M-13.4 803.2 -12.1 804.8 -10.4 806.0 -7.6 807.1 -2.3 803.3 1.9 800.1 6.8 796.3 5.7 795.0 4.3 794.4 2.0 794.2 -3.8 797.1 -8.3 799.7Z" fill="url(#d14)"/>
<path d="M-18.5 800.9 -17.6 801.8 -16.2 802.4 -13.7 802.9 -8.1 799.7 -3.6 797.1 1.8 794.1 1.0 793.5 -0.1 793.5 -2.1 793.9 -8.2 796.2 -13.0 798.2Z" fill="url(#d24)"/>
<path d="M-22.6 800.7 -22.0 800.8 -20.8 800.9 -18.7 800.8 -12.7 798.2 -8.0 796.1 -2.2 793.9 -4.5 794.7 -7.5 795.7 -11.5 797.1 -15.6 798.4 -18.5 799.4Z" fill="url(#d33)"/>
<path d="M-32.4 804.0 -29.3 802.9 -26.3 802.0 -22.7 800.8 -18.2 799.3 -15.2 798.3 -12.1 797.2 -15.2 798.3 -18.2 799.3 -22.2 800.6 -26.3 802.0 -29.3 802.9Z" fill="url(#d42)"/>
<path d="M216.7 883.2 220.0 881.9 223.1 880.6 227.4 878.9 231.6 877.2 234.7 875.9 238.0 874.5 234.7 875.9 231.6 877.2 225.4 879.6 223.1 880.6 220.0 881.9Z" fill="url(#d51)"/>
<path d="M203.2 888.4 208.8 886.3 211.9 885.1 216.1 883.4 220.4 881.7 223.5 880.5 224.6 879.9 218.5 881.9 213.3 883.5 206.8 885.3 204.8 886.8 203.8 887.7Z" fill="url(#d02)"/>
<path d="M184.6 893.7 190.8 892.3 196.0 890.8 202.4 888.7 204.5 887.5 205.5 886.6 205.9 885.5 199.6 886.6 194.3 887.5 187.6 888.6 185.8 890.7 184.9 892.2Z" fill="url(#d12)"/>
<path d="M165.5 896.7 171.8 896.2 177.2 895.3 183.8 893.9 185.7 892.1 186.5 890.7 186.7 888.7 180.3 889.0 174.8 889.2 168.1 889.7 166.4 892.4 165.6 894.4Z" fill="url(#d23)"/>
<path d="M146.0 897.4 152.5 897.7 157.9 897.5 164.6 896.8 166.4 894.4 167.1 892.4 167.2 889.7 160.7 889.1 155.3 888.7 148.6 888.5 146.9 891.8 146.1 894.4Z" fill="url(#d34)"/>
<path d="M126.5 896.0 133.0 897.1 138.4 897.5 145.1 897.4 146.8 894.5 147.6 891.9 147.7 888.5 141.2 887.1 135.9 886.2 129.3 885.4 127.5 889.1 126.7 892.3Z" fill="url(#d44)"/>
<path d="M107.3 892.5 113.6 894.4 119.0 895.4 125.6 895.9 127.4 892.4 128.2 889.3 128.3 885.2 122.1 883.1 116.8 881.7 110.4 880.4 108.5 884.6 107.6 888.2Z" fill="url(#d55)"/>
<path d="M88.6 887.3 94.7 889.8 99.9 891.3 106.4 892.4 108.3 888.4 109.2 884.8 109.5 880.1 103.5 877.4 98.5 875.6 92.3 873.8 90.2 878.4 89.1 882.4Z" fill="url(#d05)"/>
<path d="M70.6 880.5 76.4 883.6 81.4 885.5 87.7 887.0 89.7 882.6 90.8 878.7 91.4 873.5 85.7 870.3 81.0 868.1 75.1 866.0 72.7 870.9 71.4 875.2Z" fill="url(#d15)"/>
<path d="M53.6 872.6 59.0 876.0 63.7 878.3 69.8 880.2 72.0 875.5 73.3 871.2 74.3 865.6 69.0 862.1 64.6 859.6 59.0 857.3 56.3 862.4 54.7 866.9Z" fill="url(#d26)"/>
<path d="M37.7 863.8 42.6 867.5 47.0 869.9 52.7 872.2 55.3 867.2 56.9 862.7 58.3 856.9 53.5 853.1 49.4 850.5 44.3 848.1 41.2 853.3 39.3 857.8Z" fill="url(#d36)"/>
<path d="M23.0 854.4 27.5 858.3 31.5 860.9 36.9 863.3 39.8 858.2 41.7 853.6 43.6 847.6 39.3 843.8 35.6 841.2 30.9 838.7 27.4 843.9 25.1 848.5Z" fill="url(#d46)"/>
<path d="M9.8 845.0 13.7 848.9 17.4 851.5 22.3 854.0 25.6 848.8 27.9 844.2 30.2 838.2 26.5 834.5 23.2 832.0 19.0 829.7 15.1 834.7 12.4 839.2Z" fill="url(#d56)"/>
<path d="M-2.0 835.9 1.4 839.6 4.6 842.1 9.1 844.5 12.8 839.4 15.5 834.9 18.4 829.2 15.2 825.6 12.4 823.3 8.5 821.3 4.2 826.0 1.1 830.3Z" fill="url(#d06)"/>
<path d="M-12.3 827.6 -9.5 830.9 -6.6 833.2 -2.6 835.5 1.5 830.5 4.6 826.3 8.1 820.8 5.4 817.6 3.0 815.6 -0.4 813.9 -5.1 818.3 -8.6 822.3Z" fill="url(#d15)"/>
<path d="M-21.2 820.2 -18.9 823.1 -16.4 825.1 -12.8 827.1 -8.3 822.5 -4.8 818.5 -0.8 813.5 -2.9 810.8 -5.0 809.2 -7.9 807.9 -13.1 811.9 -16.9 815.5Z" fill="url(#d25)"/>
<path d="M-28.6 814.3 -26.8 816.6 -24.8 818.3 -21.5 819.8 -16.6 815.6 -12.8 812.0 -8.3 807.6 -9.9 805.5 -11.6 804.4 -14.2 803.6 -19.7 807.1 -23.9 810.2Z" fill="url(#d35)"/>
<path d="M-34.8 810.1 -33.5 811.8 -31.7 812.9 -28.9 814.0 -23.6 810.3 -19.4 807.1 -14.4 803.4 -15.6 802.0 -17.0 801.4 -19.3 801.3 -25.1 804.1 -29.6 806.7Z" fill="url(#d44)"/>
<path d="M-39.8 807.9 -38.9 808.7 -37.5 809.4 -35.0 809.9 -29.4 806.7 -24.8 804.1 -19.4 801.2 -20.2 800.6 -21.3 800.6 -23.4 801.0 -29.4 803.2 -34.2 805.2Z" fill="url(#d53)"/>
<path d="M-43.9 807.7 -43.3 807.8 -42.2 807.8 -40.0 807.8 -34.0 805.2 -29.2 803.2 -23.5 801.0 -25.9 801.8 -28.9 802.8 -33.0 804.2 -37.0 805.5 -40.0 806.5Z" fill="url(#d03)"/>
<path d="M-53.9 811.0 -50.8 810.0 -47.8 809.0 -44.0 807.8 -39.6 806.4 -36.7 805.4 -33.5 804.3 -36.7 805.4 -39.6 806.4 -43.7 807.7 -47.8 809.0 -50.8 810.0Z" fill="url(#d12)"/>
<path d="M194.3 892.0 197.6 890.7 200.7 889.5 204.9 887.8 209.2 886.2 212.3 884.9 215.6 883.6 212.3 884.9 209.2 886.2 203.1 888.5 200.7 889.5 197.6 890.7Z" fill="url(#d21)"/>
<path d="M181.0 896.9 186.4 895.0 189.5 893.8 193.7 892.2 198.0 890.5 201.1 889.3 202.3 888.8 196.2 890.7 191.1 892.2 184.5 893.9 182.6 895.4 181.5 896.3Z" fill="url(#d32)"/>
<path d="M162.4 902.0 168.6 900.7 173.8 899.2 180.2 897.2 182.3 896.1 183.3 895.2 183.7 894.1 177.4 895.2 172.0 896.0 165.4 897.0 163.6 899.1 162.7 900.6Z" fill="url(#d42)"/>
<path d="M143.3 904.8 149.6 904.3 155.0 903.6 161.5 902.2 163.4 900.5 164.3 899.0 164.5 897.1 158.1 897.3 152.6 897.5 145.9 897.9 144.2 900.5 143.4 902.6Z" fill="url(#d53)"/>
<path d="M123.8 905.4 130.3 905.7 135.7 905.6 142.4 904.9 144.2 902.6 144.9 900.6 145.0 897.9 138.6 897.2 133.1 896.8 126.5 896.5 124.7 899.8 124.0 902.4Z" fill="url(#d03)"/>
<path d="M104.4 903.8 110.9 905.0 116.3 905.4 122.9 905.4 124.7 902.5 125.4 899.9 125.6 896.5 119.1 895.0 113.8 894.1 107.2 893.2 105.4 897.0 104.6 900.1Z" fill="url(#d14)"/>
<path d="M85.3 900.2 91.6 902.1 96.9 903.1 103.5 903.7 105.3 900.2 106.1 897.1 106.3 893.0 100.1 890.9 94.9 889.4 88.5 888.0 86.5 892.3 85.6 895.8Z" fill="url(#d24)"/>
<path d="M66.6 894.8 72.7 897.3 77.9 898.8 84.4 900.0 86.3 896.0 87.2 892.5 87.6 887.8 81.6 885.0 76.6 883.1 70.4 881.3 68.3 885.9 67.1 889.9Z" fill="url(#d35)"/>
<path d="M48.7 887.9 54.5 891.0 59.5 892.9 65.7 894.5 67.8 890.1 68.9 886.2 69.5 881.0 63.9 877.8 59.2 875.5 53.3 873.4 50.9 878.3 49.5 882.5Z" fill="url(#d45)"/>
<path d="M31.7 879.8 37.1 883.3 41.8 885.6 47.9 887.6 50.1 882.8 51.5 878.6 52.5 873.0 47.2 869.4 42.8 866.9 37.3 864.6 34.6 869.7 32.9 874.1Z" fill="url(#d55)"/>
<path d="M15.9 870.9 20.8 874.6 25.2 877.1 30.9 879.4 33.5 874.4 35.1 870.0 36.6 864.1 31.8 860.3 27.7 857.7 22.6 855.3 19.5 860.4 17.5 865.0Z" fill="url(#d06)"/>
<path d="M1.3 861.5 5.8 865.4 9.8 868.0 15.1 870.4 18.0 865.3 20.0 860.7 21.9 854.8 17.7 850.9 14.0 848.3 9.3 845.8 5.8 851.0 3.5 855.5Z" fill="url(#d16)"/>
<path d="M-11.8 852.0 -7.9 855.9 -4.3 858.5 0.6 861.0 3.9 855.8 6.3 851.3 8.7 845.3 5.0 841.5 1.7 839.0 -2.5 836.7 -6.4 841.7 -9.2 846.2Z" fill="url(#d26)"/>
<path d="M-23.6 842.9 -20.2 846.5 -17.0 849.1 -12.5 851.5 -8.8 846.4 -6.1 842.0 -3.1 836.2 -6.2 832.6 -9.1 830.3 -12.9 828.2 -17.2 833.0 -20.4 837.2Z" fill="url(#d35)"/>
<path d="M-33.8 834.4 -31.0 837.8 -28.2 840.1 -24.1 842.4 -20.0 837.5 -16.9 833.2 -13.4 827.8 -16.0 824.6 -18.4 822.6 -21.8 820.8 -26.6 825.2 -30.1 829.2Z" fill="url(#d45)"/>
<path d="M-42.6 827.1 -40.3 830.0 -37.9 832.0 -34.3 834.0 -29.8 829.4 -26.2 825.4 -22.2 820.5 -24.3 817.8 -26.3 816.1 -29.3 814.9 -34.4 818.8 -38.3 822.3Z" fill="url(#d55)"/>
<path d="M-50.0 821.2 -48.3 823.5 -46.2 825.1 -43.0 826.7 -38.1 822.5 -34.2 818.9 -29.6 814.5 -31.2 812.5 -32.9 811.3 -35.5 810.6 -41.0 814.0 -45.3 817.0Z" fill="url(#d04)"/>
<path d="M-56.2 817.0 -54.9 818.6 -53.2 819.8 -50.3 820.9 -45.0 817.1 -40.8 814.0 -35.8 810.3 -36.9 809.0 -38.3 808.4 -40.6 808.2 -46.4 811.0 -51.0 813.6Z" fill="url(#d14)"/>
<path d="M-61.2 814.7 -60.3 815.6 -58.9 816.2 -56.4 816.8 -50.7 813.6 -46.2 811.1 -40.8 808.1 -41.5 807.6 -42.7 807.5 -44.7 808.0 -50.8 810.2 -55.6 812.1Z" fill="url(#d23)"/>
<path d="M-65.3 814.7 -64.7 814.7 -63.6 814.7 -61.4 814.6 -55.4 812.1 -50.6 810.2 -44.8 808.0 -47.4 808.9 -50.4 809.9 -54.5 811.2 -58.5 812.5 -61.5 813.5Z" fill="url(#d33)"/>
<path d="M-75.5 817.9 -72.3 816.9 -69.3 816.0 -65.4 814.7 -61.2 813.3 -58.2 812.4 -55.0 811.3 -58.2 812.4 -61.2 813.3 -65.2 814.6 -69.3 816.0 -72.3 816.9Z" fill="url(#d42)"/>
<path d="M171.9 900.4 175.1 899.2 178.3 898.0 182.5 896.4 186.7 894.8 189.9 893.6 193.2 892.4 189.9 893.6 186.7 894.8 180.9 897.0 178.3 898.0 175.1 899.2Z" fill="url(#d51)"/>
<path d="M158.8 905.1 163.9 903.3 167.0 902.2 171.3 900.6 175.5 899.0 178.6 897.9 180.1 897.3 174.0 899.1 168.8 900.5 162.3 902.2 160.3 903.7 159.3 904.5Z" fill="url(#d02)"/>
<path d="M140.2 910.0 146.4 908.8 151.5 907.4 157.9 905.4 160.0 904.3 161.1 903.5 161.4 902.4 155.1 903.4 149.8 904.2 143.2 905.1 141.3 907.2 140.5 908.6Z" fill="url(#d12)"/>
<path d="M121.1 912.7 127.4 912.3 132.7 911.5 139.3 910.2 141.2 908.6 142.1 907.1 142.3 905.2 135.9 905.4 130.5 905.5 123.8 905.8 122.0 908.5 121.2 910.5Z" fill="url(#d23)"/>
<path d="M101.7 913.1 108.1 913.5 113.5 913.4 120.2 912.8 122.0 910.5 122.8 908.5 122.9 905.8 116.4 905.1 111.0 904.7 104.4 904.3 102.6 907.5 101.8 910.1Z" fill="url(#d33)"/>
<path d="M82.3 911.4 88.7 912.6 94.1 913.1 100.8 913.1 102.5 910.2 103.3 907.7 103.4 904.2 97.1 902.8 91.7 901.7 85.2 900.8 83.3 904.6 82.5 907.7Z" fill="url(#d44)"/>
<path d="M63.2 907.6 69.5 909.6 74.8 910.6 81.4 911.3 83.2 907.8 84.0 904.7 84.3 900.6 78.0 898.5 72.8 896.9 66.5 895.5 64.5 899.7 63.5 903.3Z" fill="url(#d54)"/>
<path d="M44.6 902.1 50.7 904.7 55.8 906.3 62.3 907.4 64.2 903.5 65.2 900.0 65.6 895.2 59.6 892.5 54.6 890.5 48.5 888.7 46.3 893.3 45.2 897.2Z" fill="url(#d05)"/>
<path d="M26.8 895.1 32.5 898.2 37.5 900.2 43.7 901.8 45.8 897.5 46.9 893.5 47.6 888.3 42.0 885.1 37.3 882.8 31.5 880.6 29.0 885.5 27.6 889.7Z" fill="url(#d15)"/>
<path d="M9.9 886.9 15.2 890.4 19.9 892.7 25.9 894.8 28.2 890.0 29.6 885.8 30.7 880.2 25.4 876.6 21.0 874.1 15.6 871.7 12.8 876.8 11.1 881.2Z" fill="url(#d25)"/>
<path d="M-5.9 877.9 -1.0 881.7 3.4 884.2 9.1 886.5 11.7 881.5 13.3 877.1 14.8 871.2 10.1 867.4 6.0 864.8 0.9 862.3 -2.2 867.4 -4.2 872.0Z" fill="url(#d35)"/>
<path d="M-20.4 868.4 -16.0 872.3 -12.0 875.0 -6.6 877.4 -3.7 872.3 -1.7 867.8 0.2 861.8 -4.0 857.9 -7.6 855.3 -12.3 852.8 -15.8 857.9 -18.2 862.5Z" fill="url(#d46)"/>
<path d="M-33.5 858.9 -29.6 862.8 -26.0 865.4 -21.1 867.9 -17.8 862.8 -15.4 858.2 -12.9 852.3 -16.6 848.5 -19.9 846.0 -24.1 843.6 -28.0 848.6 -30.8 853.0Z" fill="url(#d56)"/>
<path d="M-45.2 849.7 -41.8 853.4 -38.6 855.9 -34.1 858.4 -30.4 853.3 -27.7 848.9 -24.6 843.1 -27.8 839.5 -30.6 837.2 -34.4 835.1 -38.8 839.8 -41.9 844.1Z" fill="url(#d05)"/>
<path d="M-55.4 841.2 -52.6 844.6 -49.8 846.9 -45.7 849.2 -41.6 844.3 -38.4 840.1 -34.9 834.7 -37.5 831.5 -39.9 829.4 -43.3 827.7 -48.0 832.1 -51.6 836.0Z" fill="url(#d15)"/>
<path d="M-64.1 833.9 -61.9 836.8 -59.5 838.8 -55.8 840.8 -51.3 836.2 -47.7 832.3 -43.7 827.3 -45.7 824.6 -47.8 823.0 -50.7 821.7 -55.9 825.6 -59.8 829.1Z" fill="url(#d25)"/>
<path d="M-71.5 827.9 -69.8 830.2 -67.7 831.9 -64.5 833.5 -59.6 829.3 -55.6 825.7 -51.0 821.4 -52.6 819.3 -54.3 818.2 -56.9 817.4 -62.5 820.8 -66.7 823.8Z" fill="url(#d34)"/>
<path d="M-77.6 823.7 -76.4 825.4 -74.7 826.5 -71.8 827.6 -66.5 823.9 -62.2 820.9 -57.2 817.2 -58.3 815.9 -59.7 815.3 -62.0 815.1 -67.8 817.9 -72.4 820.4Z" fill="url(#d44)"/>
<path d="M-82.7 821.5 -81.8 822.4 -80.4 823.0 -77.9 823.5 -72.2 820.4 -67.6 817.9 -62.2 815.0 -62.9 814.4 -64.0 814.4 -66.1 814.9 -72.2 817.1 -77.1 819.0Z" fill="url(#d53)"/>
<path d="M-86.7 821.5 -86.2 821.5 -85.0 821.5 -82.8 821.4 -76.8 818.9 -72.0 817.0 -66.2 815.0 -69.0 815.8 -72.0 816.8 -76.0 818.1 -80.1 819.4 -83.1 820.3Z" fill="url(#d03)"/>
<path d="M149.4 908.5 152.7 907.3 155.8 906.2 160.1 904.7 164.3 903.1 167.4 902.0 170.7 900.8 167.4 902.0 164.3 903.1 158.6 905.2 155.8 906.2 152.7 907.3Z" fill="url(#d21)"/>
<path d="M136.5 913.1 141.5 911.3 144.6 910.2 148.9 908.7 153.1 907.2 156.2 906.1 157.8 905.5 151.8 907.3 146.6 908.6 140.1 910.2 138.1 911.7 137.1 912.5Z" fill="url(#d32)"/>
<path d="M117.9 917.8 124.1 916.6 129.3 915.3 135.7 913.3 137.8 912.3 138.8 911.5 139.2 910.4 132.9 911.4 127.6 912.1 121.0 913.0 119.1 915.0 118.3 916.5Z" fill="url(#d42)"/>
<path d="M98.9 920.4 105.2 920.0 110.5 919.3 117.1 918.0 119.0 916.4 119.9 915.0 120.1 913.1 113.7 913.2 108.3 913.3 101.6 913.5 99.8 916.2 99.0 918.2Z" fill="url(#d53)"/>
<path d="M79.5 920.6 85.9 921.1 91.3 921.0 98.0 920.4 99.8 918.2 100.6 916.2 100.7 913.5 94.3 912.8 88.9 912.3 82.2 911.9 80.5 915.1 79.7 917.7Z" fill="url(#d03)"/>
<path d="M60.2 918.8 66.6 920.0 72.0 920.6 78.6 920.6 80.4 917.8 81.2 915.2 81.3 911.8 75.0 910.3 69.6 909.2 63.1 908.3 61.3 912.0 60.4 915.1Z" fill="url(#d14)"/>
<path d="M41.2 914.9 47.4 916.9 52.7 918.0 59.3 918.7 61.1 915.3 62.0 912.2 62.2 908.1 56.0 905.9 50.8 904.3 44.5 902.8 42.5 907.0 41.5 910.6Z" fill="url(#d24)"/>
<path d="M22.6 909.3 28.7 911.9 33.8 913.5 40.3 914.7 42.2 910.8 43.1 907.3 43.6 902.6 37.6 899.7 32.7 897.8 26.6 895.9 24.4 900.5 23.2 904.4Z" fill="url(#d35)"/>
<path d="M4.8 902.2 10.5 905.4 15.5 907.3 21.7 909.0 23.8 904.7 25.0 900.7 25.7 895.5 20.1 892.2 15.4 889.9 9.6 887.7 7.1 892.6 5.7 896.8Z" fill="url(#d45)"/>
<path d="M-12.0 893.9 -6.7 897.5 -2.0 899.8 4.0 901.8 6.3 897.1 7.7 892.9 8.8 887.3 3.6 883.7 -0.8 881.1 -6.2 878.7 -9.0 883.8 -10.7 888.2Z" fill="url(#d55)"/>
<path d="M-27.7 884.8 -22.8 888.6 -18.5 891.1 -12.8 893.5 -10.2 888.5 -8.5 884.1 -7.0 878.2 -11.7 874.4 -15.7 871.8 -20.8 869.2 -24.0 874.4 -26.0 878.9Z" fill="url(#d05)"/>
<path d="M-42.2 875.3 -37.8 879.2 -33.8 881.8 -28.5 884.3 -25.5 879.2 -23.5 874.7 -21.5 868.7 -25.7 864.8 -29.3 862.2 -34.0 859.7 -37.5 864.8 -40.0 869.3Z" fill="url(#d15)"/>
<path d="M-55.2 865.7 -51.4 869.6 -47.7 872.2 -42.9 874.8 -39.5 869.6 -37.1 865.1 -34.6 859.2 -38.3 855.3 -41.5 852.8 -45.7 850.4 -49.7 855.4 -52.5 859.8Z" fill="url(#d25)"/>
<path d="M-66.8 856.4 -63.5 860.1 -60.3 862.7 -55.8 865.2 -52.1 860.1 -49.3 855.7 -46.3 849.9 -49.4 846.3 -52.2 844.0 -56.0 841.9 -60.4 846.6 -63.6 850.8Z" fill="url(#d35)"/>
<path d="M-77.0 847.9 -74.2 851.3 -71.4 853.6 -67.4 855.9 -63.2 851.1 -60.0 846.8 -56.4 841.5 -59.0 838.2 -61.4 836.2 -64.8 834.5 -69.6 838.8 -73.2 842.7Z" fill="url(#d45)"/>
<path d="M-85.7 840.5 -83.5 843.4 -81.1 845.5 -77.5 847.5 -72.9 842.9 -69.3 839.0 -65.2 834.1 -67.2 831.4 -69.3 829.8 -72.2 828.5 -77.4 832.3 -81.4 835.9Z" fill="url(#d55)"/>
<path d="M-93.1 834.6 -91.3 836.9 -89.3 838.6 -86.1 840.2 -81.1 836.0 -77.2 832.5 -72.5 828.2 -74.1 826.1 -75.8 824.9 -78.4 824.2 -84.0 827.5 -88.3 830.6Z" fill="url(#d04)"/>
<path d="M-99.2 830.4 -97.9 832.1 -96.2 833.2 -93.4 834.3 -88.0 830.6 -83.7 827.6 -78.6 824.0 -79.8 822.6 -81.1 822.0 -83.5 821.9 -89.3 824.6 -93.9 827.1Z" fill="url(#d14)"/>
<path d="M-104.2 828.3 -103.3 829.1 -101.9 829.7 -99.4 830.2 -93.7 827.1 -89.1 824.7 -83.6 821.8 -84.4 821.2 -85.5 821.3 -87.6 821.8 -93.7 823.8 -98.6 825.7Z" fill="url(#d23)"/>
<path d="M-108.3 828.2 -107.7 828.3 -106.6 828.3 -104.4 828.2 -98.4 825.7 -93.5 823.8 -87.7 821.8 -90.6 822.7 -93.6 823.6 -97.7 824.9 -101.8 826.2 -104.8 827.2Z" fill="url(#d33)"/>
<path d="M127.0 916.4 130.3 915.3 133.4 914.2 137.7 912.7 141.9 911.2 145.0 910.1 148.3 908.9 145.0 910.1 141.9 911.2 136.4 913.1 133.4 914.2 130.3 915.3Z" fill="url(#d51)"/>
<path d="M114.3 920.8 119.2 919.2 122.3 918.1 126.5 916.6 130.7 915.1 133.8 914.1 135.6 913.4 129.5 915.2 124.3 916.5 117.9 918.0 115.9 919.4 114.9 920.2Z" fill="url(#d01)"/>
<path d="M95.7 925.4 101.9 924.3 107.1 922.9 113.5 921.0 115.6 920.1 116.6 919.3 117.0 918.2 110.7 919.1 105.4 919.8 98.8 920.7 96.9 922.7 96.1 924.1Z" fill="url(#d12)"/>
<path d="M76.7 927.8 83.0 927.5 88.3 926.8 94.9 925.6 96.8 924.0 97.7 922.6 97.9 920.8 91.5 920.8 86.1 920.9 79.5 921.1 77.7 923.7 76.9 925.7Z" fill="url(#d23)"/>
<path d="M57.4 928.0 63.8 928.5 69.1 928.5 75.8 927.9 77.6 925.7 78.4 923.7 78.5 921.1 72.1 920.3 66.7 919.8 60.1 919.3 58.3 922.5 57.5 925.1Z" fill="url(#d33)"/>
<path d="M38.1 926.0 44.5 927.3 49.8 927.9 56.5 928.0 58.2 925.2 59.0 922.6 59.2 919.2 52.9 917.7 47.6 916.6 41.0 915.6 39.2 919.3 38.3 922.4Z" fill="url(#d44)"/>
<path d="M19.1 922.1 25.3 924.1 30.6 925.2 37.2 925.9 39.0 922.5 39.9 919.5 40.1 915.4 34.0 913.1 28.8 911.5 22.5 910.0 20.4 914.2 19.5 917.7Z" fill="url(#d54)"/>
<path d="M0.6 916.4 6.6 919.0 11.7 920.6 18.2 921.9 20.1 918.0 21.1 914.4 21.6 909.7 15.7 906.9 10.7 904.9 4.6 903.0 2.4 907.5 1.2 911.5Z" fill="url(#d05)"/>
<path d="M-17.1 909.2 -11.4 912.3 -6.5 914.4 -0.3 916.1 1.8 911.7 3.0 907.8 3.8 902.6 -1.8 899.3 -6.5 897.0 -12.3 894.7 -14.8 899.6 -16.2 903.8Z" fill="url(#d15)"/>
<path d="M-33.9 900.8 -28.6 904.4 -24.0 906.7 -18.0 908.8 -15.6 904.1 -14.2 899.9 -13.1 894.3 -18.3 890.6 -22.6 888.1 -28.1 885.6 -30.9 890.7 -32.6 895.1Z" fill="url(#d25)"/>
<path d="M-49.6 891.6 -44.7 895.5 -40.4 898.0 -34.7 900.4 -32.1 895.4 -30.4 891.0 -28.8 885.1 -33.5 881.3 -37.5 878.6 -42.6 876.1 -45.8 881.2 -47.8 885.7Z" fill="url(#d35)"/>
<path d="M-64.0 882.0 -59.6 885.9 -55.6 888.6 -50.3 891.1 -47.3 886.1 -45.3 881.5 -43.3 875.6 -47.5 871.6 -51.1 869.0 -55.7 866.4 -59.3 871.5 -61.7 876.1Z" fill="url(#d45)"/>
<path d="M-77.0 872.4 -73.1 876.3 -69.5 878.9 -64.7 881.5 -61.3 876.4 -58.9 871.8 -56.3 865.9 -60.0 862.1 -63.2 859.5 -67.4 857.2 -71.4 862.1 -74.2 866.5Z" fill="url(#d55)"/>
<path d="M-88.6 863.1 -85.3 866.8 -82.0 869.4 -77.6 871.9 -73.8 866.8 -71.0 862.4 -67.9 856.7 -71.0 853.1 -73.8 850.7 -77.6 848.6 -82.0 853.3 -85.2 857.5Z" fill="url(#d05)"/>
<path d="M-98.7 854.6 -95.9 857.9 -93.1 860.3 -89.1 862.6 -84.9 857.7 -81.7 853.5 -78.1 848.2 -80.6 844.9 -83.0 842.9 -86.4 841.2 -91.2 845.5 -94.8 849.4Z" fill="url(#d15)"/>
<path d="M-107.4 847.2 -105.1 850.1 -102.7 852.1 -99.1 854.1 -94.5 849.6 -90.9 845.7 -86.8 840.8 -88.8 838.1 -90.8 836.4 -93.8 835.2 -99.0 839.0 -103.0 842.5Z" fill="url(#d25)"/>
<path d="M-114.7 841.2 -113.0 843.5 -110.9 845.2 -107.7 846.8 -102.7 842.6 -98.8 839.1 -94.1 834.8 -95.6 832.8 -97.3 831.6 -99.9 830.9 -105.5 834.2 -109.8 837.2Z" fill="url(#d34)"/>
<path d="M-120.8 837.1 -119.5 838.7 -117.8 839.8 -115.0 840.9 -109.6 837.3 -105.3 834.3 -100.2 830.7 -101.3 829.3 -102.7 828.8 -105.0 828.6 -110.9 831.3 -115.5 833.8Z" fill="url(#d44)"/>
<path d="M-125.8 834.9 -124.9 835.7 -123.5 836.3 -121.0 836.9 -115.3 833.8 -110.7 831.3 -105.2 828.5 -105.9 828.0 -107.0 828.0 -109.1 828.5 -115.2 830.6 -120.1 832.4Z" fill="url(#d53)"/>
<path d="M-129.9 834.9 -129.3 834.9 -128.1 834.9 -125.9 834.8 -119.9 832.4 -115.0 830.5 -109.2 828.5 -112.3 829.5 -115.3 830.4 -119.4 831.7 -123.5 833.0 -126.5 833.9Z" fill="url(#d02)"/>
<path d="M104.7 924.1 108.0 923.0 111.1 921.9 115.3 920.5 119.5 919.0 122.6 918.0 125.9 916.8 122.6 918.0 119.5 919.0 114.2 920.8 111.1 921.9 108.0 923.0Z" fill="url(#d21)"/>
<path d="M92.1 928.3 96.8 926.8 99.9 925.7 104.1 924.3 108.3 922.9 111.4 921.8 113.4 921.1 107.3 922.8 102.1 924.1 95.6 925.6 93.7 927.0 92.6 927.8Z" fill="url(#d31)"/>
<path d="M73.5 932.9 79.7 931.7 84.9 930.4 91.3 928.5 93.4 927.6 94.4 926.8 94.8 925.8 88.5 926.7 83.2 927.4 76.6 928.2 74.7 930.1 73.9 931.5Z" fill="url(#d42)"/>
<path d="M54.5 935.2 60.8 934.9 66.1 934.2 72.7 933.0 74.6 931.5 75.5 930.1 75.7 928.3 69.3 928.3 63.9 928.3 57.3 928.4 55.5 931.0 54.7 933.0Z" fill="url(#d52)"/>
<path d="M35.2 935.2 41.6 935.8 47.0 935.7 53.6 935.2 55.4 933.0 56.2 931.1 56.4 928.4 50.0 927.6 44.6 927.1 38.0 926.6 36.2 929.7 35.4 932.3Z" fill="url(#d03)"/>
<path d="M16.0 933.2 22.3 934.5 27.7 935.1 34.3 935.2 36.1 932.4 36.9 929.9 37.1 926.5 30.8 924.9 25.5 923.8 19.0 922.7 17.1 926.4 16.2 929.5Z" fill="url(#d14)"/>
<path d="M-3.0 929.1 3.2 931.2 8.5 932.3 15.1 933.0 16.9 929.7 17.8 926.6 18.1 922.5 11.9 920.2 6.8 918.6 0.4 917.1 -1.6 921.2 -2.6 924.8Z" fill="url(#d24)"/>
<path d="M-21.4 923.3 -15.4 926.0 -10.3 927.6 -3.9 928.9 -1.9 925.0 -0.9 921.5 -0.4 916.8 -6.3 913.9 -11.3 911.9 -17.4 909.9 -19.6 914.5 -20.8 918.4Z" fill="url(#d34)"/>
<path d="M-39.1 916.0 -33.4 919.2 -28.5 921.3 -22.3 923.0 -20.2 918.7 -19.0 914.8 -18.2 909.6 -23.8 906.2 -28.4 903.9 -34.2 901.6 -36.7 906.4 -38.2 910.7Z" fill="url(#d45)"/>
<path d="M-55.9 907.6 -50.6 911.2 -45.9 913.5 -40.0 915.7 -37.6 911.0 -36.2 906.8 -35.0 901.2 -40.2 897.5 -44.5 894.9 -49.9 892.4 -52.8 897.5 -54.5 901.9Z" fill="url(#d55)"/>
<path d="M-71.5 898.3 -66.6 902.2 -62.3 904.8 -56.7 907.2 -54.0 902.2 -52.3 897.8 -50.7 892.0 -55.4 888.0 -59.3 885.4 -64.4 882.8 -67.6 887.9 -69.7 892.5Z" fill="url(#d05)"/>
<path d="M-85.8 888.7 -81.5 892.6 -77.5 895.3 -72.2 897.9 -69.2 892.8 -67.1 888.2 -65.1 882.3 -69.2 878.4 -72.8 875.7 -77.5 873.1 -81.1 878.2 -83.5 882.7Z" fill="url(#d15)"/>
<path d="M-98.8 879.0 -95.0 882.9 -91.4 885.6 -86.5 888.2 -83.1 883.1 -80.7 878.5 -78.1 872.6 -81.7 868.8 -84.9 866.2 -89.1 863.8 -93.1 868.7 -96.0 873.2Z" fill="url(#d25)"/>
<path d="M-110.3 869.7 -107.0 873.4 -103.8 876.0 -99.4 878.5 -95.6 873.4 -92.8 869.0 -89.6 863.3 -92.7 859.7 -95.5 857.4 -99.3 855.2 -103.7 859.9 -107.0 864.1Z" fill="url(#d35)"/>
<path d="M-120.4 861.1 -117.7 864.5 -114.9 866.9 -110.8 869.2 -106.6 864.3 -103.4 860.1 -99.7 854.8 -102.3 851.6 -104.7 849.5 -108.0 847.8 -112.9 852.1 -116.5 855.9Z" fill="url(#d45)"/>
<path d="M-129.0 853.7 -126.8 856.6 -124.4 858.7 -120.8 860.7 -116.2 856.1 -112.6 852.3 -108.4 847.4 -110.4 844.7 -112.4 843.1 -115.4 841.8 -120.7 845.6 -124.7 849.1Z" fill="url(#d54)"/>
<path d="M-136.3 847.8 -134.6 850.1 -132.6 851.7 -129.4 853.3 -124.4 849.2 -120.4 845.7 -115.7 841.5 -117.2 839.4 -118.9 838.3 -121.5 837.5 -127.1 840.8 -131.5 843.8Z" fill="url(#d04)"/>
<path d="M-142.4 843.6 -141.2 845.2 -139.5 846.4 -136.6 847.5 -131.2 843.9 -126.9 840.9 -121.8 837.3 -122.9 836.0 -124.3 835.4 -126.6 835.3 -132.5 837.9 -137.1 840.4Z" fill="url(#d14)"/>
<path d="M-139.3 839.0 -141.6 840.8 -143.2 842.3 -142.6 843.4 -136.9 840.4 -132.3 838.0 -126.7 835.2 -127.5 834.6 -128.6 834.7 -130.7 835.2 -135.0 836.6 -136.8 837.5Z" fill="url(#d23)"/>
<path d="M-132.5 835.8 -135.2 836.7 -137.0 837.6 -139.0 838.8 -137.0 837.6 -135.2 836.7 -130.9 835.2 -132.5 835.7 -132.5 835.7 -132.5 835.7 -132.5 835.7 -132.5 835.7Z" fill="url(#d32)"/>
<path d="M82.3 931.6 85.6 930.5 88.7 929.5 92.9 928.0 97.2 926.6 100.3 925.6 103.5 924.5 100.3 925.6 97.2 926.6 92.0 928.3 88.7 929.5 85.6 930.5Z" fill="url(#d51)"/>
<path d="M69.9 935.6 74.4 934.2 77.5 933.2 81.7 931.8 86.0 930.4 89.1 929.3 91.2 928.6 85.1 930.3 79.9 931.6 73.4 933.0 71.5 934.4 70.4 935.1Z" fill="url(#d01)"/>
<path d="M51.3 940.1 57.5 939.0 62.7 937.7 69.1 935.9 71.2 935.0 72.2 934.2 72.6 933.2 66.3 934.1 61.0 934.7 54.4 935.5 52.6 937.4 51.7 938.8Z" fill="url(#d12)"/>
<path d="M32.3 942.3 38.6 942.0 43.9 941.4 50.5 940.3 52.4 938.7 53.3 937.4 53.5 935.6 47.1 935.5 41.8 935.5 35.1 935.7 33.3 938.2 32.5 940.2Z" fill="url(#d22)"/>
<path d="M13.1 942.3 19.5 942.9 24.8 942.9 31.4 942.4 33.2 940.2 34.1 938.3 34.2 935.6 27.8 934.8 22.5 934.2 15.9 933.7 14.1 936.9 13.2 939.4Z" fill="url(#d33)"/>
<path d="M-6.1 940.2 0.2 941.5 5.5 942.1 12.2 942.3 14.0 939.5 14.8 937.0 15.0 933.6 8.7 932.0 3.4 930.8 -3.1 929.7 -5.0 933.4 -5.9 936.5Z" fill="url(#d43)"/>
<path d="M-25.1 936.0 -18.9 938.1 -13.6 939.3 -7.1 940.0 -5.2 936.7 -4.3 933.6 -4.0 929.5 -10.2 927.2 -15.3 925.6 -21.6 924.0 -23.7 928.2 -24.7 931.7Z" fill="url(#d54)"/>
<path d="M-43.5 930.1 -37.5 932.9 -32.4 934.5 -26.0 935.8 -24.0 931.9 -23.0 928.4 -22.5 923.7 -28.4 920.8 -33.3 918.8 -39.3 916.8 -41.6 921.3 -42.8 925.3Z" fill="url(#d04)"/>
<path d="M-61.1 922.8 -55.5 926.0 -50.6 928.1 -44.4 929.8 -42.2 925.5 -41.0 921.6 -40.2 916.4 -45.7 913.0 -50.4 910.7 -56.1 908.4 -58.7 913.2 -60.2 917.4Z" fill="url(#d15)"/>
<path d="M-77.8 914.3 -72.6 917.9 -67.9 920.3 -62.0 922.4 -59.6 917.7 -58.1 913.5 -56.9 907.9 -62.1 904.2 -66.4 901.6 -71.8 899.1 -74.7 904.2 -76.5 908.6Z" fill="url(#d25)"/>
<path d="M-93.4 905.0 -88.6 908.9 -84.2 911.4 -78.6 913.8 -75.9 908.9 -74.2 904.5 -72.6 898.7 -77.2 894.7 -81.2 892.1 -86.2 889.5 -89.5 894.6 -91.6 899.1Z" fill="url(#d35)"/>
<path d="M-107.7 895.3 -103.4 899.2 -99.4 901.9 -94.1 904.5 -91.1 899.4 -89.0 894.9 -86.9 889.0 -91.1 885.0 -94.7 882.3 -99.3 879.8 -102.9 884.8 -105.4 889.3Z" fill="url(#d45)"/>
<path d="M-120.6 885.5 -116.8 889.5 -113.2 892.2 -108.4 894.8 -104.9 889.7 -102.5 885.1 -99.9 879.2 -103.5 875.4 -106.7 872.8 -110.9 870.4 -114.9 875.3 -117.8 879.7Z" fill="url(#d55)"/>
<path d="M-132.1 876.2 -128.8 879.9 -125.7 882.5 -121.2 885.0 -117.4 880.0 -114.5 875.6 -111.4 869.9 -114.5 866.3 -117.2 863.9 -121.0 861.8 -125.5 866.4 -128.7 870.6Z" fill="url(#d05)"/>
<path d="M-142.1 867.6 -139.4 871.0 -136.6 873.4 -132.6 875.7 -128.4 870.9 -125.1 866.7 -121.5 861.3 -124.0 858.1 -126.4 856.1 -129.7 854.3 -134.6 858.6 -138.3 862.5Z" fill="url(#d15)"/>
<path d="M-150.8 860.2 -148.6 863.1 -146.2 865.2 -142.6 867.2 -137.9 862.7 -134.3 858.8 -130.1 853.9 -132.1 851.2 -134.1 849.6 -137.1 848.3 -142.3 852.1 -146.4 855.6Z" fill="url(#d24)"/>
<path d="M-149.9 851.8 -151.4 855.1 -152.4 857.6 -151.1 859.8 -146.1 855.7 -142.1 852.3 -137.4 848.0 -138.9 846.0 -140.6 844.8 -143.2 844.1 -146.9 846.8 -148.2 848.8Z" fill="url(#d34)"/>
<path d="M-145.1 844.4 -147.1 847.0 -148.4 849.1 -149.7 851.4 -148.4 849.1 -147.1 847.0 -143.4 843.9 -143.0 842.1 -141.4 840.6 -139.6 839.2 -141.4 840.6 -143.0 842.1Z" fill="url(#d43)"/>
<path d="M-139.3 839.0 -141.6 840.8 -143.2 842.3 -144.9 844.1 -143.2 842.3 -141.6 840.8 -139.3 839.0 -136.8 837.5 -134.9 836.6 -132.9 835.9 -134.9 836.6 -136.8 837.5Z" fill="url(#d53)"/>
<path d="M59.9 938.9 63.2 937.8 66.3 936.8 70.6 935.4 74.8 934.0 77.9 933.0 81.2 931.9 77.9 933.0 74.8 934.0 69.8 935.7 66.3 936.8 63.2 937.8Z" fill="url(#d21)"/>
<path d="M47.7 942.8 52.0 941.4 55.1 940.4 59.4 939.1 63.6 937.7 66.7 936.7 68.9 935.9 62.9 937.6 57.7 938.9 51.2 940.3 49.3 941.6 48.2 942.3Z" fill="url(#d31)"/>
<path d="M29.2 947.2 35.3 946.1 40.5 944.9 46.9 943.0 49.0 942.2 50.0 941.4 50.4 940.5 44.1 941.3 38.8 941.9 32.2 942.6 30.4 944.6 29.5 945.9Z" fill="url(#d42)"/>
<path d="M10.1 949.3 16.5 949.1 21.8 948.5 28.3 947.4 30.2 945.8 31.1 944.5 31.3 942.7 25.0 942.7 19.6 942.7 13.0 942.7 11.2 945.3 10.4 947.2Z" fill="url(#d52)"/>
<path d="M-9.1 949.3 -2.7 949.9 2.6 949.9 9.2 949.4 11.1 947.3 11.9 945.3 12.1 942.7 5.7 941.8 0.3 941.2 -6.2 940.7 -8.1 943.8 -8.9 946.4Z" fill="url(#d03)"/>
<path d="M-28.3 947.0 -21.9 948.4 -16.6 949.0 -10.0 949.2 -8.2 946.5 -7.4 944.0 -7.2 940.6 -13.5 938.9 -18.7 937.8 -25.2 936.7 -27.1 940.3 -28.0 943.4Z" fill="url(#d13)"/>
<path d="M-47.2 942.8 -41.0 944.9 -35.7 946.1 -29.2 946.9 -27.3 943.6 -26.4 940.5 -26.1 936.4 -32.2 934.1 -37.3 932.5 -43.6 930.9 -45.7 935.0 -46.8 938.5Z" fill="url(#d24)"/>
<path d="M-65.5 936.9 -59.6 939.6 -54.5 941.3 -48.1 942.6 -46.1 938.8 -45.1 935.3 -44.5 930.6 -50.4 927.6 -55.3 925.6 -61.4 923.6 -63.6 928.1 -64.9 932.0Z" fill="url(#d34)"/>
<path d="M-83.1 929.5 -77.5 932.7 -72.6 934.8 -66.4 936.6 -64.2 932.3 -63.0 928.4 -62.2 923.2 -67.7 919.8 -72.4 917.4 -78.1 915.1 -80.7 919.9 -82.2 924.1Z" fill="url(#d45)"/>
<path d="M-99.8 920.9 -94.5 924.6 -89.9 926.9 -84.0 929.1 -81.6 924.4 -80.1 920.2 -78.9 914.6 -84.0 910.9 -88.3 908.3 -93.7 905.8 -96.6 910.8 -98.4 915.2Z" fill="url(#d55)"/>
<path d="M-115.3 911.5 -110.5 915.4 -106.2 918.0 -100.6 920.5 -97.9 915.6 -96.1 911.1 -94.5 905.3 -99.1 901.4 -103.1 898.7 -108.1 896.1 -111.4 901.2 -113.5 905.7Z" fill="url(#d05)"/>
<path d="M-129.6 901.8 -125.3 905.8 -121.3 908.5 -116.1 911.1 -113.0 906.0 -110.9 901.5 -108.8 895.6 -112.9 891.6 -116.5 888.9 -121.1 886.3 -124.8 891.4 -127.3 895.9Z" fill="url(#d15)"/>
<path d="M-142.5 892.0 -138.7 896.0 -135.1 898.7 -130.3 901.3 -126.8 896.2 -124.3 891.7 -121.7 885.8 -125.3 881.9 -128.5 879.3 -132.7 876.9 -136.7 881.8 -139.6 886.2Z" fill="url(#d25)"/>
<path d="M-153.9 882.6 -150.7 886.4 -147.5 889.0 -143.1 891.5 -139.2 886.5 -136.4 882.1 -133.2 876.4 -136.2 872.8 -139.0 870.4 -142.8 868.3 -147.3 872.9 -150.5 877.1Z" fill="url(#d35)"/>
<path d="M-155.8 871.6 -156.3 876.0 -156.6 879.3 -154.5 882.1 -150.2 877.4 -146.9 873.2 -143.2 867.8 -145.7 864.6 -148.1 862.6 -151.4 860.8 -154.5 864.5 -155.1 867.4Z" fill="url(#d45)"/>
<path d="M-153.5 861.0 -154.5 864.8 -155.2 867.8 -155.7 871.1 -155.2 867.8 -154.5 864.8 -151.8 860.5 -152.3 857.3 -151.3 854.8 -150.1 852.2 -151.3 854.8 -152.3 857.3Z" fill="url(#d54)"/>
<path d="M-149.9 851.8 -151.4 855.1 -152.4 857.6 -153.4 860.5 -152.4 857.6 -151.4 855.1 -149.9 851.8 -148.2 848.8 -146.9 846.8 -145.4 844.7 -146.9 846.8 -148.2 848.8Z" fill="url(#d04)"/>
<path d="M37.6 946.0 40.9 945.0 44.0 944.0 48.2 942.6 52.4 941.3 55.5 940.3 58.8 939.2 55.5 940.3 52.4 941.3 47.6 942.8 44.0 944.0 40.9 945.0Z" fill="url(#d50)"/>
<path d="M25.5 949.8 29.7 948.5 32.8 947.5 37.0 946.2 41.2 944.9 44.3 943.9 46.7 943.1 40.7 944.8 35.5 946.0 29.1 947.4 27.1 948.6 26.0 949.4Z" fill="url(#d01)"/>
<path d="M7.0 954.2 13.1 953.1 18.3 951.9 24.7 950.1 26.8 949.2 27.8 948.5 28.2 947.6 21.9 948.4 16.6 948.9 10.1 949.7 8.2 951.6 7.3 952.9Z" fill="url(#d12)"/>
<path d="M-12.0 956.3 -5.7 956.0 -0.4 955.4 6.1 954.3 8.0 952.8 8.9 951.5 9.2 949.7 2.8 949.7 -2.5 949.6 -9.2 949.7 -11.0 952.2 -11.8 954.2Z" fill="url(#d22)"/>
<path d="M-31.2 956.1 -24.9 956.7 -19.5 956.8 -12.9 956.3 -11.1 954.2 -10.3 952.3 -10.1 949.7 -16.4 948.8 -21.8 948.1 -28.4 947.6 -30.2 950.7 -31.0 953.2Z" fill="url(#d33)"/>
<path d="M-50.4 953.8 -44.1 955.2 -38.7 955.9 -32.1 956.1 -30.3 953.3 -29.5 950.8 -29.3 947.5 -35.6 945.8 -40.8 944.6 -47.3 943.5 -49.2 947.1 -50.1 950.2Z" fill="url(#d43)"/>
<path d="M-69.3 949.6 -63.1 951.7 -57.8 952.9 -51.3 953.7 -49.4 950.4 -48.5 947.3 -48.2 943.3 -54.3 940.9 -59.4 939.2 -65.7 937.6 -67.8 941.7 -68.8 945.2Z" fill="url(#d54)"/>
<path d="M-87.6 943.6 -81.6 946.3 -76.6 948.0 -70.2 949.3 -68.2 945.5 -67.1 942.0 -66.6 937.3 -72.4 934.3 -77.3 932.3 -83.4 930.2 -85.7 934.8 -86.9 938.7Z" fill="url(#d04)"/>
<path d="M-105.2 936.1 -99.5 939.4 -94.7 941.4 -88.5 943.3 -86.3 939.0 -85.1 935.1 -84.2 929.9 -89.7 926.4 -94.3 924.0 -100.1 921.7 -102.7 926.5 -104.2 930.7Z" fill="url(#d14)"/>
<path d="M-121.8 927.5 -116.6 931.1 -111.9 933.5 -106.0 935.7 -103.6 931.0 -102.1 926.8 -100.9 921.3 -106.0 917.5 -110.3 914.9 -115.7 912.4 -118.6 917.4 -120.4 921.8Z" fill="url(#d25)"/>
<path d="M-137.3 918.1 -132.5 922.0 -128.2 924.6 -122.6 927.0 -119.9 922.1 -118.1 917.7 -116.4 911.9 -121.1 907.9 -125.0 905.2 -130.0 902.6 -133.3 907.7 -135.4 912.2Z" fill="url(#d35)"/>
<path d="M-151.5 908.2 -147.2 912.3 -143.3 915.0 -138.0 917.6 -135.0 912.5 -132.8 908.0 -130.7 902.1 -134.8 898.1 -138.4 895.4 -143.0 892.8 -146.7 897.8 -149.2 902.3Z" fill="url(#d45)"/>
<path d="M-156.2 896.0 -155.6 900.9 -155.1 904.5 -152.2 907.7 -148.7 902.7 -146.2 898.1 -143.6 892.3 -147.2 888.4 -150.3 885.8 -154.5 883.4 -156.7 887.7 -156.6 891.2Z" fill="url(#d55)"/>
<path d="M-156.7 883.4 -156.7 888.1 -156.5 891.6 -156.3 895.4 -156.5 891.6 -156.7 888.1 -155.0 882.9 -156.5 878.8 -156.3 875.6 -155.9 872.2 -156.3 875.6 -156.5 878.8Z" fill="url(#d05)"/>
<path d="M-155.8 871.6 -156.3 876.0 -156.6 879.2 -156.7 882.8 -156.6 879.2 -156.3 876.0 -155.8 871.6 -155.1 867.4 -154.5 864.5 -153.7 861.5 -154.5 864.5 -155.1 867.4Z" fill="url(#d15)"/>
<path d="M15.2 953.0 18.5 952.0 21.6 951.0 25.8 949.7 30.1 948.4 33.2 947.4 36.5 946.4 33.2 947.4 30.1 948.4 25.4 949.9 21.6 951.0 18.5 952.0Z" fill="url(#d20)"/>
<path d="M3.3 956.7 7.3 955.5 10.4 954.5 14.7 953.2 18.9 951.9 22.0 950.9 24.5 950.1 18.5 951.8 13.3 953.0 6.9 954.4 4.9 955.6 3.9 956.3Z" fill="url(#d31)"/>
<path d="M-15.2 961.0 -9.0 959.9 -3.9 958.7 2.5 957.0 4.6 956.1 5.6 955.4 6.0 954.5 -0.2 955.3 -5.5 955.9 -12.1 956.6 -14.0 958.4 -14.9 959.8Z" fill="url(#d41)"/>
<path d="M-34.2 963.1 -27.9 962.8 -22.6 962.3 -16.1 961.2 -14.2 959.7 -13.3 958.4 -13.0 956.6 -19.4 956.6 -24.7 956.5 -31.3 956.5 -33.1 959.0 -34.0 961.0Z" fill="url(#d52)"/>
<path d="M-53.4 962.9 -47.0 963.5 -41.7 963.5 -35.1 963.1 -33.2 961.0 -32.4 959.1 -32.2 956.5 -38.6 955.6 -43.9 954.9 -50.5 954.4 -52.3 957.5 -53.2 960.0Z" fill="url(#d03)"/>
<path d="M-72.5 960.5 -66.2 961.9 -60.9 962.6 -54.3 962.8 -52.5 960.1 -51.6 957.6 -51.4 954.2 -57.7 952.5 -62.9 951.3 -69.4 950.2 -71.3 953.8 -72.2 956.9Z" fill="url(#d13)"/>
<path d="M-91.4 956.2 -85.2 958.3 -80.0 959.5 -73.4 960.4 -71.5 957.1 -70.6 954.0 -70.3 950.0 -76.4 947.6 -81.5 945.9 -87.8 944.3 -89.9 948.4 -90.9 951.9Z" fill="url(#d24)"/>
<path d="M-109.7 950.1 -103.7 952.9 -98.6 954.6 -92.3 956.0 -90.3 952.1 -89.2 948.6 -88.7 944.0 -94.5 941.0 -99.4 938.9 -105.4 936.8 -107.7 941.4 -109.0 945.3Z" fill="url(#d34)"/>
<path d="M-127.2 942.6 -121.6 945.9 -116.7 948.0 -110.5 949.8 -108.4 945.5 -107.1 941.7 -106.3 936.5 -111.7 933.0 -116.4 930.6 -122.1 928.3 -124.7 933.1 -126.2 937.3Z" fill="url(#d44)"/>
<path d="M-143.8 934.0 -138.6 937.6 -134.0 940.0 -128.1 942.2 -125.6 937.6 -124.1 933.4 -122.9 927.8 -128.0 924.0 -132.3 921.4 -137.6 918.9 -140.6 923.9 -142.4 928.3Z" fill="url(#d55)"/>
<path d="M-151.1 922.1 -149.5 927.0 -148.3 930.5 -144.6 933.5 -141.9 928.6 -140.1 924.2 -138.4 918.4 -143.0 914.4 -146.9 911.7 -151.9 909.0 -153.3 913.6 -152.5 917.2Z" fill="url(#d05)"/>
<path d="M-154.3 909.1 -153.2 914.0 -152.3 917.6 -151.3 921.5 -152.3 917.6 -153.2 914.0 -152.6 908.6 -155.2 904.1 -155.7 900.5 -156.1 896.7 -155.7 900.5 -155.2 904.1Z" fill="url(#d15)"/>
<path d="M-156.2 896.0 -155.7 900.9 -155.1 904.5 -154.4 908.4 -155.1 904.5 -155.7 900.9 -156.2 896.0 -156.6 891.2 -156.7 887.7 -156.7 884.0 -156.7 887.7 -156.6 891.2Z" fill="url(#d25)"/>
<path d="M-7.1 959.9 -3.8 958.9 -0.7 958.0 3.5 956.7 7.7 955.4 10.8 954.4 14.1 953.4 10.8 954.4 7.7 955.4 3.2 956.8 -0.7 958.0 -3.8 958.9Z" fill="url(#d50)"/>
<path d="M-18.9 963.5 -15.0 962.3 -11.9 961.4 -7.7 960.1 -3.4 958.8 -0.3 957.9 2.4 957.0 -3.7 958.6 -8.8 959.8 -15.3 961.2 -17.3 962.4 -18.3 963.1Z" fill="url(#d01)"/>
<path d="M-37.4 967.8 -31.2 966.7 -26.1 965.5 -19.7 963.7 -17.6 962.9 -16.6 962.3 -16.2 961.4 -22.4 962.1 -27.7 962.7 -34.3 963.4 -36.1 965.2 -37.0 966.5Z" fill="url(#d11)"/>
<path d="M-56.4 969.8 -50.0 969.6 -44.8 969.0 -38.3 967.9 -36.3 966.5 -35.4 965.2 -35.2 963.4 -41.5 963.3 -46.9 963.3 -53.5 963.3 -55.3 965.8 -56.1 967.7Z" fill="url(#d22)"/>
<path d="M-75.5 969.5 -69.2 970.1 -63.8 970.2 -57.2 969.8 -55.4 967.7 -54.6 965.8 -54.4 963.2 -60.7 962.3 -66.1 961.7 -72.6 961.0 -74.5 964.1 -75.3 966.6Z" fill="url(#d32)"/>
<path d="M-94.6 967.1 -88.3 968.6 -83.0 969.2 -76.4 969.5 -74.6 966.7 -73.8 964.3 -73.5 960.9 -79.8 959.2 -85.0 958.0 -91.5 956.8 -93.4 960.5 -94.4 963.5Z" fill="url(#d43)"/>
<path d="M-113.5 962.8 -107.3 964.9 -102.1 966.1 -95.5 967.0 -93.7 963.7 -92.8 960.7 -92.4 956.6 -98.5 954.2 -103.6 952.5 -109.8 950.8 -112.0 955.0 -113.0 958.5Z" fill="url(#d53)"/>
<path d="M-131.7 956.7 -125.8 959.5 -120.7 961.2 -114.4 962.5 -112.4 958.7 -111.3 955.2 -110.7 950.5 -116.6 947.6 -121.4 945.4 -127.4 943.4 -129.8 947.9 -131.0 951.8Z" fill="url(#d04)"/>
<path d="M-141.0 946.7 -138.7 951.0 -136.9 953.9 -132.6 956.4 -130.4 952.1 -129.2 948.2 -128.3 943.0 -133.8 939.5 -138.4 937.1 -144.1 934.7 -144.8 939.0 -143.3 942.3Z" fill="url(#d14)"/>
<path d="M-146.6 934.8 -144.6 939.4 -143.1 942.7 -141.3 946.1 -143.1 942.7 -144.6 939.4 -144.9 934.3 -148.4 930.1 -149.7 926.5 -150.9 922.8 -149.7 926.5 -148.4 930.1Z" fill="url(#d25)"/>
<path d="M-151.1 922.1 -149.5 927.0 -148.3 930.5 -146.9 934.2 -148.3 930.5 -149.5 927.0 -151.1 922.1 -152.5 917.2 -153.3 913.6 -154.2 909.7 -153.3 913.6 -152.5 917.2Z" fill="url(#d35)"/>
<path d="M-29.4 966.7 -26.2 965.7 -23.1 964.8 -18.8 963.5 -14.6 962.2 -11.5 961.3 -8.2 960.3 -11.5 961.3 -14.6 962.2 -19.0 963.5 -23.1 964.8 -26.2 965.7Z" fill="url(#d20)"/>
<path d="M-41.0 970.2 -37.3 969.1 -34.2 968.1 -30.0 966.9 -25.8 965.6 -22.7 964.7 -19.8 963.8 -25.9 965.4 -31.0 966.6 -37.5 967.9 -39.5 969.1 -40.5 969.8Z" fill="url(#d31)"/>
<path d="M-59.6 974.4 -53.4 973.4 -48.2 972.2 -41.9 970.4 -39.8 969.6 -38.8 969.0 -38.4 968.1 -44.6 968.8 -49.9 969.4 -56.4 970.1 -58.3 971.9 -59.2 973.2Z" fill="url(#d41)"/>
<path d="M-78.5 976.4 -72.2 976.2 -66.9 975.6 -60.4 974.6 -58.5 973.1 -57.6 971.9 -57.3 970.1 -63.7 970.0 -69.0 969.9 -75.6 969.9 -77.4 972.4 -78.3 974.3Z" fill="url(#d52)"/>
<path d="M-97.7 976.1 -91.3 976.7 -86.0 976.8 -79.4 976.4 -77.6 974.3 -76.7 972.5 -76.5 969.9 -82.9 969.0 -88.2 968.3 -94.7 967.7 -96.6 970.7 -97.4 973.2Z" fill="url(#d02)"/>
<path d="M-116.8 973.7 -110.5 975.1 -105.2 975.8 -98.6 976.0 -96.7 973.3 -95.9 970.9 -95.7 967.5 -101.9 965.8 -107.1 964.6 -113.6 963.4 -115.5 967.0 -116.5 970.0Z" fill="url(#d13)"/>
<path d="M-127.3 966.9 -124.4 970.0 -122.3 972.1 -117.7 973.5 -115.8 970.2 -114.9 967.2 -114.5 963.2 -120.6 960.8 -125.7 959.0 -131.9 957.4 -132.1 960.9 -130.1 963.5Z" fill="url(#d23)"/>
<path d="M-134.5 957.5 -131.9 961.3 -129.9 963.8 -127.7 966.5 -129.9 963.8 -131.9 961.3 -132.8 957.0 -137.1 953.6 -138.9 950.6 -140.7 947.3 -138.9 950.6 -137.1 953.6Z" fill="url(#d34)"/>
<path d="M-141.0 946.7 -138.7 951.0 -136.9 954.0 -134.9 957.0 -136.9 954.0 -138.7 951.0 -141.0 946.7 -143.3 942.3 -144.8 939.0 -146.4 935.4 -144.8 939.0 -143.3 942.3Z" fill="url(#d44)"/>
<path d="M-63.2 976.8 -59.6 975.7 -56.6 974.8 -52.3 973.5 -48.1 972.3 -45.0 971.4 -42.0 970.5 -48.0 972.1 -53.2 973.3 -59.7 974.6 -61.6 975.8 -62.7 976.4Z" fill="url(#d01)"/>
<path d="M-81.7 981.0 -75.6 979.9 -70.4 978.7 -64.1 977.0 -62.0 976.2 -60.9 975.6 -60.5 974.7 -66.8 975.5 -72.0 976.0 -78.6 976.7 -80.5 978.5 -81.4 979.8Z" fill="url(#d11)"/>
<path d="M-100.7 982.9 -94.4 982.7 -89.1 982.2 -82.6 981.1 -80.7 979.7 -79.8 978.5 -79.5 976.7 -85.8 976.6 -91.2 976.5 -97.8 976.5 -99.6 979.0 -100.4 980.9Z" fill="url(#d22)"/>
<path d="M-111.5 980.2 -108.4 981.8 -106.2 982.8 -101.6 983.0 -99.7 980.9 -98.9 979.0 -98.7 976.5 -105.0 975.5 -110.3 974.8 -116.9 974.2 -116.8 976.7 -114.6 978.3Z" fill="url(#d32)"/>
<path d="M-119.5 974.5 -116.5 976.9 -114.3 978.5 -111.9 980.0 -114.3 978.5 -116.5 976.9 -117.8 974.0 -122.5 971.9 -124.7 969.7 -126.9 967.3 -124.7 969.7 -122.5 971.9Z" fill="url(#d43)"/>
<path d="M-127.3 966.9 -124.4 970.0 -122.3 972.1 -119.9 974.2 -122.3 972.1 -124.4 970.0 -127.3 966.9 -130.1 963.5 -132.1 960.9 -134.2 958.0 -132.1 960.9 -130.1 963.5Z" fill="url(#d53)"/>
<path d="M-85.4 983.3 -82.0 982.3 -78.9 981.4 -74.7 980.1 -70.4 978.9 -67.3 978.0 -64.2 977.1 -70.2 978.7 -75.4 979.8 -81.8 981.1 -83.8 982.3 -84.8 982.9Z" fill="url(#d31)"/>
<path d="M-95.6 985.1 -92.7 985.0 -90.6 984.7 -86.2 983.5 -84.1 982.8 -83.1 982.2 -82.7 981.3 -88.9 982.0 -94.2 982.6 -100.8 983.2 -100.7 984.5 -98.5 984.8Z" fill="url(#d41)"/>
<path d="M-103.4 983.7 -100.4 984.5 -98.2 984.9 -95.9 985.0 -98.2 984.9 -100.4 984.5 -101.7 983.2 -106.5 982.7 -108.7 981.7 -111.1 980.4 -108.7 981.7 -106.5 982.7Z" fill="url(#d52)"/>
<path d="M-111.5 980.2 -108.4 981.8 -106.2 982.8 -103.8 983.6 -106.2 982.8 -108.4 981.8 -111.5 980.2 -114.6 978.3 -116.8 976.7 -119.1 974.9 -116.8 976.7 -114.6 978.3Z" fill="url(#d02)"/>
<path d="M-88.1 984.1 -88.1 984.1 -88.1 984.1 -88.1 984.1 -88.1 984.1 -88.1 984.1 -86.4 983.6 -90.9 984.7 -92.9 985.0 -95.2 985.1 -92.9 985.0 -90.9 984.7Z" fill="url(#d01)"/>
<path d="M-95.6 985.1 -92.7 985.0 -90.6 984.7 -88.5 984.2 -90.6 984.7 -92.7 985.0 -95.6 985.1 -98.5 984.8 -100.7 984.5 -103.0 983.9 -100.7 984.5 -98.5 984.8Z" fill="url(#d11)"/>
</g></g>
<g clip-path="url(#bodyclip)" fill="none" stroke="#6f8f80" stroke-opacity="0.75"><path d="M-5.0,795.0 L-1.4,793.7 L2.2,792.4 L5.8,791.2 L9.5,789.9 L13.1,788.6 L16.7,787.4 L20.4,786.1 L24.0,784.9 L27.7,783.6 L31.3,782.4 L34.9,781.2 L38.6,779.9 L42.2,778.7 L45.9,777.4 L49.5,776.2 L53.2,774.9 L56.8,773.6 L60.4,772.4 L64.1,771.1 L67.7,769.8 L71.3,768.5 L75.0,767.2 L78.6,765.9 L82.2,764.6 L85.8,763.2 L89.4,761.9 L93.0,760.5 L96.6,759.2 L100.2,757.8 L103.8,756.4 L107.3,755.0 L110.9,753.5 L114.5,752.1 L118.0,750.6 L121.6,749.2 L125.1,747.7 L128.6,746.2 L132.1,744.7 L135.7,743.2 L139.2,741.7 L142.7,740.1 L146.2,738.6 L149.7,737.1 L153.2,735.5 L156.7,734.0 L160.2,732.4 L163.7,730.8 L167.2,729.2 L170.7,727.7 L174.2,726.1 L177.7,724.5 L181.2,722.9 L184.7,721.3 L188.2,719.7 L191.7,718.1 L195.2,716.5 L198.7,714.9 L202.2,713.3 L205.7,711.7 L209.2,710.1 L212.7,708.5 L216.3,706.8 L219.8,705.2 L223.3,703.6 L226.8,702.0 L230.3,700.4 L233.8,698.7 L237.3,697.1 L240.8,695.4 L244.2,693.7 L247.7,692.0 L251.1,690.3 L254.6,688.5 L258.0,686.7 L261.3,684.9 L264.7,683.0 L268.0,681.2 L271.4,679.2 L274.6,677.3 L277.9,675.3 L281.1,673.2 L284.3,671.2 L287.5,669.0 L290.6,666.9 L293.7,664.6 L296.7,662.4 L299.8,660.0 L302.8,657.7 L305.7,655.3 L308.7,652.9 L311.6,650.4 L314.6,648.0 L317.5,645.5 L320.4,643.0 L323.3,640.5 L326.2,637.9 L329.1,635.4 L331.9,632.8 L334.8,630.2 L337.6,627.6 L340.4,624.9 L343.1,622.3 L345.8,619.5 L348.5,616.7 L351.1,613.9 L353.6,611.0 L356.1,608.1 L358.5,605.1 L360.8,602.1 L363.1,599.0 L365.2,595.8 L367.3,592.6 L369.2,589.3 L371.1,586.0 L372.8,582.6 L374.4,579.1 L375.8,575.6 L377.2,572.0 L378.4,568.4 L379.5,564.7 L380.5,561.0 L381.3,557.3 L382.1,553.5 L382.7,549.7 L383.2,545.9 L383.6,542.0 L383.9,538.2 L384.1,534.3 L384.2,530.4 L384.2,526.5 L384.1,522.6 L383.9,518.8 L383.6,514.9" stroke-width="2.2"/><path d="M556.6,514.8 L556.8,517.6 L556.9,520.3 L557.0,523.0 L557.1,525.7 L557.1,528.4 L557.1,531.1 L557.0,533.7 L557.0,536.4 L556.9,539.1 L556.7,541.7 L556.5,544.4 L556.3,547.0 L556.1,549.7 L555.8,552.3 L555.5,554.9 L555.2,557.5 L554.8,560.2 L554.4,562.8 L554.0,565.4 L553.5,568.0 L553.1,570.6 L552.6,573.1 L552.0,575.7 L551.5,578.3 L550.9,580.9 L550.3,583.4 L549.6,586.0 L549.0,588.5 L548.3,591.1 L547.6,593.6 L546.9,596.2 L546.1,598.7 L545.3,601.2 L544.5,603.7 L543.7,606.2 L542.9,608.7 L542.0,611.3 L541.2,613.8 L540.3,616.2 L539.3,618.7 L538.4,621.2 L537.5,623.7 L536.5,626.2 L535.5,628.6 L534.5,631.1 L533.5,633.6 L532.4,636.0 L531.4,638.5 L530.3,640.9 L529.2,643.3 L528.1,645.8 L527.0,648.2 L525.8,650.6 L524.7,653.0 L523.5,655.4 L522.3,657.8 L521.1,660.2 L519.9,662.5 L518.6,664.9 L517.4,667.3 L516.1,669.6 L514.8,672.0 L513.6,674.3 L512.3,676.6 L510.9,678.9 L509.6,681.2 L508.2,683.5 L506.9,685.8 L505.5,688.1 L504.1,690.3 L502.7,692.6 L501.2,694.8 L499.8,697.0 L498.3,699.2 L496.8,701.4 L495.3,703.5 L493.7,705.6 L492.2,707.8 L490.6,709.8 L489.0,711.9 L487.3,714.0 L485.7,716.0 L484.0,718.0 L482.3,720.0 L480.5,721.9 L478.8,723.9 L477.0,725.8 L475.2,727.7 L473.4,729.6 L471.6,731.5 L469.7,733.4 L467.8,735.2 L466.0,737.0 L464.0,738.8 L462.1,740.6 L460.2,742.4 L458.2,744.2 L456.3,745.9 L454.3,747.7 L452.3,749.4 L450.3,751.1 L448.3,752.8 L446.3,754.5 L444.2,756.2 L442.2,757.9 L440.1,759.6 L438.1,761.2 L436.0,762.9 L433.9,764.5 L431.8,766.2 L429.7,767.8 L427.6,769.4 L425.5,771.0 L423.4,772.7 L421.3,774.3 L419.2,775.9 L417.0,777.5 L414.9,779.1 L412.8,780.7 L410.7,782.3 L408.6,783.9 L406.4,785.5 L404.3,787.1 L402.2,788.6 L400.1,790.2 L397.9,791.8 L395.8,793.4 L393.7,795.0 L391.6,796.6 L389.5,798.2 L387.4,799.8 L385.3,801.4 L383.2,803.1" stroke-width="2.6"/></g>
<path d="M388,492 Q384.5,497 384.5,508 L384.5,528 A85.8,50 0 0 0 556.5,528 L556.5,508 Q556.5,497 554.5,492 Z" fill="#5c5c5c"/>
<path d="M389,494 Q386.5,499 386.5,509 L386.5,528 A84,48 0 0 0 554.5,528 L554.5,509 Q554.5,499 553.5,494 Z" fill="url(#sleeveG)"/>
<path d="M387.5,440 L553.5,440 L553.5,505 L387.5,505 Z" fill="url(#sleeveG)"/>
<ellipse cx="470.5" cy="441.5" rx="83" ry="63.5" fill="#6c6c6c"/>
<ellipse cx="470.5" cy="441.5" rx="74" ry="55.5" fill="#0a0b0d"/>
<g clip-path="url(#holeclip)">
<linearGradient id="igbl" x1="0" x2="1" y1="0" y2="0"><stop offset="0" stop-color="#0a2a60"/><stop offset="0.3" stop-color="#1a5ab0"/><stop offset="0.6" stop-color="#1a5aa8"/><stop offset="1" stop-color="#0a2050"/></linearGradient>
<path d="M420.00,372.00 L420.00,500.00 L462.00,500.00 L462.00,372.00 A21.00,11.00 0 0 0 420.00,372.00 Z" fill="url(#igbl)"/>
<ellipse cx="441" cy="372" rx="17.5" ry="9.075" fill="#061530"/>
<clipPath id="cbbl"><path d="M421.70,257.00 L421.70,372.00 A19.30,9.00 0 0 0 460.30,372.00 L460.30,257.00 A19.30,12.50 0 0 0 421.70,257.00 Z"/></clipPath>
<g clip-path="url(#cbbl)">
<path d="M421.70,257.00 L421.70,372.00 A19.30,9.00 0 0 0 460.30,372.00 L460.30,257.00 A19.30,12.50 0 0 0 421.70,257.00 Z" fill="#4a3010"/>
<g filter="url(#soft2)">
<path d="M421.72,241.50 L421.70,245.95" fill="none" stroke="#706845" stroke-width="0.40" stroke-linecap="round"/>
<path d="M422.79,241.50 L422.63,245.95 L422.49,250.41 L422.35,254.86 L422.23,259.31 L422.12,263.77 L422.02,268.22 L421.94,272.67" fill="none" stroke="#7e754d" stroke-width="0.66" stroke-linecap="round"/>
<path d="M422.12,263.77 L422.02,268.22 L421.94,272.67 L421.87,277.12 L421.81,281.58 L421.76,286.03 L421.73,290.48 L421.71,294.94 L421.70,299.39" fill="none" stroke="#746c48" stroke-width="0.40" stroke-linecap="round"/>
<path d="M421.73,290.48 L421.71,294.94 L421.70,299.39" fill="none" stroke="#706745" stroke-width="0.40" stroke-linecap="round"/>
<path d="M424.61,241.50 L424.35,245.95 L424.10,250.41 L423.87,254.86 L423.64,259.31 L423.43,263.77 L423.23,268.22 L423.04,272.67" fill="none" stroke="#908558" stroke-width="1.21" stroke-linecap="round"/>
<path d="M423.43,263.77 L423.23,268.22 L423.04,272.67 L422.87,277.12 L422.70,281.58 L422.55,286.03 L422.41,290.48 L422.28,294.94 L422.17,299.39" fill="none" stroke="#847a51" stroke-width="0.86" stroke-linecap="round"/>
<path d="M422.41,290.48 L422.28,294.94 L422.17,299.39 L422.06,303.84 L421.97,308.30 L421.90,312.75 L421.83,317.20 L421.78,321.66 L421.74,326.11" fill="none" stroke="#79704a" stroke-width="0.45" stroke-linecap="round"/>
<path d="M421.83,317.20 L421.78,321.66 L421.74,326.11 L421.72,330.56 L421.70,335.02" fill="none" stroke="#726946" stroke-width="0.40" stroke-linecap="round"/>
<path d="M426.90,241.50 L426.57,245.95 L426.24,250.41 L425.93,254.86 L425.62,259.31 L425.32,263.77 L425.04,268.22 L424.76,272.67" fill="none" stroke="#8d723e" stroke-width="1.66" stroke-linecap="round"/>
<path d="M425.32,263.77 L425.04,268.22 L424.76,272.67 L424.50,277.12 L424.25,281.58 L424.00,286.03 L423.77,290.48 L423.56,294.94 L423.35,299.39" fill="none" stroke="#806838" stroke-width="1.34" stroke-linecap="round"/>
<path d="M423.77,290.48 L423.56,294.94 L423.35,299.39 L423.15,303.84 L422.97,308.30 L422.80,312.75 L422.64,317.20 L422.49,321.66 L422.35,326.11" fill="none" stroke="#745e33" stroke-width="0.96" stroke-linecap="round"/>
<path d="M422.64,317.20 L422.49,321.66 L422.35,326.11 L422.23,330.56 L422.12,335.02 L422.03,339.47 L421.94,343.92 L421.87,348.38 L421.81,352.83" fill="none" stroke="#6a562e" stroke-width="0.56" stroke-linecap="round"/>
<path d="M421.94,343.92 L421.87,348.38 L421.81,352.83 L421.76,357.28 L421.73,361.73 L421.71,366.19 L421.70,370.64" fill="none" stroke="#63502b" stroke-width="0.40" stroke-linecap="round"/>
<path d="M429.88,241.50 L429.48,245.95 L429.08,250.41 L428.70,254.86 L428.32,259.31 L427.94,263.77 L427.58,268.22 L427.23,272.67" fill="none" stroke="#a38447" stroke-width="2.05" stroke-linecap="round"/>
<path d="M427.94,263.77 L427.58,268.22 L427.23,272.67 L426.88,277.12 L426.55,281.58 L426.22,286.03 L425.91,290.48 L425.60,294.94 L425.31,299.39" fill="none" stroke="#947741" stroke-width="1.79" stroke-linecap="round"/>
<path d="M425.91,290.48 L425.60,294.94 L425.31,299.39 L425.02,303.84 L424.75,308.30 L424.48,312.75 L424.23,317.20 L423.99,321.66 L423.76,326.11" fill="none" stroke="#856b3a" stroke-width="1.45" stroke-linecap="round"/>
<path d="M424.23,317.20 L423.99,321.66 L423.76,326.11 L423.54,330.56 L423.33,335.02 L423.14,339.47 L422.96,343.92 L422.79,348.38 L422.63,352.83" fill="none" stroke="#786135" stroke-width="1.09" stroke-linecap="round"/>
<path d="M422.96,343.92 L422.79,348.38 L422.63,352.83 L422.48,357.28 L422.35,361.73 L422.22,366.19 L422.12,370.64 L422.02,375.09 L421.94,379.55" fill="none" stroke="#6d5830" stroke-width="0.69" stroke-linecap="round"/>
<path d="M422.12,370.64 L422.02,375.09 L421.94,379.55 L421.86,384.00" fill="none" stroke="#68542d" stroke-width="0.45" stroke-linecap="round"/>
<path d="M434.76,241.50 L434.29,245.95 L433.83,250.41 L433.37,254.86 L432.91,259.31 L432.46,263.77 L432.02,268.22 L431.58,272.67" fill="none" stroke="#e0cf89" stroke-width="2.46" stroke-linecap="round"/>
<path d="M432.46,263.77 L432.02,268.22 L431.58,272.67 L431.15,277.12 L430.72,281.58 L430.30,286.03 L429.89,290.48 L429.49,294.94 L429.09,299.39" fill="none" stroke="#cfbf7f" stroke-width="2.28" stroke-linecap="round"/>
<path d="M429.89,290.48 L429.49,294.94 L429.09,299.39 L428.71,303.84 L428.32,308.30 L427.95,312.75 L427.59,317.20 L427.24,321.66 L426.89,326.11" fill="none" stroke="#bbad73" stroke-width="2.03" stroke-linecap="round"/>
<path d="M427.59,317.20 L427.24,321.66 L426.89,326.11 L426.56,330.56 L426.23,335.02 L425.91,339.47 L425.61,343.92 L425.31,348.38 L425.03,352.83" fill="none" stroke="#a89c68" stroke-width="1.73" stroke-linecap="round"/>
<path d="M425.61,343.92 L425.31,348.38 L425.03,352.83 L424.75,357.28 L424.49,361.73 L424.24,366.19 L424.00,370.64 L423.77,375.09 L423.55,379.55" fill="none" stroke="#988c5d" stroke-width="1.40" stroke-linecap="round"/>
<path d="M424.00,370.64 L423.77,375.09 L423.55,379.55 L423.34,384.00" fill="none" stroke="#8f8458" stroke-width="1.18" stroke-linecap="round"/>
<path d="M437.48,241.50 L436.99,245.95 L436.51,250.41 L436.02,254.86 L435.54,259.31 L435.07,263.77 L434.60,268.22 L434.13,272.67" fill="none" stroke="#efdd93" stroke-width="2.59" stroke-linecap="round"/>
<path d="M435.07,263.77 L434.60,268.22 L434.13,272.67 L433.66,277.12 L433.21,281.58 L432.75,286.03 L432.30,290.48 L431.86,294.94 L431.43,299.39" fill="none" stroke="#e0cf8a" stroke-width="2.46" stroke-linecap="round"/>
<path d="M432.30,290.48 L431.86,294.94 L431.43,299.39 L431.00,303.84 L430.57,308.30 L430.16,312.75 L429.75,317.20 L429.35,321.66 L428.95,326.11" fill="none" stroke="#cebe7e" stroke-width="2.27" stroke-linecap="round"/>
<path d="M429.75,317.20 L429.35,321.66 L428.95,326.11 L428.57,330.56 L428.19,335.02 L427.82,339.47 L427.46,343.92 L427.11,348.38 L426.77,352.83" fill="none" stroke="#baac72" stroke-width="2.02" stroke-linecap="round"/>
<path d="M427.46,343.92 L427.11,348.38 L426.77,352.83 L426.44,357.28 L426.12,361.73 L425.80,366.19 L425.50,370.64 L425.21,375.09 L424.93,379.55" fill="none" stroke="#a79b67" stroke-width="1.72" stroke-linecap="round"/>
<path d="M425.50,370.64 L425.21,375.09 L424.93,379.55 L424.66,384.00" fill="none" stroke="#9d9261" stroke-width="1.52" stroke-linecap="round"/>
<path d="M443.37,241.50 L442.87,245.95 L442.38,250.41 L441.88,254.86 L441.38,259.31 L440.88,263.77 L440.39,268.22 L439.89,272.67" fill="none" stroke="#ffee9e" stroke-width="2.69" stroke-linecap="round"/>
<path d="M440.88,263.77 L440.39,268.22 L439.89,272.67 L439.39,277.12 L438.89,281.58 L438.40,286.03 L437.91,290.48 L437.42,294.94 L436.93,299.39" fill="none" stroke="#fbe99a" stroke-width="2.68" stroke-linecap="round"/>
<path d="M437.91,290.48 L437.42,294.94 L436.93,299.39 L436.44,303.84 L435.96,308.30 L435.48,312.75 L435.00,317.20 L434.53,321.66 L434.06,326.11" fill="none" stroke="#efde93" stroke-width="2.60" stroke-linecap="round"/>
<path d="M435.00,317.20 L434.53,321.66 L434.06,326.11 L433.60,330.56 L433.14,335.02 L432.69,339.47 L432.24,343.92 L431.80,348.38 L431.37,352.83" fill="none" stroke="#e0cf89" stroke-width="2.46" stroke-linecap="round"/>
<path d="M432.24,343.92 L431.80,348.38 L431.37,352.83 L430.94,357.28 L430.52,361.73 L430.10,366.19 L429.69,370.64 L429.29,375.09 L428.90,379.55" fill="none" stroke="#cdbe7e" stroke-width="2.26" stroke-linecap="round"/>
<path d="M429.69,370.64 L429.29,375.09 L428.90,379.55 L428.52,384.00" fill="none" stroke="#c2b477" stroke-width="2.12" stroke-linecap="round"/>
<path d="M446.38,241.50 L445.90,245.95 L445.42,250.41 L444.93,254.86 L444.44,259.31 L443.95,263.77 L443.46,268.22 L442.96,272.67" fill="none" stroke="#ffee9e" stroke-width="2.65" stroke-linecap="round"/>
<path d="M443.95,263.77 L443.46,268.22 L442.96,272.67 L442.47,277.12 L441.97,281.58 L441.47,286.03 L440.97,290.48 L440.47,294.94 L439.98,299.39" fill="none" stroke="#ffee9e" stroke-width="2.69" stroke-linecap="round"/>
<path d="M440.97,290.48 L440.47,294.94 L439.98,299.39 L439.48,303.84 L438.98,308.30 L438.49,312.75 L437.99,317.20 L437.50,321.66 L437.01,326.11" fill="none" stroke="#fbe99b" stroke-width="2.68" stroke-linecap="round"/>
<path d="M437.99,317.20 L437.50,321.66 L437.01,326.11 L436.53,330.56 L436.04,335.02 L435.56,339.47 L435.09,343.92 L434.61,348.38 L434.15,352.83" fill="none" stroke="#f0de93" stroke-width="2.60" stroke-linecap="round"/>
<path d="M435.09,343.92 L434.61,348.38 L434.15,352.83 L433.68,357.28 L433.22,361.73 L432.77,366.19 L432.32,370.64 L431.88,375.09 L431.44,379.55" fill="none" stroke="#e0d08a" stroke-width="2.47" stroke-linecap="round"/>
<path d="M432.32,370.64 L431.88,375.09 L431.44,379.55 L431.01,384.00" fill="none" stroke="#d6c683" stroke-width="2.36" stroke-linecap="round"/>
<path d="M450.09,241.50 L449.64,245.95 L449.20,250.41 L448.74,254.86 L448.28,259.31 L447.82,263.77 L447.35,268.22 L446.88,272.67" fill="none" stroke="#f9e699" stroke-width="2.48" stroke-linecap="round"/>
<path d="M447.82,263.77 L447.35,268.22 L446.88,272.67 L446.40,277.12 L445.92,281.58 L445.44,286.03 L444.95,290.48 L444.46,294.94 L443.97,299.39" fill="none" stroke="#ffed9d" stroke-width="2.60" stroke-linecap="round"/>
<path d="M444.95,290.48 L444.46,294.94 L443.97,299.39 L443.48,303.84 L442.98,308.30 L442.48,312.75 L441.99,317.20 L441.49,321.66 L440.99,326.11" fill="none" stroke="#ffef9f" stroke-width="2.68" stroke-linecap="round"/>
<path d="M441.99,317.20 L441.49,321.66 L440.99,326.11 L440.49,330.56 L439.99,335.02 L439.50,339.47 L439.00,343.92 L438.50,348.38 L438.01,352.83" fill="none" stroke="#feeb9c" stroke-width="2.69" stroke-linecap="round"/>
<path d="M439.00,343.92 L438.50,348.38 L438.01,352.83 L437.52,357.28 L437.03,361.73 L436.54,366.19 L436.06,370.64 L435.58,375.09 L435.10,379.55" fill="none" stroke="#f4e296" stroke-width="2.64" stroke-linecap="round"/>
<path d="M436.06,370.64 L435.58,375.09 L435.10,379.55 L434.63,384.00" fill="none" stroke="#eddb91" stroke-width="2.58" stroke-linecap="round"/>
<path d="M454.17,241.50 L453.81,245.95 L453.43,250.41 L453.04,254.86 L452.65,259.31 L452.25,263.77 L451.84,268.22 L451.42,272.67" fill="none" stroke="#e1d08a" stroke-width="2.13" stroke-linecap="round"/>
<path d="M452.25,263.77 L451.84,268.22 L451.42,272.67 L451.00,277.12 L450.57,281.58 L450.13,286.03 L449.69,290.48 L449.24,294.94 L448.79,299.39" fill="none" stroke="#efdd93" stroke-width="2.34" stroke-linecap="round"/>
<path d="M449.69,290.48 L449.24,294.94 L448.79,299.39 L448.33,303.84 L447.87,308.30 L447.40,312.75 L446.93,317.20 L446.45,321.66 L445.97,326.11" fill="none" stroke="#fbe89a" stroke-width="2.52" stroke-linecap="round"/>
<path d="M446.93,317.20 L446.45,321.66 L445.97,326.11 L445.49,330.56 L445.00,335.02 L444.51,339.47 L444.02,343.92 L443.53,348.38 L443.03,352.83" fill="none" stroke="#ffee9e" stroke-width="2.64" stroke-linecap="round"/>
<path d="M444.02,343.92 L443.53,348.38 L443.03,352.83 L442.54,357.28 L442.04,361.73 L441.54,366.19 L441.04,370.64 L440.55,375.09 L440.05,379.55" fill="none" stroke="#ffee9e" stroke-width="2.69" stroke-linecap="round"/>
<path d="M441.04,370.64 L440.55,375.09 L440.05,379.55 L439.55,384.00" fill="none" stroke="#ffec9d" stroke-width="2.70" stroke-linecap="round"/>
<path d="M456.78,241.50 L456.49,245.95 L456.19,250.41 L455.87,254.86 L455.55,259.31 L455.22,263.77 L454.88,268.22 L454.53,272.67" fill="none" stroke="#c8b97b" stroke-width="1.74" stroke-linecap="round"/>
<path d="M455.22,263.77 L454.88,268.22 L454.53,272.67 L454.17,277.12 L453.80,281.58 L453.42,286.03 L453.03,290.48 L452.64,294.94 L452.24,299.39" fill="none" stroke="#daca86" stroke-width="2.02" stroke-linecap="round"/>
<path d="M453.03,290.48 L452.64,294.94 L452.24,299.39 L451.83,303.84 L451.41,308.30 L450.99,312.75 L450.56,317.20 L450.12,321.66 L449.68,326.11" fill="none" stroke="#ead990" stroke-width="2.27" stroke-linecap="round"/>
<path d="M450.56,317.20 L450.12,321.66 L449.68,326.11 L449.23,330.56 L448.78,335.02 L448.32,339.47 L447.86,343.92 L447.39,348.38 L446.92,352.83" fill="none" stroke="#f7e598" stroke-width="2.47" stroke-linecap="round"/>
<path d="M447.86,343.92 L447.39,348.38 L446.92,352.83 L446.44,357.28 L445.96,361.73 L445.48,366.19 L444.99,370.64 L444.50,375.09 L444.01,379.55" fill="none" stroke="#ffed9d" stroke-width="2.60" stroke-linecap="round"/>
<path d="M444.99,370.64 L444.50,375.09 L444.01,379.55 L443.52,384.00" fill="none" stroke="#ffef9f" stroke-width="2.66" stroke-linecap="round"/>
<path d="M458.85,241.50 L458.65,245.95 L458.45,250.41 L458.23,254.86 L458.00,259.31 L457.75,263.77 L457.50,268.22 L457.24,272.67" fill="none" stroke="#ab9f69" stroke-width="1.25" stroke-linecap="round"/>
<path d="M457.75,263.77 L457.50,268.22 L457.24,272.67 L456.96,277.12 L456.68,281.58 L456.38,286.03 L456.07,290.48 L455.76,294.94 L455.43,299.39" fill="none" stroke="#beb075" stroke-width="1.57" stroke-linecap="round"/>
<path d="M456.07,290.48 L455.76,294.94 L455.43,299.39 L455.10,303.84 L454.75,308.30 L454.40,312.75 L454.03,317.20 L453.66,321.66 L453.28,326.11" fill="none" stroke="#d1c281" stroke-width="1.89" stroke-linecap="round"/>
<path d="M454.03,317.20 L453.66,321.66 L453.28,326.11 L452.89,330.56 L452.50,335.02 L452.09,339.47 L451.68,343.92 L451.26,348.38 L450.84,352.83" fill="none" stroke="#e3d38c" stroke-width="2.16" stroke-linecap="round"/>
<path d="M451.68,343.92 L451.26,348.38 L450.84,352.83 L450.40,357.28 L449.97,361.73 L449.52,366.19 L449.07,370.64 L448.62,375.09 L448.15,379.55" fill="none" stroke="#f2e095" stroke-width="2.39" stroke-linecap="round"/>
<path d="M449.07,370.64 L448.62,375.09 L448.15,379.55 L447.69,384.00" fill="none" stroke="#f9e799" stroke-width="2.49" stroke-linecap="round"/>
<path d="M460.05,241.50 L459.97,245.95 L459.87,250.41 L459.76,254.86 L459.64,259.31 L459.50,263.77 L459.35,268.22 L459.19,272.67" fill="none" stroke="#8d8357" stroke-width="0.67" stroke-linecap="round"/>
<path d="M459.50,263.77 L459.35,268.22 L459.19,272.67 L459.02,277.12 L458.84,281.58 L458.64,286.03 L458.43,290.48 L458.21,294.94 L457.98,299.39" fill="none" stroke="#a09462" stroke-width="1.03" stroke-linecap="round"/>
<path d="M458.43,290.48 L458.21,294.94 L457.98,299.39 L457.74,303.84 L457.48,308.30 L457.22,312.75 L456.94,317.20 L456.66,321.66 L456.36,326.11" fill="none" stroke="#b4a76f" stroke-width="1.40" stroke-linecap="round"/>
<path d="M456.94,317.20 L456.66,321.66 L456.36,326.11 L456.05,330.56 L455.74,335.02 L455.41,339.47 L455.07,343.92 L454.73,348.38 L454.37,352.83" fill="none" stroke="#c8b97b" stroke-width="1.74" stroke-linecap="round"/>
<path d="M455.07,343.92 L454.73,348.38 L454.37,352.83 L454.01,357.28 L453.64,361.73 L453.26,366.19 L452.87,370.64 L452.47,375.09 L452.07,379.55" fill="none" stroke="#dbcb87" stroke-width="2.04" stroke-linecap="round"/>
<path d="M452.87,370.64 L452.47,375.09 L452.07,379.55 L451.65,384.00" fill="none" stroke="#e5d48d" stroke-width="2.19" stroke-linecap="round"/>
<path d="M460.30,263.77 L460.28,268.22 L460.26,272.67 L460.22,277.12 L460.16,281.58 L460.10,286.03 L460.02,290.48 L459.93,294.94" fill="none" stroke="#7b724c" stroke-width="0.40" stroke-linecap="round"/>
<path d="M460.10,286.03 L460.02,290.48 L459.93,294.94 L459.83,299.39 L459.71,303.84 L459.58,308.30 L459.44,312.75 L459.29,317.20 L459.12,321.66" fill="none" stroke="#8d8357" stroke-width="0.66" stroke-linecap="round"/>
<path d="M459.44,312.75 L459.29,317.20 L459.12,321.66 L458.95,326.11 L458.76,330.56 L458.56,335.02 L458.34,339.47 L458.12,343.92 L457.88,348.38" fill="none" stroke="#a19563" stroke-width="1.06" stroke-linecap="round"/>
<path d="M458.34,339.47 L458.12,343.92 L457.88,348.38 L457.64,352.83 L457.38,357.28 L457.11,361.73 L456.83,366.19 L456.54,370.64 L456.24,375.09" fill="none" stroke="#b5a86f" stroke-width="1.43" stroke-linecap="round"/>
<path d="M456.83,366.19 L456.54,370.64 L456.24,375.09 L455.93,379.55 L455.60,384.00" fill="none" stroke="#c3b478" stroke-width="1.66" stroke-linecap="round"/>
<path d="M460.30,299.39 L460.28,303.84 L460.26,308.30 L460.22,312.75 L460.17,317.20 L460.10,321.66 L460.02,326.11 L459.93,330.56" fill="none" stroke="#7b724c" stroke-width="0.40" stroke-linecap="round"/>
<path d="M460.10,321.66 L460.02,326.11 L459.93,330.56 L459.83,335.02 L459.71,339.47 L459.58,343.92 L459.44,348.38 L459.29,352.83 L459.13,357.28" fill="none" stroke="#8d8357" stroke-width="0.66" stroke-linecap="round"/>
<path d="M459.44,348.38 L459.29,352.83 L459.13,357.28 L458.95,361.73 L458.76,366.19 L458.56,370.64 L458.35,375.09 L458.12,379.55 L457.89,384.00" fill="none" stroke="#a19563" stroke-width="1.05" stroke-linecap="round"/>
<path d="M458.35,375.09 L458.12,379.55 L457.89,384.00" fill="none" stroke="#ab9f69" stroke-width="1.25" stroke-linecap="round"/>
<path d="M460.30,343.92 L460.28,348.38 L460.25,352.83 L460.21,357.28 L460.16,361.73 L460.09,366.19 L460.01,370.64 L459.92,375.09" fill="none" stroke="#6a562e" stroke-width="0.40" stroke-linecap="round"/>
<path d="M460.09,366.19 L460.01,370.64 L459.92,375.09 L459.82,379.55 L459.70,384.00" fill="none" stroke="#745e33" stroke-width="0.53" stroke-linecap="round"/>
<path d="M460.30,366.19 L460.29,370.64 L460.27,375.09 L460.24,379.55 L460.20,384.00" fill="none" stroke="#746c48" stroke-width="0.40" stroke-linecap="round"/>
</g>
<rect x="421.7" y="241.5" width="38.6" height="146.5" fill="url(#cshade)"/>
</g>
<ellipse cx="441" cy="257" rx="19.3" ry="12.5" fill="#2e1e08"/>
<g filter="url(#soft2)">
<ellipse cx="442.54" cy="247.05" rx="3.47" ry="2.50" fill="#cbbd8a"/>
<ellipse cx="434.65" cy="247.88" rx="3.47" ry="2.50" fill="#d0c18d"/>
<ellipse cx="450.02" cy="248.88" rx="3.47" ry="2.50" fill="#dccc95"/>
<ellipse cx="428.47" cy="251.16" rx="3.47" ry="2.50" fill="#d4c490"/>
<ellipse cx="439.12" cy="251.64" rx="3.47" ry="2.50" fill="#cfbf8c"/>
<ellipse cx="455.08" cy="252.89" rx="3.47" ry="2.50" fill="#d7c792"/>
<ellipse cx="447.23" cy="253.26" rx="3.47" ry="2.50" fill="#daca94"/>
<ellipse cx="432.89" cy="255.37" rx="3.47" ry="2.50" fill="#d9c994"/>
<ellipse cx="425.64" cy="256.00" rx="3.47" ry="2.50" fill="#d3c38f"/>
<ellipse cx="441.00" cy="257.00" rx="3.47" ry="2.50" fill="#f0eed6"/>
<ellipse cx="456.36" cy="258.00" rx="3.47" ry="2.50" fill="#d6c691"/>
<ellipse cx="449.11" cy="258.63" rx="3.47" ry="2.50" fill="#dccc95"/>
<ellipse cx="434.77" cy="260.74" rx="3.47" ry="2.50" fill="#d6c691"/>
<ellipse cx="426.92" cy="261.11" rx="3.47" ry="2.50" fill="#d3c48f"/>
<ellipse cx="442.88" cy="262.36" rx="3.47" ry="2.50" fill="#d5c691"/>
<ellipse cx="453.53" cy="262.84" rx="3.47" ry="2.50" fill="#cbbc8a"/>
<ellipse cx="431.98" cy="265.12" rx="3.47" ry="2.50" fill="#ccbd8a"/>
<ellipse cx="447.35" cy="266.12" rx="3.47" ry="2.50" fill="#daca94"/>
<ellipse cx="439.46" cy="266.95" rx="3.47" ry="2.50" fill="#e0d098"/>
</g>
<clipPath id="cbbm"><path d="M470.00,249.00 L470.00,398.00 A19.50,9.00 0 0 0 509.00,398.00 L509.00,249.00 A19.50,13.00 0 0 0 470.00,249.00 Z"/></clipPath>
<g clip-path="url(#cbbm)">
<path d="M470.00,249.00 L470.00,398.00 A19.50,9.00 0 0 0 509.00,398.00 L509.00,249.00 A19.50,13.00 0 0 0 470.00,249.00 Z" fill="#4a3010"/>
<g filter="url(#soft2)">
<path d="M470.05,233.00 L470.02,238.53 L470.00,244.06" fill="none" stroke="#706845" stroke-width="0.40" stroke-linecap="round"/>
<path d="M470.83,233.00 L470.66,238.53 L470.51,244.06 L470.38,249.59 L470.26,255.12 L470.17,260.66 L470.10,266.19 L470.05,271.72" fill="none" stroke="#79704b" stroke-width="0.48" stroke-linecap="round"/>
<path d="M470.17,260.66 L470.10,266.19 L470.05,271.72 L470.01,277.25 L470.00,282.78" fill="none" stroke="#726a46" stroke-width="0.40" stroke-linecap="round"/>
<path d="M472.53,233.00 L472.23,238.53 L471.95,244.06 L471.69,249.59 L471.44,255.12 L471.22,260.66 L471.01,266.19 L470.82,271.72" fill="none" stroke="#8a8055" stroke-width="1.06" stroke-linecap="round"/>
<path d="M471.22,260.66 L471.01,266.19 L470.82,271.72 L470.65,277.25 L470.50,282.78 L470.37,288.31 L470.26,293.84 L470.17,299.38 L470.09,304.91" fill="none" stroke="#7d734d" stroke-width="0.60" stroke-linecap="round"/>
<path d="M470.26,293.84 L470.17,299.38 L470.09,304.91 L470.04,310.44 L470.01,315.97 L470.00,321.50" fill="none" stroke="#736a47" stroke-width="0.40" stroke-linecap="round"/>
<path d="M474.92,233.00 L474.51,238.53 L474.12,244.06 L473.74,249.59 L473.38,255.12 L473.04,260.66 L472.71,266.19 L472.40,271.72" fill="none" stroke="#9f9362" stroke-width="1.55" stroke-linecap="round"/>
<path d="M473.04,260.66 L472.71,266.19 L472.40,271.72 L472.11,277.25 L471.84,282.78 L471.58,288.31 L471.34,293.84 L471.13,299.38 L470.93,304.91" fill="none" stroke="#8d8357" stroke-width="1.14" stroke-linecap="round"/>
<path d="M471.34,293.84 L471.13,299.38 L470.93,304.91 L470.74,310.44 L470.58,315.97 L470.44,321.50 L470.32,327.03 L470.22,332.56 L470.13,338.09" fill="none" stroke="#7e754d" stroke-width="0.65" stroke-linecap="round"/>
<path d="M470.32,327.03 L470.22,332.56 L470.13,338.09 L470.07,343.62 L470.03,349.16 L470.00,354.69" fill="none" stroke="#746c47" stroke-width="0.40" stroke-linecap="round"/>
<path d="M478.59,233.00 L478.08,238.53 L477.58,244.06 L477.09,249.59 L476.61,255.12 L476.15,260.66 L475.70,266.19 L475.26,271.72" fill="none" stroke="#a28347" stroke-width="2.05" stroke-linecap="round"/>
<path d="M476.15,260.66 L475.70,266.19 L475.26,271.72 L474.84,277.25 L474.44,282.78 L474.05,288.31 L473.68,293.84 L473.32,299.38 L472.98,304.91" fill="none" stroke="#90753f" stroke-width="1.71" stroke-linecap="round"/>
<path d="M473.68,293.84 L473.32,299.38 L472.98,304.91 L472.65,310.44 L472.35,315.97 L472.06,321.50 L471.79,327.03 L471.54,332.56 L471.30,338.09" fill="none" stroke="#7e6637" stroke-width="1.28" stroke-linecap="round"/>
<path d="M471.79,327.03 L471.54,332.56 L471.30,338.09 L471.09,343.62 L470.89,349.16 L470.71,354.69 L470.55,360.22 L470.42,365.75 L470.30,371.28" fill="none" stroke="#705b31" stroke-width="0.80" stroke-linecap="round"/>
<path d="M470.55,360.22 L470.42,365.75 L470.30,371.28 L470.20,376.81 L470.12,382.34 L470.06,387.88 L470.02,393.41 L470.00,398.94" fill="none" stroke="#65522c" stroke-width="0.40" stroke-linecap="round"/>
<path d="M482.83,233.00 L482.25,238.53 L481.67,244.06 L481.10,249.59 L480.54,255.12 L479.99,260.66 L479.45,266.19 L478.92,271.72" fill="none" stroke="#dbcb86" stroke-width="2.41" stroke-linecap="round"/>
<path d="M479.99,260.66 L479.45,266.19 L478.92,271.72 L478.40,277.25 L477.89,282.78 L477.39,288.31 L476.91,293.84 L476.44,299.38 L475.98,304.91" fill="none" stroke="#c5b779" stroke-width="2.16" stroke-linecap="round"/>
<path d="M476.91,293.84 L476.44,299.38 L475.98,304.91 L475.54,310.44 L475.11,315.97 L474.69,321.50 L474.29,327.03 L473.91,332.56 L473.54,338.09" fill="none" stroke="#ada16b" stroke-width="1.82" stroke-linecap="round"/>
<path d="M474.29,327.03 L473.91,332.56 L473.54,338.09 L473.19,343.62 L472.86,349.16 L472.54,354.69 L472.24,360.22 L471.96,365.75 L471.69,371.28" fill="none" stroke="#988d5d" stroke-width="1.40" stroke-linecap="round"/>
<path d="M472.24,360.22 L471.96,365.75 L471.69,371.28 L471.45,376.81 L471.22,382.34 L471.01,387.88 L470.82,393.41 L470.65,398.94 L470.50,404.47" fill="none" stroke="#867c53" stroke-width="0.94" stroke-linecap="round"/>
<path d="M470.82,393.41 L470.65,398.94 L470.50,404.47 L470.37,410.00" fill="none" stroke="#7e744d" stroke-width="0.65" stroke-linecap="round"/>
<path d="M486.20,233.00 L485.59,238.53 L484.98,244.06 L484.37,249.59 L483.77,255.12 L483.17,260.66 L482.59,266.19 L482.00,271.72" fill="none" stroke="#eedc92" stroke-width="2.59" stroke-linecap="round"/>
<path d="M483.17,260.66 L482.59,266.19 L482.00,271.72 L481.43,277.25 L480.87,282.78 L480.31,288.31 L479.76,293.84 L479.23,299.38 L478.70,304.91" fill="none" stroke="#dbcb87" stroke-width="2.41" stroke-linecap="round"/>
<path d="M479.76,293.84 L479.23,299.38 L478.70,304.91 L478.18,310.44 L477.68,315.97 L477.19,321.50 L476.71,327.03 L476.25,332.56 L475.79,338.09" fill="none" stroke="#c3b578" stroke-width="2.14" stroke-linecap="round"/>
<path d="M476.71,327.03 L476.25,332.56 L475.79,338.09 L475.36,343.62 L474.93,349.16 L474.52,354.69 L474.13,360.22 L473.75,365.75 L473.39,371.28" fill="none" stroke="#ac9f6a" stroke-width="1.79" stroke-linecap="round"/>
<path d="M474.13,360.22 L473.75,365.75 L473.39,371.28 L473.05,376.81 L472.72,382.34 L472.41,387.88 L472.12,393.41 L471.84,398.94 L471.59,404.47" fill="none" stroke="#978b5d" stroke-width="1.37" stroke-linecap="round"/>
<path d="M472.12,393.41 L471.84,398.94 L471.59,404.47 L471.35,410.00" fill="none" stroke="#8c8256" stroke-width="1.11" stroke-linecap="round"/>
<path d="M489.85,233.00 L489.22,238.53 L488.60,244.06 L487.97,249.59 L487.35,255.12 L486.73,260.66 L486.11,266.19 L485.50,271.72" fill="none" stroke="#fce99b" stroke-width="2.68" stroke-linecap="round"/>
<path d="M486.73,260.66 L486.11,266.19 L485.50,271.72 L484.89,277.25 L484.28,282.78 L483.68,288.31 L483.09,293.84 L482.50,299.38 L481.92,304.91" fill="none" stroke="#efdd93" stroke-width="2.59" stroke-linecap="round"/>
<path d="M483.09,293.84 L482.50,299.38 L481.92,304.91 L481.35,310.44 L480.78,315.97 L480.23,321.50 L479.68,327.03 L479.15,332.56 L478.62,338.09" fill="none" stroke="#daca86" stroke-width="2.41" stroke-linecap="round"/>
<path d="M479.68,327.03 L479.15,332.56 L478.62,338.09 L478.11,343.62 L477.61,349.16 L477.12,354.69 L476.64,360.22 L476.18,365.75 L475.73,371.28" fill="none" stroke="#c3b478" stroke-width="2.13" stroke-linecap="round"/>
<path d="M476.64,360.22 L476.18,365.75 L475.73,371.28 L475.29,376.81 L474.87,382.34 L474.46,387.88 L474.07,393.41 L473.70,398.94 L473.34,404.47" fill="none" stroke="#ab9f69" stroke-width="1.78" stroke-linecap="round"/>
<path d="M474.07,393.41 L473.70,398.94 L473.34,404.47 L473.00,410.00" fill="none" stroke="#9e9361" stroke-width="1.55" stroke-linecap="round"/>
<path d="M494.90,233.00 L494.30,238.53 L493.69,244.06 L493.08,249.59 L492.46,255.12 L491.84,260.66 L491.22,266.19 L490.59,271.72" fill="none" stroke="#ffef9e" stroke-width="2.65" stroke-linecap="round"/>
<path d="M491.84,260.66 L491.22,266.19 L490.59,271.72 L489.97,277.25 L489.34,282.78 L488.72,288.31 L488.09,293.84 L487.47,299.38 L486.85,304.91" fill="none" stroke="#ffed9d" stroke-width="2.69" stroke-linecap="round"/>
<path d="M488.09,293.84 L487.47,299.38 L486.85,304.91 L486.23,310.44 L485.62,315.97 L485.00,321.50 L484.40,327.03 L483.80,332.56 L483.20,338.09" fill="none" stroke="#f5e396" stroke-width="2.64" stroke-linecap="round"/>
<path d="M484.40,327.03 L483.80,332.56 L483.20,338.09 L482.61,343.62 L482.03,349.16 L481.46,354.69 L480.89,360.22 L480.33,365.75 L479.79,371.28" fill="none" stroke="#e2d28b" stroke-width="2.49" stroke-linecap="round"/>
<path d="M480.89,360.22 L480.33,365.75 L479.79,371.28 L479.25,376.81 L478.72,382.34 L478.21,387.88 L477.70,393.41 L477.21,398.94 L476.73,404.47" fill="none" stroke="#ccbd7d" stroke-width="2.24" stroke-linecap="round"/>
<path d="M477.70,393.41 L477.21,398.94 L476.73,404.47 L476.27,410.00" fill="none" stroke="#beb075" stroke-width="2.07" stroke-linecap="round"/>
<path d="M498.80,233.00 L498.25,238.53 L497.69,244.06 L497.11,249.59 L496.54,255.12 L495.95,260.66 L495.35,266.19 L494.76,271.72" fill="none" stroke="#d7ae5e" stroke-width="2.50" stroke-linecap="round"/>
<path d="M495.95,260.66 L495.35,266.19 L494.76,271.72 L494.15,277.25 L493.54,282.78 L492.93,288.31 L492.31,293.84 L491.69,299.38 L491.07,304.91" fill="none" stroke="#ddb361" stroke-width="2.63" stroke-linecap="round"/>
<path d="M492.31,293.84 L491.69,299.38 L491.07,304.91 L490.44,310.44 L489.82,315.97 L489.19,321.50 L488.57,327.03 L487.94,332.56 L487.32,338.09" fill="none" stroke="#ddb361" stroke-width="2.69" stroke-linecap="round"/>
<path d="M488.57,327.03 L487.94,332.56 L487.32,338.09 L486.70,343.62 L486.08,349.16 L485.47,354.69 L484.86,360.22 L484.25,365.75 L483.65,371.28" fill="none" stroke="#d4ac5d" stroke-width="2.65" stroke-linecap="round"/>
<path d="M484.86,360.22 L484.25,365.75 L483.65,371.28 L483.06,376.81 L482.47,382.34 L481.89,387.88 L481.32,393.41 L480.76,398.94 L480.20,404.47" fill="none" stroke="#c5a056" stroke-width="2.51" stroke-linecap="round"/>
<path d="M481.32,393.41 L480.76,398.94 L480.20,404.47 L479.66,410.00" fill="none" stroke="#ba9752" stroke-width="2.39" stroke-linecap="round"/>
<path d="M502.58,233.00 L502.10,238.53 L501.62,244.06 L501.12,249.59 L500.62,255.12 L500.10,260.66 L499.57,266.19 L499.03,271.72" fill="none" stroke="#e5d48d" stroke-width="2.19" stroke-linecap="round"/>
<path d="M500.10,260.66 L499.57,266.19 L499.03,271.72 L498.47,277.25 L497.91,282.78 L497.35,288.31 L496.77,293.84 L496.19,299.38 L495.59,304.91" fill="none" stroke="#f5e397" stroke-width="2.43" stroke-linecap="round"/>
<path d="M496.77,293.84 L496.19,299.38 L495.59,304.91 L495.00,310.44 L494.39,315.97 L493.79,321.50 L493.17,327.03 L492.56,332.56 L491.94,338.09" fill="none" stroke="#ffed9d" stroke-width="2.60" stroke-linecap="round"/>
<path d="M493.17,327.03 L492.56,332.56 L491.94,338.09 L491.32,343.62 L490.69,349.16 L490.07,354.69 L489.44,360.22 L488.82,365.75 L488.19,371.28" fill="none" stroke="#ffee9e" stroke-width="2.69" stroke-linecap="round"/>
<path d="M489.44,360.22 L488.82,365.75 L488.19,371.28 L487.57,376.81 L486.95,382.34 L486.33,387.88 L485.71,393.41 L485.10,398.94 L484.49,404.47" fill="none" stroke="#fae799" stroke-width="2.67" stroke-linecap="round"/>
<path d="M485.71,393.41 L485.10,398.94 L484.49,404.47 L483.89,410.00" fill="none" stroke="#f1e094" stroke-width="2.62" stroke-linecap="round"/>
<path d="M505.17,233.00 L504.79,238.53 L504.39,244.06 L503.98,249.59 L503.56,255.12 L503.12,260.66 L502.66,266.19 L502.19,271.72" fill="none" stroke="#cebf7f" stroke-width="1.83" stroke-linecap="round"/>
<path d="M503.12,260.66 L502.66,266.19 L502.19,271.72 L501.71,277.25 L501.22,282.78 L500.71,288.31 L500.19,293.84 L499.66,299.38 L499.13,304.91" fill="none" stroke="#e3d28b" stroke-width="2.15" stroke-linecap="round"/>
<path d="M500.19,293.84 L499.66,299.38 L499.13,304.91 L498.58,310.44 L498.02,315.97 L497.45,321.50 L496.88,327.03 L496.29,332.56 L495.70,338.09" fill="none" stroke="#f5e396" stroke-width="2.42" stroke-linecap="round"/>
<path d="M496.88,327.03 L496.29,332.56 L495.70,338.09 L495.11,343.62 L494.51,349.16 L493.90,354.69 L493.29,360.22 L492.67,365.75 L492.05,371.28" fill="none" stroke="#ffed9d" stroke-width="2.60" stroke-linecap="round"/>
<path d="M493.29,360.22 L492.67,365.75 L492.05,371.28 L491.43,376.81 L490.81,382.34 L490.18,387.88 L489.56,393.41 L488.93,398.94 L488.31,404.47" fill="none" stroke="#ffee9e" stroke-width="2.68" stroke-linecap="round"/>
<path d="M489.56,393.41 L488.93,398.94 L488.31,404.47 L487.68,410.00" fill="none" stroke="#ffec9c" stroke-width="2.70" stroke-linecap="round"/>
<path d="M507.42,233.00 L507.17,238.53 L506.89,244.06 L506.60,249.59 L506.29,255.12 L505.96,260.66 L505.62,266.19 L505.26,271.72" fill="none" stroke="#b0a36c" stroke-width="1.33" stroke-linecap="round"/>
<path d="M505.96,260.66 L505.62,266.19 L505.26,271.72 L504.88,277.25 L504.49,282.78 L504.08,288.31 L503.66,293.84 L503.22,299.38 L502.77,304.91" fill="none" stroke="#c7b87a" stroke-width="1.72" stroke-linecap="round"/>
<path d="M503.66,293.84 L503.22,299.38 L502.77,304.91 L502.31,310.44 L501.83,315.97 L501.34,321.50 L500.84,327.03 L500.32,332.56 L499.79,338.09" fill="none" stroke="#dece89" stroke-width="2.08" stroke-linecap="round"/>
<path d="M500.84,327.03 L500.32,332.56 L499.79,338.09 L499.26,343.62 L498.71,349.16 L498.16,354.69 L497.59,360.22 L497.02,365.75 L496.44,371.28" fill="none" stroke="#f1e094" stroke-width="2.37" stroke-linecap="round"/>
<path d="M497.59,360.22 L497.02,365.75 L496.44,371.28 L495.85,376.81 L495.25,382.34 L494.65,387.88 L494.05,393.41 L493.44,398.94 L492.82,404.47" fill="none" stroke="#feeb9c" stroke-width="2.57" stroke-linecap="round"/>
<path d="M494.05,393.41 L493.44,398.94 L492.82,404.47 L492.20,410.00" fill="none" stroke="#ffef9e" stroke-width="2.65" stroke-linecap="round"/>
<path d="M508.74,233.00 L508.63,238.53 L508.49,244.06 L508.34,249.59 L508.17,255.12 L507.98,260.66 L507.77,266.19 L507.55,271.72" fill="none" stroke="#7d6537" stroke-width="0.73" stroke-linecap="round"/>
<path d="M507.98,260.66 L507.77,266.19 L507.55,271.72 L507.30,277.25 L507.03,282.78 L506.75,288.31 L506.45,293.84 L506.13,299.38 L505.80,304.91" fill="none" stroke="#90753f" stroke-width="1.18" stroke-linecap="round"/>
<path d="M506.45,293.84 L506.13,299.38 L505.80,304.91 L505.45,310.44 L505.08,315.97 L504.69,321.50 L504.29,327.03 L503.88,332.56 L503.45,338.09" fill="none" stroke="#a68649" stroke-width="1.62" stroke-linecap="round"/>
<path d="M504.29,327.03 L503.88,332.56 L503.45,338.09 L503.01,343.62 L502.55,349.16 L502.08,354.69 L501.59,360.22 L501.09,365.75 L500.59,371.28" fill="none" stroke="#ba9752" stroke-width="2.00" stroke-linecap="round"/>
<path d="M501.59,360.22 L501.09,365.75 L500.59,371.28 L500.07,376.81 L499.53,382.34 L498.99,387.88 L498.44,393.41 L497.88,398.94 L497.31,404.47" fill="none" stroke="#cca559" stroke-width="2.31" stroke-linecap="round"/>
<path d="M498.44,393.41 L497.88,398.94 L497.31,404.47 L496.74,410.00" fill="none" stroke="#d4ac5d" stroke-width="2.45" stroke-linecap="round"/>
<path d="M509.00,249.59 L508.97,255.12 L508.93,260.66 L508.87,266.19 L508.78,271.72 L508.68,277.25 L508.56,282.78 L508.41,288.31" fill="none" stroke="#7f754e" stroke-width="0.40" stroke-linecap="round"/>
<path d="M508.68,277.25 L508.56,282.78 L508.41,288.31 L508.25,293.84 L508.07,299.38 L507.87,304.91 L507.65,310.44 L507.41,315.97 L507.16,321.50" fill="none" stroke="#958a5c" stroke-width="0.82" stroke-linecap="round"/>
<path d="M507.65,310.44 L507.41,315.97 L507.16,321.50 L506.88,327.03 L506.59,332.56 L506.28,338.09 L505.95,343.62 L505.61,349.16 L505.25,354.69" fill="none" stroke="#aea16b" stroke-width="1.30" stroke-linecap="round"/>
<path d="M505.95,343.62 L505.61,349.16 L505.25,354.69 L504.87,360.22 L504.48,365.75 L504.07,371.28 L503.65,376.81 L503.21,382.34 L502.76,387.88" fill="none" stroke="#c7b87a" stroke-width="1.72" stroke-linecap="round"/>
<path d="M503.65,376.81 L503.21,382.34 L502.76,387.88 L502.29,393.41 L501.81,398.94 L501.32,404.47 L500.82,410.00" fill="none" stroke="#dbcb86" stroke-width="2.03" stroke-linecap="round"/>
<path d="M509.00,288.31 L508.99,293.84 L508.96,299.38 L508.91,304.91 L508.84,310.44 L508.74,315.97 L508.63,321.50 L508.50,327.03" fill="none" stroke="#6b562f" stroke-width="0.40" stroke-linecap="round"/>
<path d="M508.74,315.97 L508.63,321.50 L508.50,327.03 L508.35,332.56 L508.18,338.09 L507.99,343.62 L507.79,349.16 L507.56,354.69 L507.32,360.22" fill="none" stroke="#7e6637" stroke-width="0.77" stroke-linecap="round"/>
<path d="M507.79,349.16 L507.56,354.69 L507.32,360.22 L507.05,365.75 L506.77,371.28 L506.47,376.81 L506.15,382.34 L505.82,387.88 L505.47,393.41" fill="none" stroke="#947741" stroke-width="1.25" stroke-linecap="round"/>
<path d="M506.15,382.34 L505.82,387.88 L505.47,393.41 L505.10,398.94 L504.72,404.47 L504.32,410.00" fill="none" stroke="#a48548" stroke-width="1.58" stroke-linecap="round"/>
<path d="M509.00,327.03 L508.98,332.56 L508.94,338.09 L508.88,343.62 L508.80,349.16 L508.70,354.69 L508.58,360.22 L508.44,365.75" fill="none" stroke="#6c582f" stroke-width="0.40" stroke-linecap="round"/>
<path d="M508.70,354.69 L508.58,360.22 L508.44,365.75 L508.28,371.28 L508.10,376.81 L507.90,382.34 L507.69,387.88 L507.45,393.41 L507.20,398.94" fill="none" stroke="#806738" stroke-width="0.81" stroke-linecap="round"/>
<path d="M507.69,387.88 L507.45,393.41 L507.20,398.94 L506.93,404.47 L506.64,410.00" fill="none" stroke="#8e733e" stroke-width="1.13" stroke-linecap="round"/>
<path d="M509.00,365.75 L508.98,371.28 L508.94,376.81 L508.88,382.34 L508.80,387.88 L508.71,393.41 L508.59,398.94 L508.45,404.47" fill="none" stroke="#6c582f" stroke-width="0.40" stroke-linecap="round"/>
<path d="M508.71,393.41 L508.59,398.94 L508.45,404.47 L508.29,410.00" fill="none" stroke="#776034" stroke-width="0.59" stroke-linecap="round"/>
<path d="M509.00,398.94 L508.97,404.47 L508.93,410.00" fill="none" stroke="#64512c" stroke-width="0.40" stroke-linecap="round"/>
</g>
<rect x="470.0" y="233" width="39.0" height="181" fill="url(#cshade)"/>
<linearGradient id="shbm" gradientUnits="userSpaceOnUse" x1="0" y1="370" x2="0" y2="405"><stop offset="0" stop-color="#101008" stop-opacity="0"/><stop offset="1" stop-color="#101008" stop-opacity="0.9"/></linearGradient>
<rect x="470.0" y="370" width="39.0" height="39" fill="url(#shbm)"/>
</g>
<ellipse cx="489.5" cy="249" rx="19.5" ry="13" fill="#2e1e08"/>
<g filter="url(#soft2)">
<ellipse cx="491.06" cy="238.65" rx="3.51" ry="2.60" fill="#dece97"/>
<ellipse cx="483.09" cy="239.52" rx="3.51" ry="2.60" fill="#d5c590"/>
<ellipse cx="498.61" cy="240.56" rx="3.51" ry="2.60" fill="#d7c792"/>
<ellipse cx="476.84" cy="242.93" rx="3.51" ry="2.60" fill="#dfce97"/>
<ellipse cx="487.60" cy="243.42" rx="3.51" ry="2.60" fill="#dbca94"/>
<ellipse cx="503.72" cy="244.73" rx="3.51" ry="2.60" fill="#d5c691"/>
<ellipse cx="495.79" cy="245.11" rx="3.51" ry="2.60" fill="#d0c08d"/>
<ellipse cx="481.30" cy="247.31" rx="3.51" ry="2.60" fill="#d2c28e"/>
<ellipse cx="473.98" cy="247.96" rx="3.51" ry="2.60" fill="#daca94"/>
<ellipse cx="489.50" cy="249.00" rx="3.51" ry="2.60" fill="#e9e7d0"/>
<ellipse cx="505.02" cy="250.04" rx="3.51" ry="2.60" fill="#dfce97"/>
<ellipse cx="497.70" cy="250.69" rx="3.51" ry="2.60" fill="#d1c18e"/>
<ellipse cx="483.21" cy="252.89" rx="3.51" ry="2.60" fill="#dfce97"/>
<ellipse cx="475.28" cy="253.27" rx="3.51" ry="2.60" fill="#d1c28e"/>
<ellipse cx="491.40" cy="254.58" rx="3.51" ry="2.60" fill="#e0cf98"/>
<ellipse cx="502.16" cy="255.07" rx="3.51" ry="2.60" fill="#daca94"/>
<ellipse cx="480.39" cy="257.44" rx="3.51" ry="2.60" fill="#d6c691"/>
<ellipse cx="495.91" cy="258.48" rx="3.51" ry="2.60" fill="#d6c691"/>
<ellipse cx="487.94" cy="259.35" rx="3.51" ry="2.60" fill="#d9c993"/>
</g>
<linearGradient id="gwG" x1="0" x2="1" y1="0" y2="0"><stop offset="0" stop-color="#5a4418"/><stop offset="0.12" stop-color="#8a6828"/><stop offset="0.3" stop-color="#b08a40"/><stop offset="0.45" stop-color="#7a5520"/><stop offset="0.6" stop-color="#d4b058"/><stop offset="0.72" stop-color="#faf0b0"/><stop offset="0.8" stop-color="#e0c470"/><stop offset="0.86" stop-color="#6a6040"/><stop offset="1" stop-color="#45453a"/></linearGradient>
<path d="M514,240.4 L514,300 L531.6,300 L531.6,240.4 Z" fill="url(#gwG)"/>
<ellipse cx="522.8" cy="240.4" rx="8.8" ry="6.4" fill="#e4d08c"/>
<ellipse cx="522" cy="239.6" rx="6.5" ry="4.4" fill="#ecdc9c"/>
<linearGradient id="igr" x1="0" x2="1" y1="0" y2="0"><stop offset="0" stop-color="#900010"/><stop offset="0.05" stop-color="#e01020"/><stop offset="0.13" stop-color="#ff5a66"/><stop offset="0.22" stop-color="#f41a28"/><stop offset="0.6" stop-color="#ec0c1a"/><stop offset="0.85" stop-color="#c80814"/><stop offset="1" stop-color="#6a0008"/></linearGradient>
<path d="M408.00,398.00 L408.00,500.00 L456.00,500.00 L456.00,398.00 A24.00,8.00 0 0 0 408.00,398.00 Z" fill="url(#igr)"/>
<ellipse cx="432" cy="404" rx="24" ry="13.5" fill="#ff3a44"/>
<ellipse cx="432" cy="404" rx="20.5" ry="11.575" fill="#300000"/>
<linearGradient id="igk" x1="0" x2="1" y1="0" y2="0"><stop offset="0" stop-color="#000"/><stop offset="0.5" stop-color="#0a0a0a"/><stop offset="1" stop-color="#000"/></linearGradient>
<path d="M455.00,416.00 L455.00,500.00 L498.00,500.00 L498.00,416.00 A21.50,12.00 0 0 0 455.00,416.00 Z" fill="url(#igk)"/>
<ellipse cx="476.5" cy="416" rx="21.5" ry="12" fill="#2a2a2a"/>
<ellipse cx="476.5" cy="416" rx="18.0" ry="10.075" fill="#000"/>
<linearGradient id="igg" x1="0" x2="1" y1="0" y2="0"><stop offset="0" stop-color="#0a9020"/><stop offset="0.08" stop-color="#1ee838"/><stop offset="0.3" stop-color="#3cff58"/><stop offset="0.55" stop-color="#26f640"/><stop offset="0.85" stop-color="#18e030"/><stop offset="1" stop-color="#088018"/></linearGradient>
<path d="M496.00,388.00 L496.00,500.00 L538.00,500.00 L538.00,388.00 A21.00,8.00 0 0 0 496.00,388.00 Z" fill="url(#igg)"/>
<ellipse cx="517" cy="394" rx="21" ry="12.5" fill="#50ff6a"/>
<ellipse cx="517" cy="394" rx="17.5" ry="10.575" fill="#032a08"/>
<path d="M459.5,428 L496,428 L496,462 Q496,481 477.7,481 Q459.5,481 459.5,462 Z" fill="#353535"/>
<path d="M463,428 L492.5,428 L492.5,460 Q492.5,476 477.7,476 Q463,476 463,460 Z" fill="#080808"/>
<path d="M475,431 L491,431 L491,462 Q491,473 481,473 L475,473 Z" fill="#474747"/>
<rect x="396" y="440" width="152" height="60" fill="url(#holefade)"/>
</g>
<clipPath id="cbfl"><path d="M410.70,294.00 L410.70,404.00 A19.30,10.00 0 0 0 449.30,404.00 L449.30,294.00 A19.30,12.50 0 0 0 410.70,294.00 Z"/></clipPath>
<g clip-path="url(#cbfl)">
<path d="M410.70,294.00 L410.70,404.00 A19.30,10.00 0 0 0 449.30,404.00 L449.30,294.00 A19.30,12.50 0 0 0 410.70,294.00 Z" fill="#4a3010"/>
<g filter="url(#soft2)">
<path d="M410.76,278.50 L410.73,282.83 L410.71,287.16 L410.70,291.48" fill="none" stroke="#706845" stroke-width="0.40" stroke-linecap="round"/>
<path d="M411.46,278.50 L411.34,282.83 L411.22,287.16 L411.11,291.48 L411.02,295.81 L410.94,300.14 L410.87,304.47 L410.81,308.80" fill="none" stroke="#7a714b" stroke-width="0.52" stroke-linecap="round"/>
<path d="M410.94,300.14 L410.87,304.47 L410.81,308.80 L410.76,313.12 L410.73,317.45 L410.71,321.78 L410.70,326.11" fill="none" stroke="#736a47" stroke-width="0.40" stroke-linecap="round"/>
<path d="M412.83,278.50 L412.61,282.83 L412.41,287.16 L412.21,291.48 L412.03,295.81 L411.86,300.14 L411.70,304.47 L411.55,308.80" fill="none" stroke="#897f54" stroke-width="1.02" stroke-linecap="round"/>
<path d="M411.86,300.14 L411.70,304.47 L411.55,308.80 L411.42,313.12 L411.29,317.45 L411.18,321.78 L411.08,326.11 L410.99,330.44 L410.91,334.77" fill="none" stroke="#7e754d" stroke-width="0.66" stroke-linecap="round"/>
<path d="M411.08,326.11 L410.99,330.44 L410.91,334.77 L410.85,339.09 L410.79,343.42 L410.75,347.75 L410.72,352.08 L410.70,356.41" fill="none" stroke="#756c48" stroke-width="0.40" stroke-linecap="round"/>
<path d="M415.27,278.50 L414.96,282.83 L414.66,287.16 L414.37,291.48 L414.09,295.81 L413.82,300.14 L413.56,304.47 L413.31,308.80" fill="none" stroke="#896f3c" stroke-width="1.55" stroke-linecap="round"/>
<path d="M413.82,300.14 L413.56,304.47 L413.31,308.80 L413.08,313.12 L412.85,317.45 L412.63,321.78 L412.43,326.11 L412.23,330.44 L412.05,334.77" fill="none" stroke="#7d6537" stroke-width="1.24" stroke-linecap="round"/>
<path d="M412.43,326.11 L412.23,330.44 L412.05,334.77 L411.88,339.09 L411.71,343.42 L411.57,347.75 L411.43,352.08 L411.30,356.41 L411.19,360.73" fill="none" stroke="#725c32" stroke-width="0.86" stroke-linecap="round"/>
<path d="M411.43,352.08 L411.30,356.41 L411.19,360.73 L411.09,365.06 L411.00,369.39 L410.92,373.72 L410.85,378.05 L410.80,382.38 L410.75,386.70" fill="none" stroke="#68542e" stroke-width="0.47" stroke-linecap="round"/>
<path d="M410.85,378.05 L410.80,382.38 L410.75,386.70 L410.72,391.03 L410.71,395.36" fill="none" stroke="#62502b" stroke-width="0.40" stroke-linecap="round"/>
<path d="M419.28,278.50 L418.88,282.83 L418.49,287.16 L418.10,291.48 L417.72,295.81 L417.35,300.14 L416.99,304.47 L416.64,308.80" fill="none" stroke="#a58648" stroke-width="2.10" stroke-linecap="round"/>
<path d="M417.35,300.14 L416.99,304.47 L416.64,308.80 L416.29,313.12 L415.96,317.45 L415.63,321.78 L415.31,326.11 L415.00,330.44 L414.70,334.77" fill="none" stroke="#977a42" stroke-width="1.85" stroke-linecap="round"/>
<path d="M415.31,326.11 L415.00,330.44 L414.70,334.77 L414.41,339.09 L414.13,343.42 L413.86,347.75 L413.60,352.08 L413.35,356.41 L413.11,360.73" fill="none" stroke="#886e3c" stroke-width="1.53" stroke-linecap="round"/>
<path d="M413.60,352.08 L413.35,356.41 L413.11,360.73 L412.88,365.06 L412.66,369.39 L412.45,373.72 L412.26,378.05 L412.07,382.38 L411.90,386.70" fill="none" stroke="#7b6436" stroke-width="1.18" stroke-linecap="round"/>
<path d="M412.26,378.05 L412.07,382.38 L411.90,386.70 L411.74,391.03 L411.59,395.36 L411.45,399.69 L411.32,404.02 L411.20,408.34 L411.10,412.67" fill="none" stroke="#705b31" stroke-width="0.81" stroke-linecap="round"/>
<path d="M411.32,404.02 L411.20,408.34 L411.10,412.67 L411.01,417.00" fill="none" stroke="#6a562f" stroke-width="0.58" stroke-linecap="round"/>
<path d="M423.07,278.50 L422.62,282.83 L422.18,287.16 L421.74,291.48 L421.30,295.81 L420.87,300.14 L420.45,304.47 L420.03,308.80" fill="none" stroke="#dccb87" stroke-width="2.42" stroke-linecap="round"/>
<path d="M420.87,300.14 L420.45,304.47 L420.03,308.80 L419.62,313.12 L419.21,317.45 L418.81,321.78 L418.42,326.11 L418.04,330.44 L417.66,334.77" fill="none" stroke="#cbbc7d" stroke-width="2.23" stroke-linecap="round"/>
<path d="M418.42,326.11 L418.04,330.44 L417.66,334.77 L417.29,339.09 L416.93,343.42 L416.58,347.75 L416.24,352.08 L415.90,356.41 L415.58,360.73" fill="none" stroke="#b8aa71" stroke-width="1.98" stroke-linecap="round"/>
<path d="M416.24,352.08 L415.90,356.41 L415.58,360.73 L415.26,365.06 L414.95,369.39 L414.65,373.72 L414.36,378.05 L414.08,382.38 L413.82,386.70" fill="none" stroke="#a69a66" stroke-width="1.69" stroke-linecap="round"/>
<path d="M414.36,378.05 L414.08,382.38 L413.82,386.70 L413.56,391.03 L413.31,395.36 L413.07,399.69 L412.84,404.02 L412.63,408.34 L412.42,412.67" fill="none" stroke="#968b5c" stroke-width="1.35" stroke-linecap="round"/>
<path d="M412.84,404.02 L412.63,408.34 L412.42,412.67 L412.23,417.00" fill="none" stroke="#8d8357" stroke-width="1.14" stroke-linecap="round"/>
<path d="M426.42,278.50 L425.94,282.83 L425.47,287.16 L425.00,291.48 L424.53,295.81 L424.07,300.14 L423.61,304.47 L423.16,308.80" fill="none" stroke="#efdd93" stroke-width="2.59" stroke-linecap="round"/>
<path d="M424.07,300.14 L423.61,304.47 L423.16,308.80 L422.71,313.12 L422.26,317.45 L421.82,321.78 L421.38,326.11 L420.95,330.44 L420.53,334.77" fill="none" stroke="#e0d08a" stroke-width="2.47" stroke-linecap="round"/>
<path d="M421.38,326.11 L420.95,330.44 L420.53,334.77 L420.11,339.09 L419.69,343.42 L419.29,347.75 L418.89,352.08 L418.50,356.41 L418.11,360.73" fill="none" stroke="#cebf7f" stroke-width="2.28" stroke-linecap="round"/>
<path d="M418.89,352.08 L418.50,356.41 L418.11,360.73 L417.73,365.06 L417.36,369.39 L417.00,373.72 L416.65,378.05 L416.30,382.38 L415.96,386.70" fill="none" stroke="#bcae73" stroke-width="2.04" stroke-linecap="round"/>
<path d="M416.65,378.05 L416.30,382.38 L415.96,386.70 L415.64,391.03 L415.32,395.36 L415.01,399.69 L414.71,404.02 L414.42,408.34 L414.13,412.67" fill="none" stroke="#a99d68" stroke-width="1.75" stroke-linecap="round"/>
<path d="M414.71,404.02 L414.42,408.34 L414.13,412.67 L413.86,417.00" fill="none" stroke="#9f9462" stroke-width="1.56" stroke-linecap="round"/>
<path d="M431.46,278.50 L430.97,282.83 L430.49,287.16 L430.00,291.48 L429.52,295.81 L429.04,300.14 L428.55,304.47 L428.07,308.80" fill="none" stroke="#dcb260" stroke-width="2.70" stroke-linecap="round"/>
<path d="M429.04,300.14 L428.55,304.47 L428.07,308.80 L427.59,313.12 L427.11,317.45 L426.63,321.78 L426.15,326.11 L425.68,330.44 L425.21,334.77" fill="none" stroke="#d6ad5e" stroke-width="2.66" stroke-linecap="round"/>
<path d="M426.15,326.11 L425.68,330.44 L425.21,334.77 L424.74,339.09 L424.28,343.42 L423.82,347.75 L423.36,352.08 L422.91,356.41 L422.46,360.73" fill="none" stroke="#cba459" stroke-width="2.57" stroke-linecap="round"/>
<path d="M423.36,352.08 L422.91,356.41 L422.46,360.73 L422.02,365.06 L421.58,369.39 L421.14,373.72 L420.72,378.05 L420.29,382.38 L419.88,386.70" fill="none" stroke="#bd9953" stroke-width="2.42" stroke-linecap="round"/>
<path d="M420.72,378.05 L420.29,382.38 L419.88,386.70 L419.47,391.03 L419.07,395.36 L418.67,399.69 L418.28,404.02 L417.90,408.34 L417.53,412.67" fill="none" stroke="#ae8c4c" stroke-width="2.22" stroke-linecap="round"/>
<path d="M418.28,404.02 L417.90,408.34 L417.53,412.67 L417.16,417.00" fill="none" stroke="#a48548" stroke-width="2.08" stroke-linecap="round"/>
<path d="M435.95,278.50 L435.48,282.83 L435.02,287.16 L434.55,291.48 L434.08,295.81 L433.60,300.14 L433.12,304.47 L432.65,308.80" fill="none" stroke="#ffee9e" stroke-width="2.63" stroke-linecap="round"/>
<path d="M433.60,300.14 L433.12,304.47 L432.65,308.80 L432.16,313.12 L431.68,317.45 L431.20,321.78 L430.72,326.11 L430.23,330.44 L429.75,334.77" fill="none" stroke="#ffef9e" stroke-width="2.68" stroke-linecap="round"/>
<path d="M430.72,326.11 L430.23,330.44 L429.75,334.77 L429.26,339.09 L428.78,343.42 L428.30,347.75 L427.81,352.08 L427.33,356.41 L426.85,360.73" fill="none" stroke="#feeb9c" stroke-width="2.69" stroke-linecap="round"/>
<path d="M427.81,352.08 L427.33,356.41 L426.85,360.73 L426.38,365.06 L425.90,369.39 L425.43,373.72 L424.96,378.05 L424.49,382.38 L424.03,386.70" fill="none" stroke="#f4e296" stroke-width="2.63" stroke-linecap="round"/>
<path d="M424.96,378.05 L424.49,382.38 L424.03,386.70 L423.57,391.03 L423.12,395.36 L422.67,399.69 L422.22,404.02 L421.78,408.34 L421.35,412.67" fill="none" stroke="#e6d58d" stroke-width="2.52" stroke-linecap="round"/>
<path d="M422.22,404.02 L421.78,408.34 L421.35,412.67 L420.92,417.00" fill="none" stroke="#dccc87" stroke-width="2.43" stroke-linecap="round"/>
<path d="M439.47,278.50 L439.05,282.83 L438.62,287.16 L438.18,291.48 L437.74,295.81 L437.29,300.14 L436.84,304.47 L436.39,308.80" fill="none" stroke="#f7e598" stroke-width="2.46" stroke-linecap="round"/>
<path d="M437.29,300.14 L436.84,304.47 L436.39,308.80 L435.93,313.12 L435.46,317.45 L435.00,321.78 L434.53,326.11 L434.06,330.44 L433.58,334.77" fill="none" stroke="#ffec9c" stroke-width="2.58" stroke-linecap="round"/>
<path d="M434.53,326.11 L434.06,330.44 L433.58,334.77 L433.10,339.09 L432.63,343.42 L432.14,347.75 L431.66,352.08 L431.18,356.41 L430.70,360.73" fill="none" stroke="#ffef9f" stroke-width="2.67" stroke-linecap="round"/>
<path d="M431.66,352.08 L431.18,356.41 L430.70,360.73 L430.21,365.06 L429.73,369.39 L429.24,373.72 L428.76,378.05 L428.28,382.38 L427.79,386.70" fill="none" stroke="#ffed9d" stroke-width="2.69" stroke-linecap="round"/>
<path d="M428.76,378.05 L428.28,382.38 L427.79,386.70 L427.31,391.03 L426.83,395.36 L426.36,399.69 L425.88,404.02 L425.41,408.34 L424.94,412.67" fill="none" stroke="#f8e598" stroke-width="2.66" stroke-linecap="round"/>
<path d="M425.88,404.02 L425.41,408.34 L424.94,412.67 L424.48,417.00" fill="none" stroke="#f1df94" stroke-width="2.61" stroke-linecap="round"/>
<path d="M442.85,278.50 L442.48,282.83 L442.11,287.16 L441.73,291.48 L441.34,295.81 L440.94,300.14 L440.54,304.47 L440.13,308.80" fill="none" stroke="#e3d28c" stroke-width="2.16" stroke-linecap="round"/>
<path d="M440.94,300.14 L440.54,304.47 L440.13,308.80 L439.72,313.12 L439.30,317.45 L438.87,321.78 L438.43,326.11 L438.00,330.44 L437.55,334.77" fill="none" stroke="#f1df94" stroke-width="2.36" stroke-linecap="round"/>
<path d="M438.43,326.11 L438.00,330.44 L437.55,334.77 L437.10,339.09 L436.65,343.42 L436.20,347.75 L435.73,352.08 L435.27,356.41 L434.80,360.73" fill="none" stroke="#fbe99b" stroke-width="2.53" stroke-linecap="round"/>
<path d="M435.73,352.08 L435.27,356.41 L434.80,360.73 L434.33,365.06 L433.86,369.39 L433.38,373.72 L432.90,378.05 L432.42,382.38 L431.94,386.70" fill="none" stroke="#ffee9e" stroke-width="2.64" stroke-linecap="round"/>
<path d="M432.90,378.05 L432.42,382.38 L431.94,386.70 L431.46,391.03 L430.98,395.36 L430.49,399.69 L430.01,404.02 L429.52,408.34 L429.04,412.67" fill="none" stroke="#ffee9e" stroke-width="2.69" stroke-linecap="round"/>
<path d="M430.01,404.02 L429.52,408.34 L429.04,412.67 L428.56,417.00" fill="none" stroke="#ffec9d" stroke-width="2.70" stroke-linecap="round"/>
<path d="M445.70,278.50 L445.41,282.83 L445.11,287.16 L444.81,291.48 L444.49,295.81 L444.17,300.14 L443.84,304.47 L443.49,308.80" fill="none" stroke="#c9ba7b" stroke-width="1.75" stroke-linecap="round"/>
<path d="M444.17,300.14 L443.84,304.47 L443.49,308.80 L443.14,313.12 L442.78,317.45 L442.42,321.78 L442.04,326.11 L441.66,330.44 L441.27,334.77" fill="none" stroke="#daca86" stroke-width="2.02" stroke-linecap="round"/>
<path d="M442.04,326.11 L441.66,330.44 L441.27,334.77 L440.87,339.09 L440.47,343.42 L440.06,347.75 L439.64,352.08 L439.22,356.41 L438.79,360.73" fill="none" stroke="#ead990" stroke-width="2.26" stroke-linecap="round"/>
<path d="M439.64,352.08 L439.22,356.41 L438.79,360.73 L438.36,365.06 L437.92,369.39 L437.47,373.72 L437.03,378.05 L436.57,382.38 L436.11,386.70" fill="none" stroke="#f7e598" stroke-width="2.46" stroke-linecap="round"/>
<path d="M437.03,378.05 L436.57,382.38 L436.11,386.70 L435.65,391.03 L435.19,395.36 L434.72,399.69 L434.25,404.02 L433.77,408.34 L433.30,412.67" fill="none" stroke="#ffec9d" stroke-width="2.60" stroke-linecap="round"/>
<path d="M434.25,404.02 L433.77,408.34 L433.30,412.67 L432.82,417.00" fill="none" stroke="#ffef9e" stroke-width="2.65" stroke-linecap="round"/>
<path d="M448.10,278.50 L447.92,282.83 L447.74,287.16 L447.54,291.48 L447.33,295.81 L447.11,300.14 L446.88,304.47 L446.64,308.80" fill="none" stroke="#8f743f" stroke-width="1.16" stroke-linecap="round"/>
<path d="M447.11,300.14 L446.88,304.47 L446.64,308.80 L446.39,313.12 L446.13,317.45 L445.86,321.78 L445.58,326.11 L445.29,330.44 L444.99,334.77" fill="none" stroke="#9f8046" stroke-width="1.48" stroke-linecap="round"/>
<path d="M445.58,326.11 L445.29,330.44 L444.99,334.77 L444.68,339.09 L444.36,343.42 L444.03,347.75 L443.70,352.08 L443.35,356.41 L443.00,360.73" fill="none" stroke="#af8e4d" stroke-width="1.80" stroke-linecap="round"/>
<path d="M443.70,352.08 L443.35,356.41 L443.00,360.73 L442.63,365.06 L442.26,369.39 L441.89,373.72 L441.50,378.05 L441.11,382.38 L440.71,386.70" fill="none" stroke="#bf9b54" stroke-width="2.08" stroke-linecap="round"/>
<path d="M441.50,378.05 L441.11,382.38 L440.71,386.70 L440.30,391.03 L439.89,395.36 L439.47,399.69 L439.04,404.02 L438.61,408.34 L438.18,412.67" fill="none" stroke="#cca55a" stroke-width="2.31" stroke-linecap="round"/>
<path d="M439.04,404.02 L438.61,408.34 L438.18,412.67 L437.74,417.00" fill="none" stroke="#d3ab5c" stroke-width="2.43" stroke-linecap="round"/>
<path d="M449.04,278.50 L448.95,282.83 L448.85,287.16 L448.74,291.48 L448.62,295.81 L448.49,300.14 L448.34,304.47 L448.19,308.80" fill="none" stroke="#8e8357" stroke-width="0.68" stroke-linecap="round"/>
<path d="M448.49,300.14 L448.34,304.47 L448.19,308.80 L448.02,313.12 L447.84,317.45 L447.65,321.78 L447.45,326.11 L447.24,330.44 L447.01,334.77" fill="none" stroke="#a09462" stroke-width="1.03" stroke-linecap="round"/>
<path d="M447.45,326.11 L447.24,330.44 L447.01,334.77 L446.78,339.09 L446.53,343.42 L446.28,347.75 L446.01,352.08 L445.74,356.41 L445.45,360.73" fill="none" stroke="#b3a66e" stroke-width="1.39" stroke-linecap="round"/>
<path d="M446.01,352.08 L445.74,356.41 L445.45,360.73 L445.16,365.06 L444.85,369.39 L444.54,373.72 L444.22,378.05 L443.88,382.38 L443.54,386.70" fill="none" stroke="#c7b87a" stroke-width="1.72" stroke-linecap="round"/>
<path d="M444.22,378.05 L443.88,382.38 L443.54,386.70 L443.19,391.03 L442.84,395.36 L442.47,399.69 L442.10,404.02 L441.72,408.34 L441.33,412.67" fill="none" stroke="#d9c986" stroke-width="2.01" stroke-linecap="round"/>
<path d="M442.10,404.02 L441.72,408.34 L441.33,412.67 L440.93,417.00" fill="none" stroke="#e3d38c" stroke-width="2.17" stroke-linecap="round"/>
<path d="M449.30,295.81 L449.29,300.14 L449.27,304.47 L449.23,308.80 L449.18,313.12 L449.13,317.45 L449.05,321.78 L448.97,326.11" fill="none" stroke="#7a714b" stroke-width="0.40" stroke-linecap="round"/>
<path d="M449.13,317.45 L449.05,321.78 L448.97,326.11 L448.88,330.44 L448.77,334.77 L448.65,339.09 L448.52,343.42 L448.38,347.75 L448.22,352.08" fill="none" stroke="#8b8156" stroke-width="0.63" stroke-linecap="round"/>
<path d="M448.52,343.42 L448.38,347.75 L448.22,352.08 L448.06,356.41 L447.88,360.73 L447.70,365.06 L447.50,369.39 L447.29,373.72 L447.07,378.05" fill="none" stroke="#9f9362" stroke-width="1.01" stroke-linecap="round"/>
<path d="M447.50,369.39 L447.29,373.72 L447.07,378.05 L446.83,382.38 L446.59,386.70 L446.34,391.03 L446.08,395.36 L445.80,399.69 L445.52,404.02" fill="none" stroke="#b3a56e" stroke-width="1.38" stroke-linecap="round"/>
<path d="M446.08,395.36 L445.80,399.69 L445.52,404.02 L445.23,408.34 L444.92,412.67 L444.61,417.00" fill="none" stroke="#c1b377" stroke-width="1.63" stroke-linecap="round"/>
<path d="M449.30,334.77 L449.29,339.09 L449.26,343.42 L449.22,347.75 L449.18,352.08 L449.12,356.41 L449.04,360.73 L448.96,365.06" fill="none" stroke="#69552e" stroke-width="0.40" stroke-linecap="round"/>
<path d="M449.12,356.41 L449.04,360.73 L448.96,365.06 L448.86,369.39 L448.75,373.72 L448.63,378.05 L448.50,382.38 L448.36,386.70 L448.20,391.03" fill="none" stroke="#786135" stroke-width="0.64" stroke-linecap="round"/>
<path d="M448.50,382.38 L448.36,386.70 L448.20,391.03 L448.03,395.36 L447.85,399.69 L447.67,404.02 L447.46,408.34 L447.25,412.67 L447.03,417.00" fill="none" stroke="#896f3c" stroke-width="1.02" stroke-linecap="round"/>
<path d="M447.46,408.34 L447.25,412.67 L447.03,417.00" fill="none" stroke="#927640" stroke-width="1.21" stroke-linecap="round"/>
<path d="M449.29,369.39 L449.28,373.72 L449.25,378.05 L449.21,382.38 L449.15,386.70 L449.09,391.03 L449.01,395.36 L448.92,399.69" fill="none" stroke="#7c734c" stroke-width="0.40" stroke-linecap="round"/>
<path d="M449.09,391.03 L449.01,395.36 L448.92,399.69 L448.82,404.02 L448.71,408.34 L448.58,412.67 L448.44,417.00" fill="none" stroke="#8a8055" stroke-width="0.60" stroke-linecap="round"/>
<path d="M449.30,408.34 L449.28,412.67 L449.26,417.00" fill="none" stroke="#736b47" stroke-width="0.40" stroke-linecap="round"/>
</g>
<rect x="410.7" y="278.5" width="38.6" height="142.5" fill="url(#cshade)"/>
<linearGradient id="shfl" gradientUnits="userSpaceOnUse" x1="0" y1="392" x2="0" y2="414"><stop offset="0" stop-color="#2a0500" stop-opacity="0"/><stop offset="1" stop-color="#2a0500" stop-opacity="0.85"/></linearGradient>
<rect x="410.7" y="392" width="38.6" height="24" fill="url(#shfl)"/>
</g>
<ellipse cx="430" cy="294" rx="19.3" ry="12.5" fill="#2e1e08"/>
<g filter="url(#soft2)">
<ellipse cx="431.54" cy="284.05" rx="3.47" ry="2.50" fill="#d4c490"/>
<ellipse cx="423.65" cy="284.88" rx="3.47" ry="2.50" fill="#cfc08d"/>
<ellipse cx="439.02" cy="285.88" rx="3.47" ry="2.50" fill="#d9c993"/>
<ellipse cx="417.47" cy="288.16" rx="3.47" ry="2.50" fill="#d1c18e"/>
<ellipse cx="428.12" cy="288.64" rx="3.47" ry="2.50" fill="#d2c38f"/>
<ellipse cx="444.08" cy="289.89" rx="3.47" ry="2.50" fill="#dbcb95"/>
<ellipse cx="436.23" cy="290.26" rx="3.47" ry="2.50" fill="#d2c28e"/>
<ellipse cx="421.89" cy="292.37" rx="3.47" ry="2.50" fill="#d7c792"/>
<ellipse cx="414.64" cy="293.00" rx="3.47" ry="2.50" fill="#dece97"/>
<ellipse cx="430.00" cy="294.00" rx="3.47" ry="2.50" fill="#e7e5cf"/>
<ellipse cx="445.36" cy="295.00" rx="3.47" ry="2.50" fill="#ccbd8b"/>
<ellipse cx="438.11" cy="295.63" rx="3.47" ry="2.50" fill="#d0c08d"/>
<ellipse cx="423.77" cy="297.74" rx="3.47" ry="2.50" fill="#dbcb95"/>
<ellipse cx="415.92" cy="298.11" rx="3.47" ry="2.50" fill="#d8c893"/>
<ellipse cx="431.88" cy="299.36" rx="3.47" ry="2.50" fill="#d0c18d"/>
<ellipse cx="442.53" cy="299.84" rx="3.47" ry="2.50" fill="#d2c38f"/>
<ellipse cx="420.98" cy="302.12" rx="3.47" ry="2.50" fill="#cfbf8c"/>
<ellipse cx="436.35" cy="303.12" rx="3.47" ry="2.50" fill="#d5c590"/>
<ellipse cx="428.46" cy="303.95" rx="3.47" ry="2.50" fill="#ccbd8a"/>
</g>
<clipPath id="cbfr"><path d="M496.70,284.00 L496.70,394.00 A19.30,9.50 0 0 0 535.30,394.00 L535.30,284.00 A19.30,12.00 0 0 0 496.70,284.00 Z"/></clipPath>
<g clip-path="url(#cbfr)">
<path d="M496.70,284.00 L496.70,394.00 A19.30,9.50 0 0 0 535.30,394.00 L535.30,284.00 A19.30,12.00 0 0 0 496.70,284.00 Z" fill="#4a3010"/>
<g filter="url(#soft2)">
<path d="M496.78,269.00 L496.74,273.30 L496.72,277.59 L496.70,281.89" fill="none" stroke="#716946" stroke-width="0.40" stroke-linecap="round"/>
<path d="M497.63,269.00 L497.49,273.30 L497.36,277.59 L497.24,281.89 L497.13,286.19 L497.04,290.48 L496.95,294.78 L496.88,299.08" fill="none" stroke="#7c734c" stroke-width="0.60" stroke-linecap="round"/>
<path d="M497.04,290.48 L496.95,294.78 L496.88,299.08 L496.82,303.38 L496.77,307.67 L496.74,311.97 L496.71,316.27 L496.70,320.56" fill="none" stroke="#746c47" stroke-width="0.40" stroke-linecap="round"/>
<path d="M499.04,269.00 L498.82,273.30 L498.60,277.59 L498.40,281.89 L498.21,286.19 L498.03,290.48 L497.86,294.78 L497.70,299.08" fill="none" stroke="#8b8155" stroke-width="1.08" stroke-linecap="round"/>
<path d="M498.03,290.48 L497.86,294.78 L497.70,299.08 L497.55,303.38 L497.42,307.67 L497.29,311.97 L497.18,316.27 L497.08,320.56 L496.99,324.86" fill="none" stroke="#80764f" stroke-width="0.73" stroke-linecap="round"/>
<path d="M497.18,316.27 L497.08,320.56 L496.99,324.86 L496.91,329.16 L496.85,333.45 L496.79,337.75 L496.75,342.05 L496.72,346.34 L496.71,350.64" fill="none" stroke="#766d48" stroke-width="0.40" stroke-linecap="round"/>
<path d="M496.75,342.05 L496.72,346.34 L496.71,350.64" fill="none" stroke="#716945" stroke-width="0.40" stroke-linecap="round"/>
<path d="M501.60,269.00 L501.29,273.30 L500.98,277.59 L500.68,281.89 L500.40,286.19 L500.12,290.48 L499.85,294.78 L499.59,299.08" fill="none" stroke="#a29664" stroke-width="1.61" stroke-linecap="round"/>
<path d="M500.12,290.48 L499.85,294.78 L499.59,299.08 L499.34,303.38 L499.11,307.67 L498.88,311.97 L498.66,316.27 L498.46,320.56 L498.26,324.86" fill="none" stroke="#94895b" stroke-width="1.30" stroke-linecap="round"/>
<path d="M498.66,316.27 L498.46,320.56 L498.26,324.86 L498.08,329.16 L497.90,333.45 L497.74,337.75 L497.59,342.05 L497.45,346.34 L497.33,350.64" fill="none" stroke="#867c53" stroke-width="0.94" stroke-linecap="round"/>
<path d="M497.59,342.05 L497.45,346.34 L497.33,350.64 L497.21,354.94 L497.11,359.23 L497.01,363.53 L496.93,367.83 L496.86,372.12 L496.81,376.42" fill="none" stroke="#7b724c" stroke-width="0.55" stroke-linecap="round"/>
<path d="M496.93,367.83 L496.86,372.12 L496.81,376.42 L496.76,380.72 L496.73,385.02 L496.71,389.31 L496.70,393.61" fill="none" stroke="#736a47" stroke-width="0.40" stroke-linecap="round"/>
<path d="M504.09,269.00 L503.71,273.30 L503.35,277.59 L502.99,281.89 L502.64,286.19 L502.29,290.48 L501.96,294.78 L501.63,299.08" fill="none" stroke="#b7a970" stroke-width="1.97" stroke-linecap="round"/>
<path d="M502.29,290.48 L501.96,294.78 L501.63,299.08 L501.32,303.38 L501.01,307.67 L500.71,311.97 L500.42,316.27 L500.14,320.56 L499.87,324.86" fill="none" stroke="#a69a66" stroke-width="1.70" stroke-linecap="round"/>
<path d="M500.42,316.27 L500.14,320.56 L499.87,324.86 L499.62,329.16 L499.37,333.45 L499.13,337.75 L498.90,342.05 L498.68,346.34 L498.47,350.64" fill="none" stroke="#968b5c" stroke-width="1.37" stroke-linecap="round"/>
<path d="M498.90,342.05 L498.68,346.34 L498.47,350.64 L498.28,354.94 L498.09,359.23 L497.92,363.53 L497.76,367.83 L497.61,372.12 L497.47,376.42" fill="none" stroke="#887e54" stroke-width="1.01" stroke-linecap="round"/>
<path d="M497.76,367.83 L497.61,372.12 L497.47,376.42 L497.34,380.72 L497.22,385.02 L497.12,389.31 L497.02,393.61 L496.94,397.91 L496.87,402.20" fill="none" stroke="#7d744d" stroke-width="0.62" stroke-linecap="round"/>
<path d="M497.02,393.61 L496.94,397.91 L496.87,402.20 L496.81,406.50" fill="none" stroke="#776e49" stroke-width="0.40" stroke-linecap="round"/>
<path d="M508.19,269.00 L507.75,273.30 L507.32,277.59 L506.89,281.89 L506.47,286.19 L506.05,290.48 L505.64,294.78 L505.24,299.08" fill="none" stroke="#b89551" stroke-width="2.36" stroke-linecap="round"/>
<path d="M506.05,290.48 L505.64,294.78 L505.24,299.08 L504.85,303.38 L504.46,307.67 L504.08,311.97 L503.70,316.27 L503.33,320.56 L502.98,324.86" fill="none" stroke="#a9894a" stroke-width="2.16" stroke-linecap="round"/>
<path d="M503.70,316.27 L503.33,320.56 L502.98,324.86 L502.62,329.16 L502.28,333.45 L501.95,337.75 L501.62,342.05 L501.31,346.34 L501.00,350.64" fill="none" stroke="#997c43" stroke-width="1.90" stroke-linecap="round"/>
<path d="M501.62,342.05 L501.31,346.34 L501.00,350.64 L500.70,354.94 L500.41,359.23 L500.13,363.53 L499.86,367.83 L499.61,372.12 L499.36,376.42" fill="none" stroke="#8a703d" stroke-width="1.59" stroke-linecap="round"/>
<path d="M499.86,367.83 L499.61,372.12 L499.36,376.42 L499.12,380.72 L498.89,385.02 L498.67,389.31 L498.47,393.61 L498.27,397.91 L498.09,402.20" fill="none" stroke="#7d6537" stroke-width="1.25" stroke-linecap="round"/>
<path d="M498.47,393.61 L498.27,397.91 L498.09,402.20 L497.91,406.50" fill="none" stroke="#766034" stroke-width="1.04" stroke-linecap="round"/>
<path d="M513.14,269.00 L512.67,273.30 L512.19,277.59 L511.72,281.89 L511.25,286.19 L510.79,290.48 L510.33,294.78 L509.87,299.08" fill="none" stroke="#f2e095" stroke-width="2.62" stroke-linecap="round"/>
<path d="M510.79,290.48 L510.33,294.78 L509.87,299.08 L509.42,303.38 L508.97,307.67 L508.52,311.97 L508.08,316.27 L507.64,320.56 L507.21,324.86" fill="none" stroke="#e5d48d" stroke-width="2.51" stroke-linecap="round"/>
<path d="M508.08,316.27 L507.64,320.56 L507.21,324.86 L506.79,329.16 L506.37,333.45 L505.95,337.75 L505.55,342.05 L505.14,346.34 L504.75,350.64" fill="none" stroke="#d3c482" stroke-width="2.33" stroke-linecap="round"/>
<path d="M505.55,342.05 L505.14,346.34 L504.75,350.64 L504.36,354.94 L503.98,359.23 L503.61,363.53 L503.25,367.83 L502.89,372.12 L502.54,376.42" fill="none" stroke="#c1b377" stroke-width="2.11" stroke-linecap="round"/>
<path d="M503.25,367.83 L502.89,372.12 L502.54,376.42 L502.20,380.72 L501.87,385.02 L501.54,389.31 L501.23,393.61 L500.93,397.91 L500.63,402.20" fill="none" stroke="#aea26b" stroke-width="1.83" stroke-linecap="round"/>
<path d="M501.23,393.61 L500.93,397.91 L500.63,402.20 L500.34,406.50" fill="none" stroke="#a49865" stroke-width="1.66" stroke-linecap="round"/>
<path d="M517.51,269.00 L517.03,273.30 L516.55,277.59 L516.07,281.89 L515.59,286.19 L515.11,290.48 L514.63,294.78 L514.15,299.08" fill="none" stroke="#ffed9d" stroke-width="2.70" stroke-linecap="round"/>
<path d="M515.11,290.48 L514.63,294.78 L514.15,299.08 L513.67,303.38 L513.20,307.67 L512.72,311.97 L512.25,316.27 L511.78,320.56 L511.31,324.86" fill="none" stroke="#f9e699" stroke-width="2.67" stroke-linecap="round"/>
<path d="M512.25,316.27 L511.78,320.56 L511.31,324.86 L510.84,329.16 L510.38,333.45 L509.92,337.75 L509.47,342.05 L509.02,346.34 L508.57,350.64" fill="none" stroke="#eddb91" stroke-width="2.58" stroke-linecap="round"/>
<path d="M509.47,342.05 L509.02,346.34 L508.57,350.64 L508.13,354.94 L507.69,359.23 L507.26,363.53 L506.84,367.83 L506.42,372.12 L506.00,376.42" fill="none" stroke="#ddcc88" stroke-width="2.43" stroke-linecap="round"/>
<path d="M506.84,367.83 L506.42,372.12 L506.00,376.42 L505.59,380.72 L505.19,385.02 L504.80,389.31 L504.41,393.61 L504.03,397.91 L503.65,402.20" fill="none" stroke="#cbbc7d" stroke-width="2.23" stroke-linecap="round"/>
<path d="M504.41,393.61 L504.03,397.91 L503.65,402.20 L503.29,406.50" fill="none" stroke="#c0b276" stroke-width="2.10" stroke-linecap="round"/>
<path d="M521.46,269.00 L521.00,273.30 L520.53,277.59 L520.06,281.89 L519.59,286.19 L519.12,290.48 L518.64,294.78 L518.16,299.08" fill="none" stroke="#ffee9e" stroke-width="2.64" stroke-linecap="round"/>
<path d="M519.12,290.48 L518.64,294.78 L518.16,299.08 L517.68,303.38 L517.20,307.67 L516.72,311.97 L516.24,316.27 L515.76,320.56 L515.28,324.86" fill="none" stroke="#ffee9e" stroke-width="2.69" stroke-linecap="round"/>
<path d="M516.24,316.27 L515.76,320.56 L515.28,324.86 L514.80,329.16 L514.32,333.45 L513.84,337.75 L513.37,342.05 L512.89,346.34 L512.42,350.64" fill="none" stroke="#fcea9b" stroke-width="2.68" stroke-linecap="round"/>
<path d="M513.37,342.05 L512.89,346.34 L512.42,350.64 L511.94,354.94 L511.48,359.23 L511.01,363.53 L510.55,367.83 L510.09,372.12 L509.63,376.42" fill="none" stroke="#f2e095" stroke-width="2.62" stroke-linecap="round"/>
<path d="M510.55,367.83 L510.09,372.12 L509.63,376.42 L509.18,380.72 L508.73,385.02 L508.29,389.31 L507.85,393.61 L507.42,397.91 L506.99,402.20" fill="none" stroke="#e3d38c" stroke-width="2.50" stroke-linecap="round"/>
<path d="M507.85,393.61 L507.42,397.91 L506.99,402.20 L506.57,406.50" fill="none" stroke="#d9c986" stroke-width="2.40" stroke-linecap="round"/>
<path d="M524.50,269.00 L524.06,273.30 L523.62,277.59 L523.18,281.89 L522.73,286.19 L522.28,290.48 L521.82,294.78 L521.36,299.08" fill="none" stroke="#d8af5e" stroke-width="2.51" stroke-linecap="round"/>
<path d="M522.28,290.48 L521.82,294.78 L521.36,299.08 L520.90,303.38 L520.43,307.67 L519.96,311.97 L519.49,316.27 L519.01,320.56 L518.54,324.86" fill="none" stroke="#ddb361" stroke-width="2.62" stroke-linecap="round"/>
<path d="M519.49,316.27 L519.01,320.56 L518.54,324.86 L518.06,329.16 L517.58,333.45 L517.10,337.75 L516.62,342.05 L516.14,346.34 L515.66,350.64" fill="none" stroke="#deb461" stroke-width="2.69" stroke-linecap="round"/>
<path d="M516.62,342.05 L516.14,346.34 L515.66,350.64 L515.18,354.94 L514.70,359.23 L514.22,363.53 L513.74,367.83 L513.26,372.12 L512.79,376.42" fill="none" stroke="#dab060" stroke-width="2.69" stroke-linecap="round"/>
<path d="M513.74,367.83 L513.26,372.12 L512.79,376.42 L512.32,380.72 L511.84,385.02 L511.38,389.31 L510.91,393.61 L510.45,397.91 L509.99,402.20" fill="none" stroke="#d2aa5c" stroke-width="2.63" stroke-linecap="round"/>
<path d="M510.91,393.61 L510.45,397.91 L509.99,402.20 L509.53,406.50" fill="none" stroke="#cba459" stroke-width="2.58" stroke-linecap="round"/>
<path d="M528.42,269.00 L528.05,273.30 L527.67,277.59 L527.28,281.89 L526.89,286.19 L526.48,290.48 L526.08,294.78 L525.66,299.08" fill="none" stroke="#e6d58e" stroke-width="2.21" stroke-linecap="round"/>
<path d="M526.48,290.48 L526.08,294.78 L525.66,299.08 L525.25,303.38 L524.82,307.67 L524.39,311.97 L523.95,316.27 L523.51,320.56 L523.07,324.86" fill="none" stroke="#f3e195" stroke-width="2.40" stroke-linecap="round"/>
<path d="M523.95,316.27 L523.51,320.56 L523.07,324.86 L522.62,329.16 L522.16,333.45 L521.71,337.75 L521.25,342.05 L520.78,346.34 L520.31,350.64" fill="none" stroke="#fdea9b" stroke-width="2.55" stroke-linecap="round"/>
<path d="M521.25,342.05 L520.78,346.34 L520.31,350.64 L519.84,354.94 L519.37,359.23 L518.90,363.53 L518.42,367.83 L517.94,372.12 L517.46,376.42" fill="none" stroke="#ffef9e" stroke-width="2.65" stroke-linecap="round"/>
<path d="M518.42,367.83 L517.94,372.12 L517.46,376.42 L516.98,380.72 L516.50,385.02 L516.02,389.31 L515.54,393.61 L515.06,397.91 L514.58,402.20" fill="none" stroke="#ffee9e" stroke-width="2.69" stroke-linecap="round"/>
<path d="M515.54,393.61 L515.06,397.91 L514.58,402.20 L514.10,406.50" fill="none" stroke="#feeb9c" stroke-width="2.69" stroke-linecap="round"/>
<path d="M532.16,269.00 L531.90,273.30 L531.62,277.59 L531.33,281.89 L531.03,286.19 L530.73,290.48 L530.41,294.78 L530.09,299.08" fill="none" stroke="#a8884a" stroke-width="1.66" stroke-linecap="round"/>
<path d="M530.73,290.48 L530.41,294.78 L530.09,299.08 L529.75,303.38 L529.41,307.67 L529.06,311.97 L528.71,316.27 L528.34,320.56 L527.97,324.86" fill="none" stroke="#b79450" stroke-width="1.94" stroke-linecap="round"/>
<path d="M528.71,316.27 L528.34,320.56 L527.97,324.86 L527.58,329.16 L527.20,333.45 L526.80,337.75 L526.40,342.05 L525.99,346.34 L525.58,350.64" fill="none" stroke="#c5a057" stroke-width="2.19" stroke-linecap="round"/>
<path d="M526.40,342.05 L525.99,346.34 L525.58,350.64 L525.16,354.94 L524.73,359.23 L524.30,363.53 L523.86,367.83 L523.42,372.12 L522.97,376.42" fill="none" stroke="#d1aa5c" stroke-width="2.40" stroke-linecap="round"/>
<path d="M523.86,367.83 L523.42,372.12 L522.97,376.42 L522.52,380.72 L522.07,385.02 L521.61,389.31 L521.15,393.61 L520.68,397.91 L520.21,402.20" fill="none" stroke="#dab05f" stroke-width="2.56" stroke-linecap="round"/>
<path d="M521.15,393.61 L520.68,397.91 L520.21,402.20 L519.74,406.50" fill="none" stroke="#ddb361" stroke-width="2.63" stroke-linecap="round"/>
<path d="M533.65,269.00 L533.45,273.30 L533.24,277.59 L533.02,281.89 L532.79,286.19 L532.55,290.48 L532.30,294.78 L532.03,299.08" fill="none" stroke="#967942" stroke-width="1.30" stroke-linecap="round"/>
<path d="M532.55,290.48 L532.30,294.78 L532.03,299.08 L531.76,303.38 L531.48,307.67 L531.19,311.97 L530.88,316.27 L530.57,320.56 L530.25,324.86" fill="none" stroke="#a58648" stroke-width="1.61" stroke-linecap="round"/>
<path d="M530.88,316.27 L530.57,320.56 L530.25,324.86 L529.93,329.16 L529.59,333.45 L529.24,337.75 L528.89,342.05 L528.53,346.34 L528.16,350.64" fill="none" stroke="#b69350" stroke-width="1.91" stroke-linecap="round"/>
<path d="M528.89,342.05 L528.53,346.34 L528.16,350.64 L527.78,354.94 L527.39,359.23 L527.00,363.53 L526.60,367.83 L526.20,372.12 L525.79,376.42" fill="none" stroke="#c49f56" stroke-width="2.17" stroke-linecap="round"/>
<path d="M526.60,367.83 L526.20,372.12 L525.79,376.42 L525.37,380.72 L524.95,385.02 L524.52,389.31 L524.08,393.61 L523.64,397.91 L523.20,402.20" fill="none" stroke="#d1a95b" stroke-width="2.39" stroke-linecap="round"/>
<path d="M524.08,393.61 L523.64,397.91 L523.20,402.20 L522.75,406.50" fill="none" stroke="#d6ae5e" stroke-width="2.49" stroke-linecap="round"/>
<path d="M535.02,269.00 L534.94,273.30 L534.84,277.59 L534.73,281.89 L534.61,286.19 L534.47,290.48 L534.33,294.78 L534.17,299.08" fill="none" stroke="#8e8457" stroke-width="0.68" stroke-linecap="round"/>
<path d="M534.47,290.48 L534.33,294.78 L534.17,299.08 L534.00,303.38 L533.83,307.67 L533.64,311.97 L533.44,316.27 L533.22,320.56 L533.00,324.86" fill="none" stroke="#a09462" stroke-width="1.03" stroke-linecap="round"/>
<path d="M533.44,316.27 L533.22,320.56 L533.00,324.86 L532.77,329.16 L532.52,333.45 L532.27,337.75 L532.01,342.05 L531.73,346.34 L531.45,350.64" fill="none" stroke="#b3a66e" stroke-width="1.39" stroke-linecap="round"/>
<path d="M532.01,342.05 L531.73,346.34 L531.45,350.64 L531.16,354.94 L530.86,359.23 L530.54,363.53 L530.22,367.83 L529.89,372.12 L529.56,376.42" fill="none" stroke="#c7b87a" stroke-width="1.72" stroke-linecap="round"/>
<path d="M530.22,367.83 L529.89,372.12 L529.56,376.42 L529.21,380.72 L528.85,385.02 L528.49,389.31 L528.12,393.61 L527.74,397.91 L527.36,402.20" fill="none" stroke="#d9c986" stroke-width="2.01" stroke-linecap="round"/>
<path d="M528.12,393.61 L527.74,397.91 L527.36,402.20 L526.96,406.50" fill="none" stroke="#e3d28c" stroke-width="2.16" stroke-linecap="round"/>
<path d="M535.29,277.59 L535.28,281.89 L535.25,286.19 L535.20,290.48 L535.15,294.78 L535.09,299.08 L535.01,303.38 L534.92,307.67" fill="none" stroke="#6b562f" stroke-width="0.40" stroke-linecap="round"/>
<path d="M535.09,299.08 L535.01,303.38 L534.92,307.67 L534.82,311.97 L534.71,316.27 L534.58,320.56 L534.45,324.86 L534.30,329.16 L534.14,333.45" fill="none" stroke="#7a6235" stroke-width="0.66" stroke-linecap="round"/>
<path d="M534.45,324.86 L534.30,329.16 L534.14,333.45 L533.97,337.75 L533.79,342.05 L533.60,346.34 L533.39,350.64 L533.18,354.94 L532.96,359.23" fill="none" stroke="#8a703d" stroke-width="1.05" stroke-linecap="round"/>
<path d="M533.39,350.64 L533.18,354.94 L532.96,359.23 L532.72,363.53 L532.47,367.83 L532.22,372.12 L531.95,376.42 L531.68,380.72 L531.39,385.02" fill="none" stroke="#9b7d44" stroke-width="1.40" stroke-linecap="round"/>
<path d="M531.95,376.42 L531.68,380.72 L531.39,385.02 L531.10,389.31 L530.79,393.61 L530.48,397.91 L530.16,402.20 L529.83,406.50" fill="none" stroke="#aa8a4b" stroke-width="1.71" stroke-linecap="round"/>
<path d="M535.30,320.56 L535.29,324.86 L535.27,329.16 L535.24,333.45 L535.19,337.75 L535.14,342.05 L535.07,346.34 L534.99,350.64" fill="none" stroke="#69552e" stroke-width="0.40" stroke-linecap="round"/>
<path d="M535.14,342.05 L535.07,346.34 L534.99,350.64 L534.90,354.94 L534.79,359.23 L534.68,363.53 L534.55,367.83 L534.41,372.12 L534.26,376.42" fill="none" stroke="#776134" stroke-width="0.61" stroke-linecap="round"/>
<path d="M534.55,367.83 L534.41,372.12 L534.26,376.42 L534.10,380.72 L533.93,385.02 L533.74,389.31 L533.55,393.61 L533.34,397.91 L533.13,402.20" fill="none" stroke="#886e3c" stroke-width="1.00" stroke-linecap="round"/>
<path d="M533.55,393.61 L533.34,397.91 L533.13,402.20 L532.90,406.50" fill="none" stroke="#927640" stroke-width="1.21" stroke-linecap="round"/>
<path d="M535.30,363.53 L535.29,367.83 L535.26,372.12 L535.23,376.42 L535.18,380.72 L535.12,385.02 L535.05,389.31 L534.96,393.61" fill="none" stroke="#7a714b" stroke-width="0.40" stroke-linecap="round"/>
<path d="M535.12,385.02 L535.05,389.31 L534.96,393.61 L534.87,397.91 L534.76,402.20 L534.64,406.50" fill="none" stroke="#877d53" stroke-width="0.53" stroke-linecap="round"/>
<path d="M535.30,393.61 L535.29,397.91 L535.27,402.20 L535.23,406.50" fill="none" stroke="#746b47" stroke-width="0.40" stroke-linecap="round"/>
</g>
<rect x="496.7" y="269" width="38.6" height="141.5" fill="url(#cshade)"/>
<linearGradient id="shfr" gradientUnits="userSpaceOnUse" x1="0" y1="382" x2="0" y2="403"><stop offset="0" stop-color="#062004" stop-opacity="0"/><stop offset="1" stop-color="#062004" stop-opacity="0.85"/></linearGradient>
<rect x="496.7" y="382" width="38.6" height="23.5" fill="url(#shfr)"/>
</g>
<ellipse cx="516" cy="284" rx="19.3" ry="12" fill="#2e1e08"/>
<g filter="url(#soft2)">
<ellipse cx="517.54" cy="274.45" rx="3.47" ry="2.40" fill="#daca94"/>
<ellipse cx="509.65" cy="275.25" rx="3.47" ry="2.40" fill="#ccbd8a"/>
<ellipse cx="525.02" cy="276.21" rx="3.47" ry="2.40" fill="#e0d098"/>
<ellipse cx="503.47" cy="278.39" rx="3.47" ry="2.40" fill="#cbbc8a"/>
<ellipse cx="514.12" cy="278.85" rx="3.47" ry="2.40" fill="#dbcb95"/>
<ellipse cx="530.08" cy="280.05" rx="3.47" ry="2.40" fill="#ddcd96"/>
<ellipse cx="522.23" cy="280.41" rx="3.47" ry="2.40" fill="#cbbc8a"/>
<ellipse cx="507.89" cy="282.44" rx="3.47" ry="2.40" fill="#dccc95"/>
<ellipse cx="500.64" cy="283.04" rx="3.47" ry="2.40" fill="#d3c38f"/>
<ellipse cx="516.00" cy="284.00" rx="3.47" ry="2.40" fill="#f3f1d9"/>
<ellipse cx="531.36" cy="284.96" rx="3.47" ry="2.40" fill="#cbbc8a"/>
<ellipse cx="524.11" cy="285.56" rx="3.47" ry="2.40" fill="#ccbd8a"/>
<ellipse cx="509.77" cy="287.59" rx="3.47" ry="2.40" fill="#cfc08c"/>
<ellipse cx="501.92" cy="287.95" rx="3.47" ry="2.40" fill="#e0cf98"/>
<ellipse cx="517.88" cy="289.15" rx="3.47" ry="2.40" fill="#cfc08d"/>
<ellipse cx="528.53" cy="289.61" rx="3.47" ry="2.40" fill="#dbcb95"/>
<ellipse cx="506.98" cy="291.79" rx="3.47" ry="2.40" fill="#dfcf97"/>
<ellipse cx="522.35" cy="292.75" rx="3.47" ry="2.40" fill="#dfcf98"/>
<ellipse cx="514.46" cy="293.55" rx="3.47" ry="2.40" fill="#d2c38f"/>
</g>
<clipPath id="cbfm"><path d="M457.20,307.00 L457.20,416.00 A19.30,10.00 0 0 0 495.80,416.00 L495.80,307.00 A19.30,13.50 0 0 0 457.20,307.00 Z"/></clipPath>
<g clip-path="url(#cbfm)">
<path d="M457.20,307.00 L457.20,416.00 A19.30,10.00 0 0 0 495.80,416.00 L495.80,307.00 A19.30,13.50 0 0 0 457.20,307.00 Z" fill="#4a3010"/>
<g filter="url(#soft2)">
<path d="M457.22,290.50 L457.20,294.83" fill="none" stroke="#604e2a" stroke-width="0.40" stroke-linecap="round"/>
<path d="M457.84,290.50 L457.72,294.83 L457.62,299.16 L457.52,303.48 L457.44,307.81 L457.37,312.14 L457.31,316.47 L457.27,320.80" fill="none" stroke="#68542d" stroke-width="0.46" stroke-linecap="round"/>
<path d="M457.37,312.14 L457.31,316.47 L457.27,320.80 L457.23,325.12 L457.21,329.45 L457.20,333.78" fill="none" stroke="#62502b" stroke-width="0.40" stroke-linecap="round"/>
<path d="M459.79,290.50 L459.55,294.83 L459.33,299.16 L459.11,303.48 L458.91,307.81 L458.71,312.14 L458.53,316.47 L458.36,320.80" fill="none" stroke="#8d8357" stroke-width="1.14" stroke-linecap="round"/>
<path d="M458.71,312.14 L458.53,316.47 L458.36,320.80 L458.20,325.12 L458.05,329.45 L457.92,333.78 L457.79,338.11 L457.68,342.44 L457.58,346.77" fill="none" stroke="#827850" stroke-width="0.79" stroke-linecap="round"/>
<path d="M457.79,338.11 L457.68,342.44 L457.58,346.77 L457.49,351.09 L457.41,355.42 L457.34,359.75 L457.29,364.08 L457.25,368.41 L457.22,372.73" fill="none" stroke="#776e49" stroke-width="0.40" stroke-linecap="round"/>
<path d="M457.29,364.08 L457.25,368.41 L457.22,372.73 L457.20,377.06" fill="none" stroke="#726946" stroke-width="0.40" stroke-linecap="round"/>
<path d="M462.14,290.50 L461.82,294.83 L461.51,299.16 L461.21,303.48 L460.92,307.81 L460.63,312.14 L460.36,316.47 L460.10,320.80" fill="none" stroke="#8c713d" stroke-width="1.62" stroke-linecap="round"/>
<path d="M460.63,312.14 L460.36,316.47 L460.10,320.80 L459.85,325.12 L459.61,329.45 L459.38,333.78 L459.17,338.11 L458.96,342.44 L458.76,346.77" fill="none" stroke="#7f6738" stroke-width="1.30" stroke-linecap="round"/>
<path d="M459.17,338.11 L458.96,342.44 L458.76,346.77 L458.58,351.09 L458.40,355.42 L458.24,359.75 L458.09,364.08 L457.95,368.41 L457.82,372.73" fill="none" stroke="#745e33" stroke-width="0.94" stroke-linecap="round"/>
<path d="M458.09,364.08 L457.95,368.41 L457.82,372.73 L457.71,377.06 L457.60,381.39 L457.51,385.72 L457.43,390.05 L457.36,394.38 L457.30,398.70" fill="none" stroke="#6a562e" stroke-width="0.55" stroke-linecap="round"/>
<path d="M457.43,390.05 L457.36,394.38 L457.30,398.70 L457.26,403.03 L457.23,407.36 L457.21,411.69 L457.20,416.02" fill="none" stroke="#63502b" stroke-width="0.40" stroke-linecap="round"/>
<path d="M464.88,290.50 L464.50,294.83 L464.12,299.16 L463.75,303.48 L463.39,307.81 L463.04,312.14 L462.70,316.47 L462.37,320.80" fill="none" stroke="#b9ab72" stroke-width="2.00" stroke-linecap="round"/>
<path d="M463.04,312.14 L462.70,316.47 L462.37,320.80 L462.04,325.12 L461.72,329.45 L461.42,333.78 L461.12,338.11 L460.83,342.44 L460.55,346.77" fill="none" stroke="#a89c68" stroke-width="1.73" stroke-linecap="round"/>
<path d="M461.12,338.11 L460.83,342.44 L460.55,346.77 L460.29,351.09 L460.03,355.42 L459.78,359.75 L459.54,364.08 L459.32,368.41 L459.10,372.73" fill="none" stroke="#988d5d" stroke-width="1.40" stroke-linecap="round"/>
<path d="M459.54,364.08 L459.32,368.41 L459.10,372.73 L458.90,377.06 L458.71,381.39 L458.52,385.72 L458.35,390.05 L458.19,394.38 L458.05,398.70" fill="none" stroke="#8a8055" stroke-width="1.04" stroke-linecap="round"/>
<path d="M458.35,390.05 L458.19,394.38 L458.05,398.70 L457.91,403.03 L457.79,407.36 L457.67,411.69 L457.57,416.02 L457.48,420.34 L457.41,424.67" fill="none" stroke="#7e754d" stroke-width="0.66" stroke-linecap="round"/>
<path d="M457.57,416.02 L457.48,420.34 L457.41,424.67 L457.34,429.00" fill="none" stroke="#786f4a" stroke-width="0.43" stroke-linecap="round"/>
<path d="M469.58,290.50 L469.13,294.83 L468.68,299.16 L468.24,303.48 L467.81,307.81 L467.38,312.14 L466.95,316.47 L466.54,320.80" fill="none" stroke="#dccb87" stroke-width="2.42" stroke-linecap="round"/>
<path d="M467.38,312.14 L466.95,316.47 L466.54,320.80 L466.13,325.12 L465.72,329.45 L465.32,333.78 L464.93,338.11 L464.55,342.44 L464.17,346.77" fill="none" stroke="#cbbc7d" stroke-width="2.23" stroke-linecap="round"/>
<path d="M464.93,338.11 L464.55,342.44 L464.17,346.77 L463.80,351.09 L463.44,355.42 L463.09,359.75 L462.74,364.08 L462.41,368.41 L462.08,372.73" fill="none" stroke="#b8aa71" stroke-width="1.98" stroke-linecap="round"/>
<path d="M462.74,364.08 L462.41,368.41 L462.08,372.73 L461.76,377.06 L461.46,381.39 L461.16,385.72 L460.87,390.05 L460.59,394.38 L460.32,398.70" fill="none" stroke="#a69a66" stroke-width="1.69" stroke-linecap="round"/>
<path d="M460.87,390.05 L460.59,394.38 L460.32,398.70 L460.06,403.03 L459.81,407.36 L459.57,411.69 L459.35,416.02 L459.13,420.34 L458.92,424.67" fill="none" stroke="#968b5c" stroke-width="1.35" stroke-linecap="round"/>
<path d="M459.35,416.02 L459.13,420.34 L458.92,424.67 L458.73,429.00" fill="none" stroke="#8d8357" stroke-width="1.15" stroke-linecap="round"/>
<path d="M473.76,290.50 L473.28,294.83 L472.80,299.16 L472.33,303.48 L471.86,307.81 L471.39,312.14 L470.92,316.47 L470.46,320.80" fill="none" stroke="#d1a95b" stroke-width="2.62" stroke-linecap="round"/>
<path d="M471.39,312.14 L470.92,316.47 L470.46,320.80 L470.00,325.12 L469.55,329.45 L469.10,333.78 L468.65,338.11 L468.21,342.44 L467.78,346.77" fill="none" stroke="#c5a056" stroke-width="2.51" stroke-linecap="round"/>
<path d="M468.65,338.11 L468.21,342.44 L467.78,346.77 L467.35,351.09 L466.93,355.42 L466.51,359.75 L466.10,364.08 L465.69,368.41 L465.30,372.73" fill="none" stroke="#b69450" stroke-width="2.34" stroke-linecap="round"/>
<path d="M466.10,364.08 L465.69,368.41 L465.30,372.73 L464.90,377.06 L464.52,381.39 L464.14,385.72 L463.78,390.05 L463.42,394.38 L463.06,398.70" fill="none" stroke="#a68749" stroke-width="2.11" stroke-linecap="round"/>
<path d="M463.78,390.05 L463.42,394.38 L463.06,398.70 L462.72,403.03 L462.39,407.36 L462.06,411.69 L461.74,416.02 L461.44,420.34 L461.14,424.67" fill="none" stroke="#967a42" stroke-width="1.84" stroke-linecap="round"/>
<path d="M461.74,416.02 L461.44,420.34 L461.14,424.67 L460.85,429.00" fill="none" stroke="#8d723e" stroke-width="1.66" stroke-linecap="round"/>
<path d="M478.15,290.50 L477.67,294.83 L477.18,299.16 L476.70,303.48 L476.21,307.81 L475.73,312.14 L475.25,316.47 L474.76,320.80" fill="none" stroke="#ffed9d" stroke-width="2.70" stroke-linecap="round"/>
<path d="M475.73,312.14 L475.25,316.47 L474.76,320.80 L474.28,325.12 L473.80,329.45 L473.32,333.78 L472.84,338.11 L472.37,342.44 L471.90,346.77" fill="none" stroke="#f9e799" stroke-width="2.67" stroke-linecap="round"/>
<path d="M472.84,338.11 L472.37,342.44 L471.90,346.77 L471.43,351.09 L470.96,355.42 L470.50,359.75 L470.04,364.08 L469.59,368.41 L469.14,372.73" fill="none" stroke="#eddc92" stroke-width="2.58" stroke-linecap="round"/>
<path d="M470.04,364.08 L469.59,368.41 L469.14,372.73 L468.69,377.06 L468.25,381.39 L467.82,385.72 L467.39,390.05 L466.96,394.38 L466.54,398.70" fill="none" stroke="#ddcd88" stroke-width="2.44" stroke-linecap="round"/>
<path d="M467.39,390.05 L466.96,394.38 L466.54,398.70 L466.13,403.03 L465.73,407.36 L465.33,411.69 L464.94,416.02 L464.55,420.34 L464.18,424.67" fill="none" stroke="#cbbc7d" stroke-width="2.24" stroke-linecap="round"/>
<path d="M464.94,416.02 L464.55,420.34 L464.18,424.67 L463.81,429.00" fill="none" stroke="#c0b276" stroke-width="2.10" stroke-linecap="round"/>
<path d="M481.14,290.50 L480.66,294.83 L480.19,299.16 L479.71,303.48 L479.23,307.81 L478.75,312.14 L478.27,316.47 L477.79,320.80" fill="none" stroke="#deb461" stroke-width="2.66" stroke-linecap="round"/>
<path d="M478.75,312.14 L478.27,316.47 L477.79,320.80 L477.31,325.12 L476.82,329.45 L476.34,333.78 L475.85,338.11 L475.37,342.44 L474.89,346.77" fill="none" stroke="#ddb361" stroke-width="2.69" stroke-linecap="round"/>
<path d="M475.85,338.11 L475.37,342.44 L474.89,346.77 L474.40,351.09 L473.92,355.42 L473.44,359.75 L472.97,364.08 L472.49,368.41 L472.02,372.73" fill="none" stroke="#d7ae5e" stroke-width="2.67" stroke-linecap="round"/>
<path d="M472.97,364.08 L472.49,368.41 L472.02,372.73 L471.55,377.06 L471.08,381.39 L470.62,385.72 L470.16,390.05 L469.70,394.38 L469.25,398.70" fill="none" stroke="#cda65a" stroke-width="2.59" stroke-linecap="round"/>
<path d="M470.16,390.05 L469.70,394.38 L469.25,398.70 L468.81,403.03 L468.36,407.36 L467.93,411.69 L467.50,416.02 L467.07,420.34 L466.65,424.67" fill="none" stroke="#bf9b54" stroke-width="2.44" stroke-linecap="round"/>
<path d="M467.50,416.02 L467.07,420.34 L466.65,424.67 L466.24,429.00" fill="none" stroke="#b69350" stroke-width="2.34" stroke-linecap="round"/>
<path d="M486.27,290.50 L485.85,294.83 L485.42,299.16 L484.99,303.48 L484.55,307.81 L484.11,312.14 L483.66,316.47 L483.21,320.80" fill="none" stroke="#f5e397" stroke-width="2.44" stroke-linecap="round"/>
<path d="M484.11,312.14 L483.66,316.47 L483.21,320.80 L482.75,325.12 L482.29,329.45 L481.83,333.78 L481.36,338.11 L480.89,342.44 L480.42,346.77" fill="none" stroke="#feeb9c" stroke-width="2.57" stroke-linecap="round"/>
<path d="M481.36,338.11 L480.89,342.44 L480.42,346.77 L479.94,351.09 L479.47,355.42 L478.99,359.75 L478.51,364.08 L478.02,368.41 L477.54,372.73" fill="none" stroke="#ffef9f" stroke-width="2.66" stroke-linecap="round"/>
<path d="M478.51,364.08 L478.02,368.41 L477.54,372.73 L477.06,377.06 L476.57,381.39 L476.09,385.72 L475.60,390.05 L475.12,394.38 L474.64,398.70" fill="none" stroke="#ffed9d" stroke-width="2.69" stroke-linecap="round"/>
<path d="M475.60,390.05 L475.12,394.38 L474.64,398.70 L474.15,403.03 L473.67,407.36 L473.20,411.69 L472.72,416.02 L472.25,420.34 L471.77,424.67" fill="none" stroke="#f9e699" stroke-width="2.67" stroke-linecap="round"/>
<path d="M472.72,416.02 L472.25,420.34 L471.77,424.67 L471.31,429.00" fill="none" stroke="#f2e095" stroke-width="2.62" stroke-linecap="round"/>
<path d="M488.81,290.50 L488.43,294.83 L488.04,299.16 L487.65,303.48 L487.25,307.81 L486.85,312.14 L486.44,316.47 L486.02,320.80" fill="none" stroke="#e7d68e" stroke-width="2.22" stroke-linecap="round"/>
<path d="M486.85,312.14 L486.44,316.47 L486.02,320.80 L485.59,325.12 L485.16,329.45 L484.73,333.78 L484.29,338.11 L483.84,342.44 L483.39,346.77" fill="none" stroke="#f4e296" stroke-width="2.41" stroke-linecap="round"/>
<path d="M484.29,338.11 L483.84,342.44 L483.39,346.77 L482.94,351.09 L482.48,355.42 L482.01,359.75 L481.55,364.08 L481.08,368.41 L480.61,372.73" fill="none" stroke="#fdeb9c" stroke-width="2.56" stroke-linecap="round"/>
<path d="M481.55,364.08 L481.08,368.41 L480.61,372.73 L480.13,377.06 L479.66,381.39 L479.18,385.72 L478.70,390.05 L478.21,394.38 L477.73,398.70" fill="none" stroke="#ffef9e" stroke-width="2.66" stroke-linecap="round"/>
<path d="M478.70,390.05 L478.21,394.38 L477.73,398.70 L477.25,403.03 L476.76,407.36 L476.28,411.69 L475.79,416.02 L475.31,420.34 L474.83,424.67" fill="none" stroke="#ffed9e" stroke-width="2.69" stroke-linecap="round"/>
<path d="M475.79,416.02 L475.31,420.34 L474.83,424.67 L474.35,429.00" fill="none" stroke="#fdeb9c" stroke-width="2.69" stroke-linecap="round"/>
<path d="M492.36,290.50 L492.08,294.83 L491.79,299.16 L491.49,303.48 L491.18,307.81 L490.86,312.14 L490.53,316.47 L490.19,320.80" fill="none" stroke="#c7b87a" stroke-width="1.72" stroke-linecap="round"/>
<path d="M490.86,312.14 L490.53,316.47 L490.19,320.80 L489.85,325.12 L489.49,329.45 L489.13,333.78 L488.76,338.11 L488.38,342.44 L488.00,346.77" fill="none" stroke="#d8c885" stroke-width="1.99" stroke-linecap="round"/>
<path d="M488.76,338.11 L488.38,342.44 L488.00,346.77 L487.60,351.09 L487.20,355.42 L486.80,359.75 L486.38,364.08 L485.96,368.41 L485.54,372.73" fill="none" stroke="#e9d78f" stroke-width="2.24" stroke-linecap="round"/>
<path d="M486.38,364.08 L485.96,368.41 L485.54,372.73 L485.11,377.06 L484.67,381.39 L484.23,385.72 L483.78,390.05 L483.33,394.38 L482.88,398.70" fill="none" stroke="#f6e497" stroke-width="2.44" stroke-linecap="round"/>
<path d="M483.78,390.05 L483.33,394.38 L482.88,398.70 L482.42,403.03 L481.96,407.36 L481.49,411.69 L481.02,416.02 L480.55,420.34 L480.07,424.67" fill="none" stroke="#ffec9d" stroke-width="2.58" stroke-linecap="round"/>
<path d="M481.02,416.02 L480.55,420.34 L480.07,424.67 L479.60,429.00" fill="none" stroke="#ffef9e" stroke-width="2.65" stroke-linecap="round"/>
<path d="M494.61,290.50 L494.43,294.83 L494.25,299.16 L494.05,303.48 L493.84,307.81 L493.63,312.14 L493.40,316.47 L493.16,320.80" fill="none" stroke="#a69a66" stroke-width="1.15" stroke-linecap="round"/>
<path d="M493.63,312.14 L493.40,316.47 L493.16,320.80 L492.91,325.12 L492.65,329.45 L492.38,333.78 L492.10,338.11 L491.81,342.44 L491.51,346.77" fill="none" stroke="#b8ab71" stroke-width="1.48" stroke-linecap="round"/>
<path d="M492.10,338.11 L491.81,342.44 L491.51,346.77 L491.20,351.09 L490.88,355.42 L490.55,359.75 L490.22,364.08 L489.87,368.41 L489.52,372.73" fill="none" stroke="#ccbd7d" stroke-width="1.80" stroke-linecap="round"/>
<path d="M490.22,364.08 L489.87,368.41 L489.52,372.73 L489.16,377.06 L488.79,381.39 L488.41,385.72 L488.02,390.05 L487.63,394.38 L487.23,398.70" fill="none" stroke="#decd88" stroke-width="2.08" stroke-linecap="round"/>
<path d="M488.02,390.05 L487.63,394.38 L487.23,398.70 L486.83,403.03 L486.41,407.36 L485.99,411.69 L485.57,416.02 L485.14,420.34 L484.70,424.67" fill="none" stroke="#eddc92" stroke-width="2.31" stroke-linecap="round"/>
<path d="M485.57,416.02 L485.14,420.34 L484.70,424.67 L484.26,429.00" fill="none" stroke="#f5e397" stroke-width="2.43" stroke-linecap="round"/>
<path d="M495.43,290.50 L495.33,294.83 L495.22,299.16 L495.09,303.48 L494.96,307.81 L494.81,312.14 L494.65,316.47 L494.48,320.80" fill="none" stroke="#92875a" stroke-width="0.76" stroke-linecap="round"/>
<path d="M494.81,312.14 L494.65,316.47 L494.48,320.80 L494.30,325.12 L494.10,329.45 L493.90,333.78 L493.68,338.11 L493.46,342.44 L493.22,346.77" fill="none" stroke="#a49865" stroke-width="1.10" stroke-linecap="round"/>
<path d="M493.68,338.11 L493.46,342.44 L493.22,346.77 L492.97,351.09 L492.72,355.42 L492.45,359.75 L492.17,364.08 L491.88,368.41 L491.59,372.73" fill="none" stroke="#b7aa71" stroke-width="1.46" stroke-linecap="round"/>
<path d="M492.17,364.08 L491.88,368.41 L491.59,372.73 L491.28,377.06 L490.96,381.39 L490.64,385.72 L490.30,390.05 L489.96,394.38 L489.61,398.70" fill="none" stroke="#cbbc7d" stroke-width="1.78" stroke-linecap="round"/>
<path d="M490.30,390.05 L489.96,394.38 L489.61,398.70 L489.25,403.03 L488.88,407.36 L488.51,411.69 L488.12,416.02 L487.73,420.34 L487.33,424.67" fill="none" stroke="#ddcd88" stroke-width="2.07" stroke-linecap="round"/>
<path d="M488.12,416.02 L487.73,420.34 L487.33,424.67 L486.93,429.00" fill="none" stroke="#e7d68e" stroke-width="2.21" stroke-linecap="round"/>
<path d="M495.80,299.16 L495.79,303.48 L495.77,307.81 L495.73,312.14 L495.69,316.47 L495.63,320.80 L495.56,325.12 L495.48,329.45" fill="none" stroke="#69552e" stroke-width="0.40" stroke-linecap="round"/>
<path d="M495.63,320.80 L495.56,325.12 L495.48,329.45 L495.38,333.78 L495.27,338.11 L495.16,342.44 L495.03,346.77 L494.88,351.09 L494.73,355.42" fill="none" stroke="#786135" stroke-width="0.62" stroke-linecap="round"/>
<path d="M495.03,346.77 L494.88,351.09 L494.73,355.42 L494.57,359.75 L494.39,364.08 L494.20,368.41 L494.00,372.73 L493.79,377.06 L493.57,381.39" fill="none" stroke="#896f3c" stroke-width="1.01" stroke-linecap="round"/>
<path d="M494.00,372.73 L493.79,377.06 L493.57,381.39 L493.34,385.72 L493.10,390.05 L492.85,394.38 L492.59,398.70 L492.31,403.03 L492.03,407.36" fill="none" stroke="#9a7c43" stroke-width="1.37" stroke-linecap="round"/>
<path d="M492.59,398.70 L492.31,403.03 L492.03,407.36 L491.74,411.69 L491.44,416.02 L491.12,420.34 L490.80,424.67 L490.47,429.00" fill="none" stroke="#a9894a" stroke-width="1.68" stroke-linecap="round"/>
<path d="M495.80,346.77 L495.79,351.09 L495.76,355.42 L495.73,359.75 L495.68,364.08 L495.62,368.41 L495.55,372.73 L495.47,377.06" fill="none" stroke="#7a714b" stroke-width="0.40" stroke-linecap="round"/>
<path d="M495.62,368.41 L495.55,372.73 L495.47,377.06 L495.37,381.39 L495.26,385.72 L495.14,390.05 L495.01,394.38 L494.87,398.70 L494.72,403.03" fill="none" stroke="#8c8156" stroke-width="0.63" stroke-linecap="round"/>
<path d="M495.01,394.38 L494.87,398.70 L494.72,403.03 L494.55,407.36 L494.37,411.69 L494.18,416.02 L493.98,420.34 L493.77,424.67 L493.55,429.00" fill="none" stroke="#9f9362" stroke-width="1.02" stroke-linecap="round"/>
<path d="M493.98,420.34 L493.77,424.67 L493.55,429.00" fill="none" stroke="#a99c68" stroke-width="1.20" stroke-linecap="round"/>
<path d="M495.80,381.39 L495.79,385.72 L495.76,390.05 L495.73,394.38 L495.68,398.70 L495.62,403.03 L495.55,407.36 L495.47,411.69" fill="none" stroke="#69552e" stroke-width="0.40" stroke-linecap="round"/>
<path d="M495.62,403.03 L495.55,407.36 L495.47,411.69 L495.37,416.02 L495.26,420.34 L495.14,424.67 L495.01,429.00" fill="none" stroke="#755f33" stroke-width="0.57" stroke-linecap="round"/>
<path d="M495.79,424.67 L495.78,429.00" fill="none" stroke="#62502b" stroke-width="0.40" stroke-linecap="round"/>
</g>
<rect x="457.2" y="290.5" width="38.6" height="142.5" fill="url(#cshade)"/>
<linearGradient id="shfm" gradientUnits="userSpaceOnUse" x1="0" y1="404" x2="0" y2="426"><stop offset="0" stop-color="#000" stop-opacity="0"/><stop offset="1" stop-color="#000" stop-opacity="0.85"/></linearGradient>
<rect x="457.2" y="404" width="38.6" height="24" fill="url(#shfm)"/>
</g>
<ellipse cx="476.5" cy="307" rx="19.3" ry="13.5" fill="#2e1e08"/>
<g filter="url(#soft2)">
<ellipse cx="478.04" cy="296.25" rx="3.47" ry="2.70" fill="#d5c691"/>
<ellipse cx="470.15" cy="297.15" rx="3.47" ry="2.70" fill="#cebf8c"/>
<ellipse cx="485.52" cy="298.23" rx="3.47" ry="2.70" fill="#cfc08d"/>
<ellipse cx="463.97" cy="300.69" rx="3.47" ry="2.70" fill="#decd96"/>
<ellipse cx="474.62" cy="301.21" rx="3.47" ry="2.70" fill="#daca94"/>
<ellipse cx="490.58" cy="302.56" rx="3.47" ry="2.70" fill="#cbbc8a"/>
<ellipse cx="482.73" cy="302.96" rx="3.47" ry="2.70" fill="#dccc95"/>
<ellipse cx="468.39" cy="305.24" rx="3.47" ry="2.70" fill="#cbbc8a"/>
<ellipse cx="461.14" cy="305.92" rx="3.47" ry="2.70" fill="#d2c38f"/>
<ellipse cx="476.50" cy="307.00" rx="3.47" ry="2.70" fill="#fbf9e0"/>
<ellipse cx="491.86" cy="308.08" rx="3.47" ry="2.70" fill="#d8c893"/>
<ellipse cx="484.61" cy="308.76" rx="3.47" ry="2.70" fill="#d1c28e"/>
<ellipse cx="470.27" cy="311.04" rx="3.47" ry="2.70" fill="#d3c38f"/>
<ellipse cx="462.42" cy="311.44" rx="3.47" ry="2.70" fill="#d3c48f"/>
<ellipse cx="478.38" cy="312.79" rx="3.47" ry="2.70" fill="#cebe8c"/>
<ellipse cx="489.03" cy="313.31" rx="3.47" ry="2.70" fill="#e1d098"/>
<ellipse cx="467.48" cy="315.77" rx="3.47" ry="2.70" fill="#ccbd8a"/>
<ellipse cx="482.85" cy="316.85" rx="3.47" ry="2.70" fill="#d4c490"/>
<ellipse cx="474.96" cy="317.75" rx="3.47" ry="2.70" fill="#dbcb95"/>
</g>
<g stroke="#3a3a3a" stroke-width="1.2" fill="none">
<line x1="528" y1="258.1" x2="614.7" y2="263.6"/>
<line x1="520.7" y1="349.5" x2="615.2" y2="358.5"/>
<line x1="237.1" y1="391.1" x2="421" y2="445.1"/>
<line x1="236" y1="459.5" x2="421" y2="502.1"/>
<line x1="240.6" y1="544.4" x2="385.4" y2="626.8"/>
</g>
</svg><svg id="lbls" width="800" height="800" viewBox="0 0 800 800">
<text class="lbl" x="619" y="271.2">Ground Wire</text>
<text class="lbl" x="618.8" y="366">Conductor</text>
<text class="lbl" text-anchor="end" x="235" y="397">Insulation</text>
<text class="lbl" text-anchor="end" x="235" y="466">Magnet</text>
<text class="lbl" text-anchor="end" x="235" y="550.5">Nylon Braid</text>
</svg></body></html>
